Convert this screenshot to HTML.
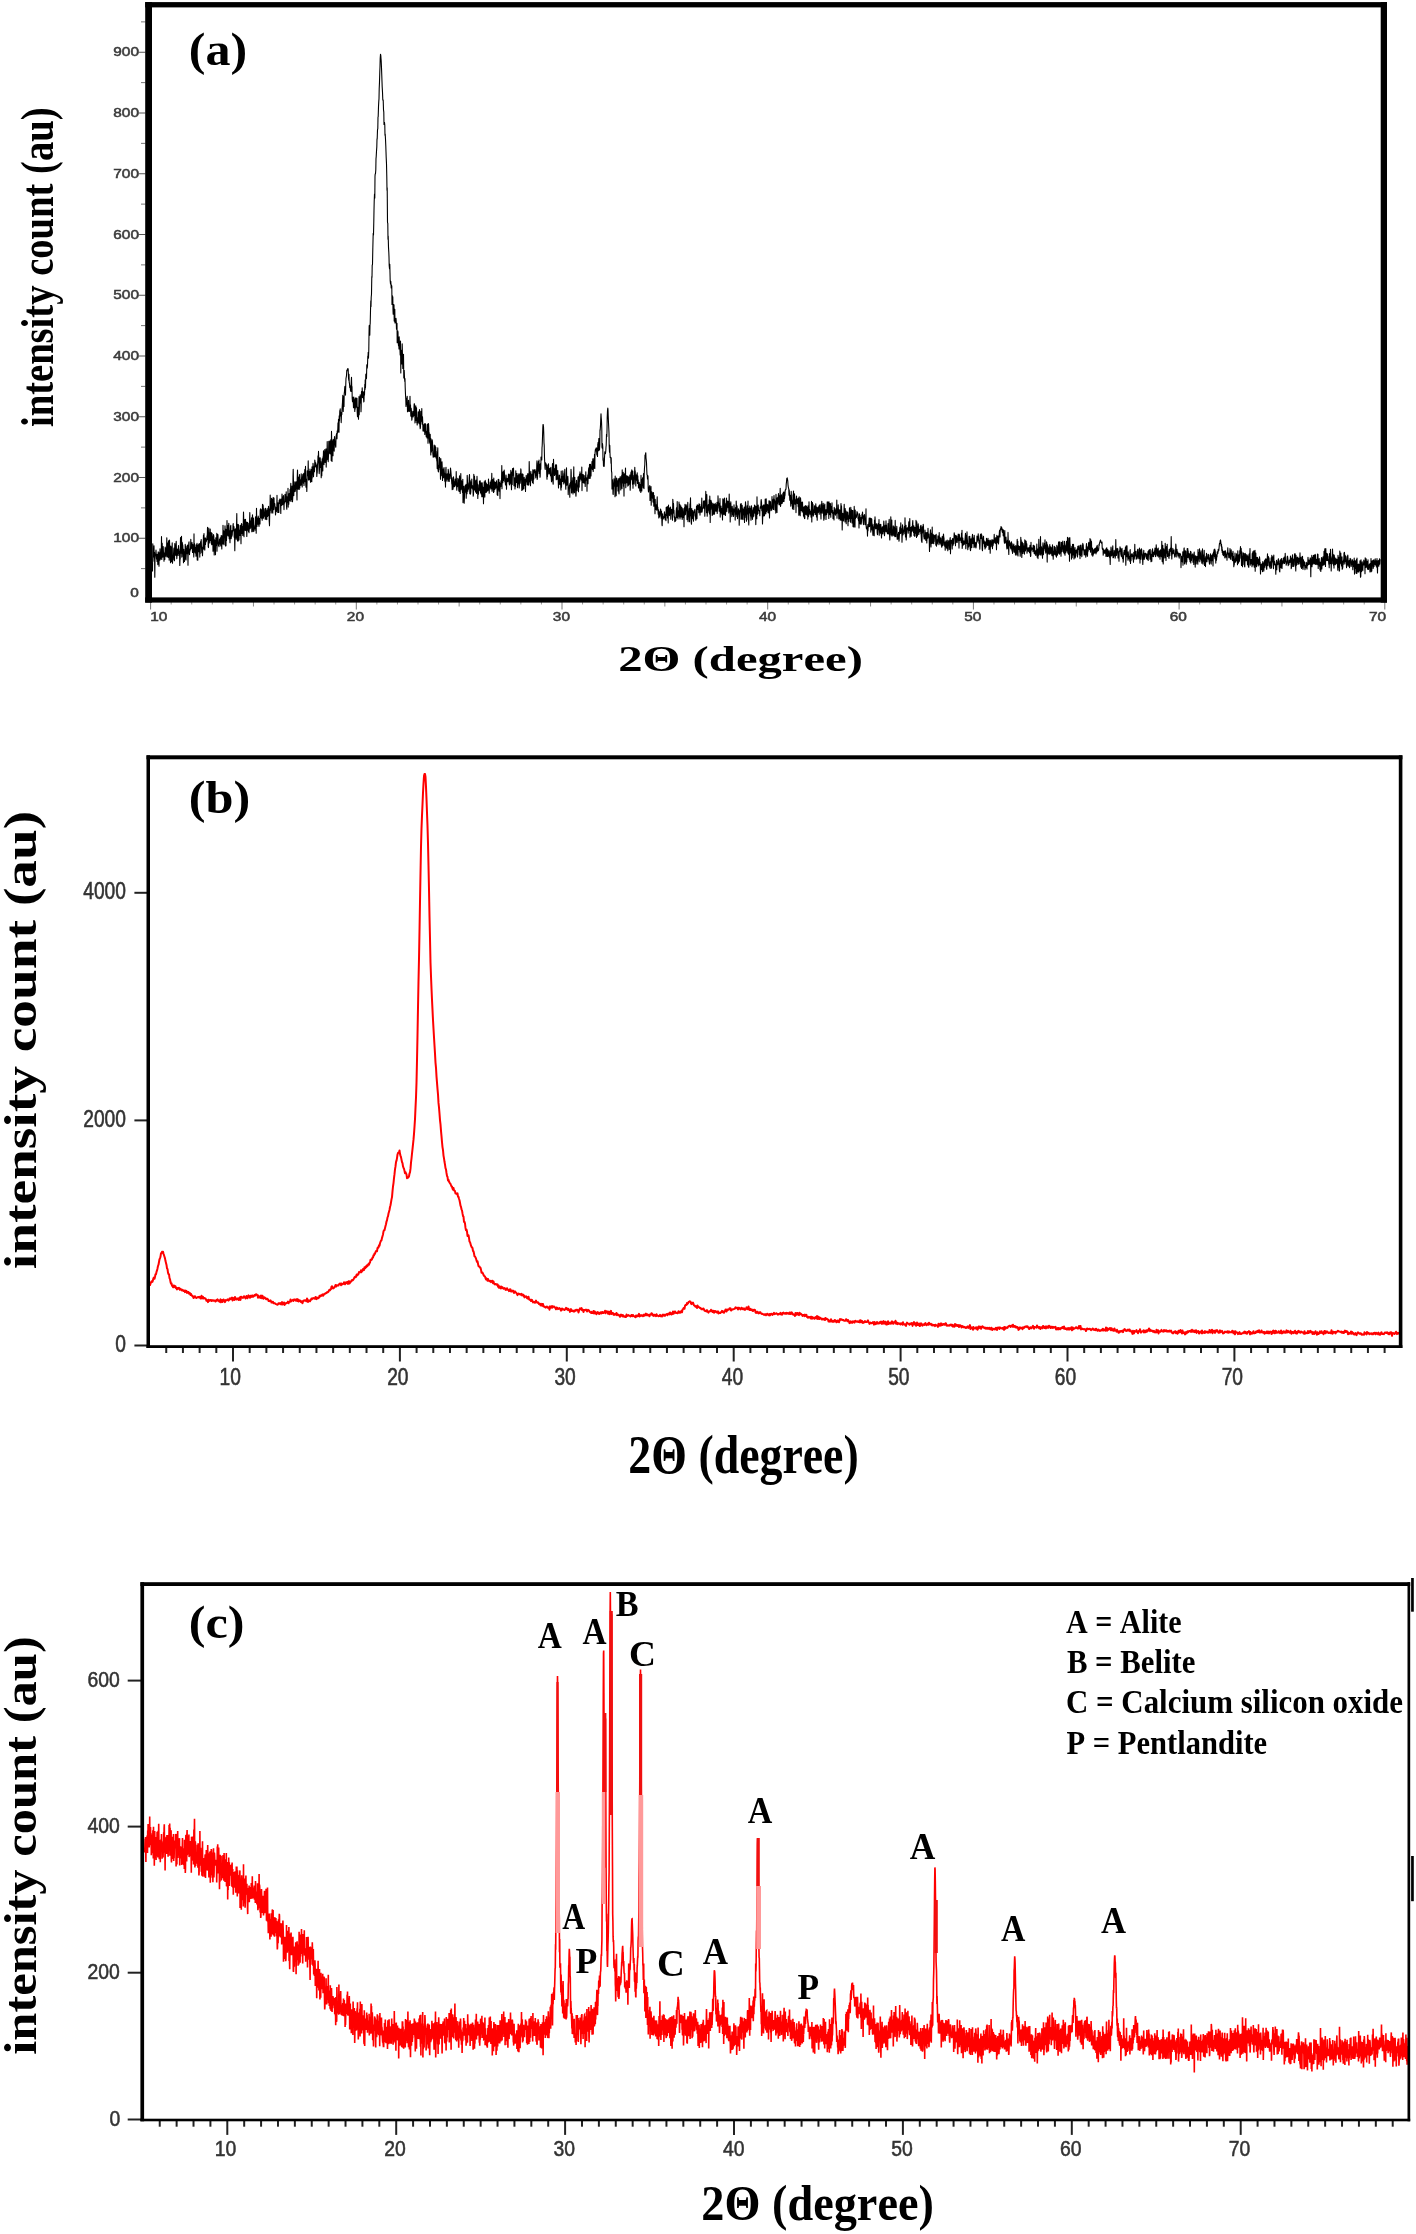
<!DOCTYPE html>
<html><head><meta charset="utf-8"><style>
html,body{margin:0;padding:0;background:#fff;}
svg{display:block;will-change:transform;}
text{font-kerning:none;}
</style></head><body>
<svg width="1416" height="2234" viewBox="0 0 1416 2234">
<rect width="1416" height="2234" fill="#fff"/>
<path d="M152.5,571.5 L152.8,543.7 153.0,561.3 153.2,555.2 153.5,555.7 153.8,556.9 154.0,545.8 154.2,556.4 154.5,552.4 154.8,577.3 155.0,558.5 155.2,554.9 155.5,555.1 155.8,552.6 156.0,550.1 156.2,553.9 156.5,559.0 156.8,554.5 157.0,561.5 157.2,554.4 157.5,555.6 157.8,564.6 158.0,558.4 158.2,551.9 158.5,553.7 158.8,557.9 159.0,566.2 159.2,552.8 159.5,552.8 159.8,560.2 160.0,548.7 160.2,552.2 160.5,559.2 160.8,557.2 161.0,554.2 161.2,557.6 161.5,536.5 161.8,559.5 162.0,547.5 162.2,543.2 162.5,554.8 162.8,557.3 163.0,550.4 163.2,546.5 163.5,553.1 163.8,552.6 164.0,561.3 164.2,557.3 164.5,553.9 164.8,559.4 165.0,551.5 165.2,547.1 165.5,556.2 165.8,556.2 166.0,551.4 166.2,548.0 166.5,554.1 166.8,537.7 167.0,556.9 167.2,555.8 167.5,543.0 167.8,553.2 168.0,547.1 168.2,557.5 168.5,540.7 168.8,547.5 169.0,557.3 169.2,560.1 169.5,540.1 169.8,550.2 170.0,555.2 170.2,549.5 170.5,562.8 170.8,546.1 171.0,555.4 171.2,547.0 171.5,561.8 171.8,553.1 172.0,551.0 172.2,542.9 172.5,563.3 172.8,557.7 173.0,557.7 173.2,559.9 173.5,555.1 173.8,549.0 174.0,548.0 174.2,547.9 174.5,560.8 174.8,543.6 175.0,548.7 175.2,550.3 175.5,553.4 175.8,555.4 176.0,544.2 176.2,541.2 176.5,551.5 176.8,558.7 177.0,555.8 177.2,552.4 177.5,549.0 177.8,552.6 178.0,549.2 178.2,555.5 178.5,545.6 178.8,551.1 179.0,549.6 179.2,553.4 179.5,551.4 179.8,565.4 180.0,559.0 180.2,559.0 180.5,537.6 180.8,547.9 181.0,546.3 181.2,553.2 181.5,536.2 181.8,557.1 182.0,556.5 182.2,542.3 182.5,544.3 182.8,545.4 183.0,550.6 183.2,554.3 183.5,562.8 183.8,549.3 184.0,555.2 184.2,551.6 184.5,561.4 184.8,555.3 185.0,559.1 185.2,544.4 185.5,549.7 185.8,546.0 186.0,560.0 186.2,554.9 186.5,549.1 186.8,548.1 187.0,553.8 187.2,546.5 187.5,545.0 187.8,553.5 188.0,565.3 188.2,548.8 188.5,546.8 188.8,542.9 189.0,541.8 189.2,552.8 189.5,554.6 189.8,549.3 190.0,551.1 190.2,549.6 190.5,549.5 190.8,539.2 191.0,545.5 191.2,548.8 191.5,543.2 191.8,544.8 192.0,542.6 192.2,545.3 192.5,552.4 192.8,544.6 193.0,546.0 193.2,551.7 193.5,550.6 193.8,556.9 194.0,533.9 194.2,551.7 194.5,543.5 194.8,547.2 195.0,551.5 195.2,553.0 195.5,552.7 195.8,547.4 196.0,556.3 196.2,544.9 196.5,545.8 196.8,551.6 197.0,543.4 197.2,560.0 197.5,553.1 197.8,560.2 198.0,546.9 198.2,544.8 198.5,548.2 198.8,551.7 199.0,543.7 199.2,549.6 199.5,547.2 199.8,557.1 200.0,543.2 200.2,553.6 200.5,543.2 200.8,541.2 201.0,542.7 201.2,539.6 201.5,547.6 201.8,552.7 202.0,547.3 202.2,549.9 202.5,555.7 202.8,547.2 203.0,546.5 203.2,543.4 203.5,535.0 203.8,549.1 204.0,533.5 204.2,547.8 204.5,543.5 204.8,550.1 205.0,542.5 205.2,537.7 205.5,544.5 205.8,538.7 206.0,540.7 206.2,541.8 206.5,540.5 206.8,539.9 207.0,535.8 207.2,539.5 207.5,527.4 207.8,539.3 208.0,532.8 208.2,546.8 208.5,547.6 208.8,528.0 209.0,540.7 209.2,539.0 209.5,533.4 209.8,543.0 210.0,537.0 210.2,529.1 210.5,538.2 210.8,539.0 211.0,540.6 211.2,532.6 211.5,543.9 211.8,544.7 212.0,533.3 212.2,536.4 212.5,540.0 212.8,537.1 213.0,551.2 213.2,542.0 213.5,534.6 213.8,536.0 214.0,540.5 214.2,554.9 214.5,539.9 214.8,541.8 215.0,544.1 215.2,540.7 215.5,554.8 215.8,537.7 216.0,545.4 216.2,541.8 216.5,544.5 216.8,533.4 217.0,551.3 217.2,539.6 217.5,540.5 217.8,534.4 218.0,535.5 218.2,543.3 218.5,545.7 218.8,544.1 219.0,546.7 219.2,543.5 219.5,539.2 219.8,543.9 220.0,542.2 220.2,537.8 220.5,542.7 220.8,545.9 221.0,539.3 221.2,535.5 221.5,541.9 221.8,548.9 222.0,535.8 222.2,536.4 222.5,535.9 222.8,544.0 223.0,525.2 223.2,538.4 223.5,543.3 223.8,530.9 224.0,544.8 224.2,538.8 224.5,532.1 224.8,536.5 225.0,525.8 225.2,531.5 225.5,546.0 225.8,529.3 226.0,545.8 226.2,534.0 226.5,540.4 226.8,534.5 227.0,520.5 227.2,530.5 227.5,535.1 227.8,526.8 228.0,525.6 228.2,535.9 228.5,529.7 228.8,523.2 229.0,529.4 229.2,538.7 229.5,530.6 229.8,539.1 230.0,542.7 230.2,533.6 230.5,526.4 230.8,525.4 231.0,533.2 231.2,538.7 231.5,534.9 231.8,536.6 232.0,530.6 232.2,535.1 232.5,530.4 232.8,531.3 233.0,525.3 233.2,523.6 233.5,530.2 233.8,526.4 234.0,527.3 234.2,537.2 234.5,532.4 234.8,550.8 235.0,538.6 235.2,529.0 235.5,537.6 235.8,534.9 236.0,528.5 236.2,539.3 236.5,527.7 236.8,513.6 237.0,537.1 237.2,528.3 237.5,541.0 237.8,527.8 238.0,524.4 238.2,541.0 238.5,524.8 238.8,532.4 239.0,539.9 239.2,531.5 239.5,530.2 239.8,531.1 240.0,535.4 240.2,525.2 240.5,533.7 240.8,533.3 241.0,543.8 241.2,527.3 241.5,523.6 241.8,533.5 242.0,526.4 242.2,530.4 242.5,529.3 242.8,535.4 243.0,524.1 243.2,527.4 243.5,512.1 243.8,522.1 244.0,536.8 244.2,523.1 244.5,522.8 244.8,519.5 245.0,530.3 245.2,527.7 245.5,519.2 245.8,530.4 246.0,527.8 246.2,530.6 246.5,522.0 246.8,536.4 247.0,528.1 247.2,524.8 247.5,522.2 247.8,523.7 248.0,530.3 248.2,523.3 248.5,531.4 248.8,528.3 249.0,532.8 249.2,529.4 249.5,524.0 249.8,512.5 250.0,525.9 250.2,528.8 250.5,524.9 250.8,527.2 251.0,520.8 251.2,521.2 251.5,517.7 251.8,531.7 252.0,524.2 252.2,520.1 252.5,514.9 252.8,522.0 253.0,531.6 253.2,525.5 253.5,518.1 253.8,531.2 254.0,531.1 254.2,528.2 254.5,526.9 254.8,529.0 255.0,525.1 255.2,526.3 255.5,516.7 255.8,530.5 256.0,522.5 256.2,533.3 256.5,508.2 256.8,524.9 257.0,526.4 257.2,518.0 257.5,522.7 257.8,524.3 258.0,523.0 258.2,516.0 258.5,518.2 258.8,525.1 259.0,526.4 259.2,518.9 259.5,518.6 259.8,519.1 260.0,524.0 260.2,510.9 260.5,508.9 260.8,517.6 261.0,509.8 261.2,512.7 261.5,516.6 261.8,518.8 262.0,509.0 262.2,520.3 262.5,504.2 262.8,518.2 263.0,504.9 263.2,506.6 263.5,518.1 263.8,511.5 264.0,508.9 264.2,510.8 264.5,516.2 264.8,512.8 265.0,512.8 265.2,519.3 265.5,508.2 265.8,509.5 266.0,509.1 266.2,519.3 266.5,518.0 266.8,519.7 267.0,511.4 267.2,510.4 267.5,516.5 267.8,508.6 268.0,516.0 268.2,515.1 268.5,506.2 268.8,509.8 269.0,509.4 269.2,520.6 269.5,525.7 269.8,508.9 270.0,509.4 270.2,495.1 270.5,510.2 270.8,508.6 271.0,501.8 271.2,513.0 271.5,498.3 271.8,506.4 272.0,508.3 272.2,499.5 272.5,512.2 272.8,513.2 273.0,497.9 273.2,497.5 273.5,509.6 273.8,505.5 274.0,498.0 274.2,503.4 274.5,504.3 274.8,503.8 275.0,509.6 275.2,506.6 275.5,514.9 275.8,512.3 276.0,507.8 276.2,510.0 276.5,511.4 276.8,507.4 277.0,495.3 277.2,508.0 277.5,503.0 277.8,512.4 278.0,502.9 278.2,505.4 278.5,504.1 278.8,512.4 279.0,503.0 279.2,500.2 279.5,503.7 279.8,499.0 280.0,502.7 280.2,501.6 280.5,503.3 280.8,513.4 281.0,499.0 281.2,501.7 281.5,500.2 281.8,505.5 282.0,494.0 282.2,497.0 282.5,501.0 282.8,504.5 283.0,500.8 283.2,497.9 283.5,495.6 283.8,504.0 284.0,509.6 284.2,502.6 284.5,501.6 284.8,503.0 285.0,494.3 285.2,498.0 285.5,498.1 285.8,501.4 286.0,499.2 286.2,491.7 286.5,505.9 286.8,509.2 287.0,496.8 287.2,500.7 287.5,499.6 287.8,502.5 288.0,488.3 288.2,507.1 288.5,493.9 288.8,504.3 289.0,496.7 289.2,493.5 289.5,494.7 289.8,500.8 290.0,489.6 290.2,492.2 290.5,491.2 290.8,483.2 291.0,501.5 291.2,496.7 291.5,492.6 291.8,499.5 292.0,486.0 292.2,491.1 292.5,501.8 292.8,496.7 293.0,476.5 293.2,469.3 293.5,483.0 293.8,495.6 294.0,485.7 294.2,486.9 294.5,491.6 294.8,481.9 295.0,488.3 295.2,491.5 295.5,489.1 295.8,488.3 296.0,481.7 296.2,488.3 296.5,482.1 296.8,492.5 297.0,499.9 297.2,479.1 297.5,470.0 297.8,480.5 298.0,485.2 298.2,489.1 298.5,489.0 298.8,477.2 299.0,476.9 299.2,489.4 299.5,474.6 299.8,487.9 300.0,479.5 300.2,485.5 300.5,484.9 300.8,485.1 301.0,485.2 301.2,473.8 301.5,481.6 301.8,479.7 302.0,481.4 302.2,486.9 302.5,477.4 302.8,474.6 303.0,474.3 303.2,476.7 303.5,483.2 303.8,473.3 304.0,485.4 304.2,479.9 304.5,476.5 304.8,469.6 305.0,479.2 305.2,481.8 305.5,466.4 305.8,484.6 306.0,487.2 306.2,479.0 306.5,479.8 306.8,491.5 307.0,484.0 307.2,470.7 307.5,475.9 307.8,474.9 308.0,474.8 308.2,460.9 308.5,480.0 308.8,471.2 309.0,475.9 309.2,473.8 309.5,479.8 309.8,472.4 310.0,469.1 310.2,477.1 310.5,482.2 310.8,471.3 311.0,481.5 311.2,474.4 311.5,469.2 311.8,481.7 312.0,466.9 312.2,477.9 312.5,468.3 312.8,473.9 313.0,463.2 313.2,465.3 313.5,476.8 313.8,471.0 314.0,469.8 314.2,466.5 314.5,471.7 314.8,460.0 315.0,461.4 315.2,467.0 315.5,462.6 315.8,463.1 316.0,466.7 316.2,465.9 316.5,465.1 316.8,476.5 317.0,472.2 317.2,473.2 317.5,465.2 317.8,461.9 318.0,455.8 318.2,462.4 318.5,451.4 318.8,460.4 319.0,468.5 319.2,473.6 319.5,469.3 319.8,457.8 320.0,465.9 320.2,457.8 320.5,467.5 320.8,461.5 321.0,467.3 321.2,477.7 321.5,467.2 321.8,475.7 322.0,462.2 322.2,458.8 322.5,468.8 322.8,471.0 323.0,456.7 323.2,460.3 323.5,450.7 323.8,458.1 324.0,464.6 324.2,458.3 324.5,455.0 324.8,449.5 325.0,460.2 325.2,462.5 325.5,461.0 325.8,458.5 326.0,448.8 326.2,467.1 326.5,455.6 326.8,454.7 327.0,459.7 327.2,441.5 327.5,454.0 327.8,453.2 328.0,455.9 328.2,461.6 328.5,455.8 328.8,441.3 329.0,450.1 329.2,453.2 329.5,452.5 329.8,443.4 330.0,440.7 330.2,454.0 330.5,452.5 330.8,449.9 331.0,439.2 331.2,460.4 331.5,431.4 331.8,446.7 332.0,461.5 332.2,447.4 332.5,449.5 332.8,440.5 333.0,455.7 333.2,439.2 333.5,448.3 333.8,447.2 334.0,439.6 334.2,451.1 334.5,436.6 334.8,440.7 335.0,444.2 335.2,441.2 335.5,445.7 335.8,447.3 336.0,438.5 336.2,435.5 336.5,434.1 336.8,433.3 337.0,438.8 337.2,430.9 337.5,433.1 337.8,428.7 338.0,422.8 338.2,432.0 338.5,419.3 338.8,424.5 339.0,432.3 339.2,415.7 339.5,420.8 339.8,410.6 340.0,415.9 340.2,408.9 340.5,414.6 340.8,412.4 341.0,415.2 341.2,422.6 341.5,413.7 341.8,414.7 342.0,409.2 342.2,406.8 342.5,402.1 342.8,395.2 343.0,404.3 343.2,411.4 343.5,403.4 343.8,396.4 344.0,406.4 344.2,393.8 344.5,391.2 344.8,386.7 345.0,386.4 345.2,387.8 345.5,395.1 345.8,383.6 346.0,378.3 346.2,377.3 346.5,375.7 346.8,370.2 347.0,371.2 347.2,370.0 347.5,368.9 347.8,369.7 348.0,368.6 348.2,369.3 348.5,377.9 348.8,380.4 349.0,374.3 349.2,382.4 349.5,383.6 349.8,387.6 350.0,387.7 350.2,385.7 350.5,390.4 350.8,391.4 351.0,391.4 351.2,382.6 351.5,377.2 351.8,390.2 352.0,386.5 352.2,398.1 352.5,401.7 352.8,400.1 353.0,397.3 353.2,400.6 353.5,407.7 353.8,397.1 354.0,407.3 354.2,406.4 354.5,404.0 354.8,411.5 355.0,398.8 355.2,409.1 355.5,398.1 355.8,399.4 356.0,397.9 356.2,407.2 356.5,399.1 356.8,405.3 357.0,398.4 357.2,411.9 357.5,416.7 357.8,407.2 358.0,415.9 358.2,409.5 358.5,419.2 358.8,406.7 359.0,396.5 359.2,414.8 359.5,404.8 359.8,399.1 360.0,401.0 360.2,394.8 360.5,403.0 360.8,397.1 361.0,411.8 361.2,406.2 361.5,391.6 361.8,391.8 362.0,396.6 362.2,387.7 362.5,397.6 362.8,397.1 363.0,391.8 363.2,392.2 363.5,397.4 363.8,401.9 364.0,401.3 364.2,391.5 364.5,395.1 364.8,384.3 365.0,389.5 365.2,379.7 365.5,387.8 365.8,374.4 366.0,374.0 366.2,377.5 366.5,378.6 366.8,364.7 367.0,367.2 367.2,368.2 367.5,365.6 367.8,356.1 368.0,358.0 368.2,352.3 368.5,358.1 368.8,349.4 369.0,334.7 369.2,325.5 369.5,334.0 369.8,335.3 370.0,324.9 370.2,323.7 370.5,311.0 370.8,300.7 371.0,306.6 371.2,297.3 371.5,294.3 371.8,276.6 372.0,277.4 372.2,265.3 372.5,264.5 372.8,249.2 373.0,241.0 373.2,233.4 373.5,235.1 373.8,221.5 374.0,210.2 374.2,201.5 374.5,194.0 374.8,198.1 375.0,176.4 375.2,173.9 375.5,173.7 375.8,169.7 376.0,158.6 376.2,156.7 376.5,151.3 376.8,147.0 377.0,138.9 377.2,139.1 377.5,129.9 377.8,128.7 378.0,116.9 378.2,116.8 378.5,106.8 378.8,101.1 379.0,98.7 379.2,89.0 379.5,82.1 379.8,71.5 380.0,66.4 380.2,58.6 380.5,54.2 380.8,55.5 381.0,58.5 381.2,60.9 381.5,67.7 381.8,76.1 382.0,81.4 382.2,86.9 382.5,92.1 382.8,100.0 383.0,99.8 383.2,99.9 383.5,109.7 383.8,112.1 384.0,124.4 384.2,122.9 384.5,122.5 384.8,125.3 385.0,135.2 385.2,134.0 385.5,139.2 385.8,145.9 386.0,151.8 386.2,157.5 386.5,163.8 386.8,176.9 387.0,190.2 387.2,187.7 387.5,222.4 387.8,223.5 388.0,239.3 388.2,236.0 388.5,247.4 388.8,252.3 389.0,256.9 389.2,265.5 389.5,268.8 389.8,264.2 390.0,272.7 390.2,280.8 390.5,283.9 390.8,281.4 391.0,284.5 391.2,287.9 391.5,285.1 391.8,286.3 392.0,304.5 392.2,295.3 392.5,299.9 392.8,296.8 393.0,310.1 393.2,314.3 393.5,304.6 393.8,310.4 394.0,304.8 394.2,321.1 394.5,317.9 394.8,309.3 395.0,323.0 395.2,319.4 395.5,321.3 395.8,322.6 396.0,318.2 396.2,320.7 396.5,329.2 396.8,327.0 397.0,323.4 397.2,342.8 397.5,331.3 397.8,331.0 398.0,332.0 398.2,342.0 398.5,345.6 398.8,343.2 399.0,348.9 399.2,336.7 399.5,345.3 399.8,346.5 400.0,350.8 400.2,355.0 400.5,341.0 400.8,373.0 401.0,350.1 401.2,358.4 401.5,362.5 401.8,363.9 402.0,361.4 402.2,343.7 402.5,355.9 402.8,368.4 403.0,359.7 403.2,360.5 403.5,354.3 403.8,377.9 404.0,375.9 404.2,370.2 404.5,377.9 404.8,381.4 405.0,378.5 405.2,387.2 405.5,394.4 405.8,399.7 406.0,406.4 406.2,400.2 406.5,398.4 406.8,404.7 407.0,399.4 407.2,396.4 407.5,411.7 407.8,403.0 408.0,406.7 408.2,410.5 408.5,400.3 408.8,411.5 409.0,410.8 409.2,407.9 409.5,411.4 409.8,404.8 410.0,396.3 410.2,408.4 410.5,404.9 410.8,416.1 411.0,412.7 411.2,408.2 411.5,412.0 411.8,420.2 412.0,419.2 412.2,414.7 412.5,415.3 412.8,411.2 413.0,412.3 413.2,416.9 413.5,412.8 413.8,415.6 414.0,407.1 414.2,403.9 414.5,403.9 414.8,411.9 415.0,422.9 415.2,422.2 415.5,409.1 415.8,405.8 416.0,420.5 416.2,418.7 416.5,407.7 416.8,422.8 417.0,417.6 417.2,424.9 417.5,419.1 417.8,422.7 418.0,419.5 418.2,411.9 418.5,416.6 418.8,414.1 419.0,423.6 419.2,412.6 419.5,409.6 419.8,423.5 420.0,426.6 420.2,428.7 420.5,426.8 420.8,411.2 421.0,416.4 421.2,417.7 421.5,421.2 421.8,408.5 422.0,422.0 422.2,424.1 422.5,416.9 422.8,423.9 423.0,430.9 423.2,424.2 423.5,430.9 423.8,431.1 424.0,427.8 424.2,428.1 424.5,423.9 424.8,434.4 425.0,424.4 425.2,423.5 425.5,432.7 425.8,424.5 426.0,432.2 426.2,436.7 426.5,431.4 426.8,432.2 427.0,437.9 427.2,437.5 427.5,424.1 427.8,426.2 428.0,443.2 428.2,438.1 428.5,423.6 428.8,428.8 429.0,438.0 429.2,432.6 429.5,442.2 429.8,440.5 430.0,443.8 430.2,434.3 430.5,446.1 430.8,455.0 431.0,438.8 431.2,452.5 431.5,451.1 431.8,449.7 432.0,446.0 432.2,439.9 432.5,442.3 432.8,453.2 433.0,455.2 433.2,457.3 433.5,456.4 433.8,456.7 434.0,449.1 434.2,445.0 434.5,454.4 434.8,456.9 435.0,455.0 435.2,445.8 435.5,452.6 435.8,447.3 436.0,458.0 436.2,451.2 436.5,457.3 436.8,461.0 437.0,460.4 437.2,468.6 437.5,454.0 437.8,447.9 438.0,467.8 438.2,471.2 438.5,471.9 438.8,465.4 439.0,467.6 439.2,465.6 439.5,457.4 439.8,462.4 440.0,469.5 440.2,463.4 440.5,479.3 440.8,458.5 441.0,465.8 441.2,475.8 441.5,465.7 441.8,462.9 442.0,461.9 442.2,466.2 442.5,480.5 442.8,474.1 443.0,475.1 443.2,469.0 443.5,477.8 443.8,473.5 444.0,467.5 444.2,470.6 444.5,474.9 444.8,481.2 445.0,473.8 445.2,477.5 445.5,487.1 445.8,469.9 446.0,467.4 446.2,481.3 446.5,478.1 446.8,475.0 447.0,477.4 447.2,473.9 447.5,479.3 447.8,474.2 448.0,481.3 448.2,469.3 448.5,471.6 448.8,477.5 449.0,474.1 449.2,481.4 449.5,477.0 449.8,474.0 450.0,478.8 450.2,474.4 450.5,468.1 450.8,470.9 451.0,473.1 451.2,475.2 451.5,478.9 451.8,484.0 452.0,481.9 452.2,489.7 452.5,486.7 452.8,477.8 453.0,489.3 453.2,486.6 453.5,476.7 453.8,481.6 454.0,486.6 454.2,481.6 454.5,486.6 454.8,482.9 455.0,485.1 455.2,479.0 455.5,483.5 455.8,479.2 456.0,485.9 456.2,471.5 456.5,484.3 456.8,490.2 457.0,486.3 457.2,482.8 457.5,486.6 457.8,478.3 458.0,478.7 458.2,481.9 458.5,483.5 458.8,490.7 459.0,479.5 459.2,491.5 459.5,475.8 459.8,481.0 460.0,485.9 460.2,493.5 460.5,482.8 460.8,473.6 461.0,489.7 461.2,487.2 461.5,480.9 461.8,481.3 462.0,483.6 462.2,488.7 462.5,492.4 462.8,479.2 463.0,502.6 463.2,488.3 463.5,486.3 463.8,492.9 464.0,489.4 464.2,503.2 464.5,495.6 464.8,486.5 465.0,486.3 465.2,485.6 465.5,486.5 465.8,492.7 466.0,484.4 466.2,498.3 466.5,487.6 466.8,487.1 467.0,493.7 467.2,475.4 467.5,481.7 467.8,491.1 468.0,487.2 468.2,486.9 468.5,489.3 468.8,482.9 469.0,485.4 469.2,477.9 469.5,474.5 469.8,493.8 470.0,480.0 470.2,481.2 470.5,494.1 470.8,491.9 471.0,482.0 471.2,481.8 471.5,484.5 471.8,479.0 472.0,488.3 472.2,485.7 472.5,485.6 472.8,489.5 473.0,489.3 473.2,496.2 473.5,494.2 473.8,474.3 474.0,490.5 474.2,478.1 474.5,476.2 474.8,489.5 475.0,480.9 475.2,483.3 475.5,492.0 475.8,481.4 476.0,480.1 476.2,487.7 476.5,493.4 476.8,489.2 477.0,476.4 477.2,482.1 477.5,485.3 477.8,498.4 478.0,492.1 478.2,491.9 478.5,494.2 478.8,484.9 479.0,489.9 479.2,490.1 479.5,481.1 479.8,487.1 480.0,490.8 480.2,480.7 480.5,492.5 480.8,492.2 481.0,494.0 481.2,482.9 481.5,488.4 481.8,496.7 482.0,492.7 482.2,482.9 482.5,489.3 482.8,496.7 483.0,487.4 483.2,490.3 483.5,503.8 483.8,487.7 484.0,487.3 484.2,481.7 484.5,483.8 484.8,497.1 485.0,487.0 485.2,480.4 485.5,482.0 485.8,487.7 486.0,492.4 486.2,483.0 486.5,491.9 486.8,484.4 487.0,489.6 487.2,490.5 487.5,491.0 487.8,484.5 488.0,486.1 488.2,490.2 488.5,479.0 488.8,488.0 489.0,490.0 489.2,493.3 489.5,486.5 489.8,485.5 490.0,487.5 490.2,482.0 490.5,485.2 490.8,489.0 491.0,488.2 491.2,480.0 491.5,484.4 491.8,473.3 492.0,491.3 492.2,483.1 492.5,487.9 492.8,479.6 493.0,485.9 493.2,489.2 493.5,492.5 493.8,478.0 494.0,491.7 494.2,485.5 494.5,481.7 494.8,489.5 495.0,484.8 495.2,484.8 495.5,482.3 495.8,488.1 496.0,487.0 496.2,485.7 496.5,480.9 496.8,483.7 497.0,489.4 497.2,494.8 497.5,486.6 497.8,495.4 498.0,486.4 498.2,479.4 498.5,489.7 498.8,479.5 499.0,487.6 499.2,491.3 499.5,482.3 499.8,483.2 500.0,498.6 500.2,484.3 500.5,484.0 500.8,486.8 501.0,480.9 501.2,480.5 501.5,483.0 501.8,465.5 502.0,488.8 502.2,473.2 502.5,472.9 502.8,482.8 503.0,479.5 503.2,471.6 503.5,480.6 503.8,472.3 504.0,475.0 504.2,470.0 504.5,474.1 504.8,481.7 505.0,480.0 505.2,481.1 505.5,484.9 505.8,478.9 506.0,475.1 506.2,477.4 506.5,489.3 506.8,479.3 507.0,481.1 507.2,478.5 507.5,480.7 507.8,481.8 508.0,479.1 508.2,478.2 508.5,474.4 508.8,474.0 509.0,481.7 509.2,483.8 509.5,484.9 509.8,479.6 510.0,474.2 510.2,483.2 510.5,483.1 510.8,470.2 511.0,484.3 511.2,483.0 511.5,489.7 511.8,472.6 512.0,471.7 512.2,484.4 512.5,468.6 512.8,475.2 513.0,473.0 513.2,473.5 513.5,468.1 513.8,478.4 514.0,485.8 514.2,482.6 514.5,482.7 514.8,477.8 515.0,488.9 515.2,483.3 515.5,486.6 515.8,470.7 516.0,482.3 516.2,473.3 516.5,482.4 516.8,481.6 517.0,473.5 517.2,481.5 517.5,487.6 517.8,483.6 518.0,484.1 518.2,475.3 518.5,476.4 518.8,473.8 519.0,481.4 519.2,487.9 519.5,483.3 519.8,480.6 520.0,473.8 520.2,483.3 520.5,479.1 520.8,468.9 521.0,470.0 521.2,478.4 521.5,475.0 521.8,490.4 522.0,480.5 522.2,473.9 522.5,477.2 522.8,489.8 523.0,474.3 523.2,484.7 523.5,482.6 523.8,488.8 524.0,483.0 524.2,477.3 524.5,482.9 524.8,480.0 525.0,485.5 525.2,479.2 525.5,491.5 525.8,478.8 526.0,482.1 526.2,475.4 526.5,480.0 526.8,479.4 527.0,480.1 527.2,484.4 527.5,475.6 527.8,473.5 528.0,485.2 528.2,476.6 528.5,474.1 528.8,484.9 529.0,482.4 529.2,461.5 529.5,475.0 529.8,481.7 530.0,481.8 530.2,473.4 530.5,485.7 530.8,471.2 531.0,474.3 531.2,476.2 531.5,475.1 531.8,479.7 532.0,480.8 532.2,474.1 532.5,482.5 532.8,469.7 533.0,472.2 533.2,483.6 533.5,473.6 533.8,479.1 534.0,469.9 534.2,470.6 534.5,471.3 534.8,472.8 535.0,469.5 535.2,471.4 535.5,475.1 535.8,478.0 536.0,471.4 536.2,474.4 536.5,475.8 536.8,463.9 537.0,460.9 537.2,479.5 537.5,477.6 537.8,470.1 538.0,471.6 538.2,463.9 538.5,461.2 538.8,470.7 539.0,460.1 539.2,473.4 539.5,464.0 539.8,468.9 540.0,477.3 540.2,476.1 540.5,463.5 540.8,469.3 541.0,457.1 541.2,457.4 541.5,459.3 541.8,460.0 542.0,447.7 542.2,445.7 542.5,437.5 542.8,428.0 543.0,424.5 543.2,424.6 543.5,426.6 543.8,434.4 544.0,443.1 544.2,445.1 544.5,457.7 544.8,463.7 545.0,467.9 545.2,469.4 545.5,462.7 545.8,463.5 546.0,463.7 546.2,464.0 546.5,465.4 546.8,476.0 547.0,479.3 547.2,467.9 547.5,476.6 547.8,465.1 548.0,470.8 548.2,467.2 548.5,463.8 548.8,473.7 549.0,474.1 549.2,471.4 549.5,470.8 549.8,468.2 550.0,473.3 550.2,470.6 550.5,475.7 550.8,467.2 551.0,475.7 551.2,477.4 551.5,481.8 551.8,480.7 552.0,475.6 552.2,470.4 552.5,463.6 552.8,474.4 553.0,482.9 553.2,484.3 553.5,459.3 553.8,469.9 554.0,472.4 554.2,468.2 554.5,475.5 554.8,474.6 555.0,471.3 555.2,474.2 555.5,464.9 555.8,468.6 556.0,469.1 556.2,479.7 556.5,464.7 556.8,473.1 557.0,479.1 557.2,474.1 557.5,479.3 557.8,470.6 558.0,477.2 558.2,480.0 558.5,488.0 558.8,479.1 559.0,483.4 559.2,475.0 559.5,475.6 559.8,484.5 560.0,478.8 560.2,483.9 560.5,479.8 560.8,488.4 561.0,490.1 561.2,471.1 561.5,487.3 561.8,479.1 562.0,479.5 562.2,476.2 562.5,481.4 562.8,470.8 563.0,473.3 563.2,473.4 563.5,479.9 563.8,484.0 564.0,483.2 564.2,481.3 564.5,475.8 564.8,469.2 565.0,482.3 565.2,481.1 565.5,482.6 565.8,489.3 566.0,479.9 566.2,480.1 566.5,467.7 566.8,485.1 567.0,481.7 567.2,477.8 567.5,484.7 567.8,476.4 568.0,479.6 568.2,494.6 568.5,487.6 568.8,488.7 569.0,487.8 569.2,487.3 569.5,484.7 569.8,497.2 570.0,483.2 570.2,488.1 570.5,482.4 570.8,481.6 571.0,469.2 571.2,472.3 571.5,492.9 571.8,492.6 572.0,481.1 572.2,483.5 572.5,487.2 572.8,477.7 573.0,494.0 573.2,477.3 573.5,479.1 573.8,466.9 574.0,492.3 574.2,483.6 574.5,492.8 574.8,477.2 575.0,485.0 575.2,483.4 575.5,484.1 575.8,495.2 576.0,496.3 576.2,490.9 576.5,480.4 576.8,488.0 577.0,490.6 577.2,485.9 577.5,485.9 577.8,485.4 578.0,477.1 578.2,483.9 578.5,491.8 578.8,476.4 579.0,482.7 579.2,487.1 579.5,474.0 579.8,481.2 580.0,471.9 580.2,478.3 580.5,473.5 580.8,476.4 581.0,478.8 581.2,479.9 581.5,480.2 581.8,467.1 582.0,490.6 582.2,479.5 582.5,474.5 582.8,477.1 583.0,482.5 583.2,474.6 583.5,477.9 583.8,477.5 584.0,483.2 584.2,475.5 584.5,482.4 584.8,481.6 585.0,478.5 585.2,486.5 585.5,479.1 585.8,471.8 586.0,480.3 586.2,479.0 586.5,477.7 586.8,479.0 587.0,491.2 587.2,478.4 587.5,479.4 587.8,474.9 588.0,483.7 588.2,475.3 588.5,470.6 588.8,467.7 589.0,477.6 589.2,478.5 589.5,464.4 589.8,469.0 590.0,476.6 590.2,478.4 590.5,464.2 590.8,469.1 591.0,475.9 591.2,467.5 591.5,467.5 591.8,466.5 592.0,461.5 592.2,468.8 592.5,469.6 592.8,458.8 593.0,466.6 593.2,471.4 593.5,465.0 593.8,468.1 594.0,458.2 594.2,468.0 594.5,454.3 594.8,468.5 595.0,453.9 595.2,451.2 595.5,449.1 595.8,450.9 596.0,449.6 596.2,447.7 596.5,449.1 596.8,454.3 597.0,455.1 597.2,448.1 597.5,456.5 597.8,443.8 598.0,443.2 598.2,442.2 598.5,450.7 598.8,438.7 599.0,438.5 599.2,450.1 599.5,449.7 599.8,444.7 600.0,429.8 600.2,430.1 600.5,425.4 600.8,417.9 601.0,413.7 601.2,417.5 601.5,421.3 601.8,428.9 602.0,447.2 602.2,448.1 602.5,443.6 602.8,447.2 603.0,460.2 603.2,457.7 603.5,466.2 603.8,461.3 604.0,464.5 604.2,466.4 604.5,458.3 604.8,451.9 605.0,453.7 605.2,453.8 605.5,453.5 605.8,450.8 606.0,447.0 606.2,445.2 606.5,434.3 606.8,436.7 607.0,430.4 607.2,417.9 607.5,410.5 607.8,408.0 608.0,409.7 608.2,415.8 608.5,423.1 608.8,428.7 609.0,433.0 609.2,445.5 609.5,452.3 609.8,445.4 610.0,453.2 610.2,457.5 610.5,457.1 610.8,458.3 611.0,463.3 611.2,457.8 611.5,471.2 611.8,472.8 612.0,488.9 612.2,484.8 612.5,479.8 612.8,483.3 613.0,494.2 613.2,494.4 613.5,487.2 613.8,485.9 614.0,478.7 614.2,485.1 614.5,486.0 614.8,482.7 615.0,496.7 615.2,476.1 615.5,485.9 615.8,488.8 616.0,488.9 616.2,495.8 616.5,478.0 616.8,481.5 617.0,486.1 617.2,486.1 617.5,482.9 617.8,480.6 618.0,490.9 618.2,478.5 618.5,481.0 618.8,492.4 619.0,493.9 619.2,488.8 619.5,478.6 619.8,478.5 620.0,478.0 620.2,476.5 620.5,480.4 620.8,490.0 621.0,483.7 621.2,477.9 621.5,477.6 621.8,475.1 622.0,488.6 622.2,469.9 622.5,482.9 622.8,472.9 623.0,474.9 623.2,472.2 623.5,486.2 623.8,480.0 624.0,496.1 624.2,474.2 624.5,473.8 624.8,483.3 625.0,483.0 625.2,478.1 625.5,468.0 625.8,487.8 626.0,482.6 626.2,481.6 626.5,475.8 626.8,482.8 627.0,475.9 627.2,479.3 627.5,477.9 627.8,486.1 628.0,476.2 628.2,476.9 628.5,485.2 628.8,480.1 629.0,478.7 629.2,477.4 629.5,484.2 629.8,475.1 630.0,481.5 630.2,490.3 630.5,481.1 630.8,474.3 631.0,472.0 631.2,479.7 631.5,472.0 631.8,469.9 632.0,474.7 632.2,472.9 632.5,484.2 632.8,471.0 633.0,488.3 633.2,475.2 633.5,480.2 633.8,483.5 634.0,481.0 634.2,483.9 634.5,474.4 634.8,467.3 635.0,479.1 635.2,470.9 635.5,477.2 635.8,486.0 636.0,479.7 636.2,477.6 636.5,474.8 636.8,479.6 637.0,480.4 637.2,472.7 637.5,483.4 637.8,475.9 638.0,483.3 638.2,479.8 638.5,487.9 638.8,487.4 639.0,482.9 639.2,482.4 639.5,485.6 639.8,491.0 640.0,489.4 640.2,484.6 640.5,485.6 640.8,492.4 641.0,475.4 641.2,487.0 641.5,479.4 641.8,490.9 642.0,481.2 642.2,482.9 642.5,477.7 642.8,482.4 643.0,485.1 643.2,487.7 643.5,473.5 643.8,475.2 644.0,488.6 644.2,474.4 644.5,467.7 644.8,464.7 645.0,455.0 645.2,457.5 645.5,453.8 645.8,452.7 646.0,458.0 646.2,459.5 646.5,462.8 646.8,471.0 647.0,474.6 647.2,474.8 647.5,478.9 647.8,475.6 648.0,476.6 648.2,488.6 648.5,492.0 648.8,488.9 649.0,489.7 649.2,486.7 649.5,488.9 649.8,485.5 650.0,500.4 650.2,488.9 650.5,494.8 650.8,493.4 651.0,486.6 651.2,505.2 651.5,493.4 651.8,491.9 652.0,497.3 652.2,492.4 652.5,498.1 652.8,493.2 653.0,502.1 653.2,499.8 653.5,492.5 653.8,506.3 654.0,502.2 654.2,495.6 654.5,504.3 654.8,505.3 655.0,513.8 655.2,499.2 655.5,509.4 655.8,504.7 656.0,509.2 656.2,504.9 656.5,506.6 656.8,510.3 657.0,501.4 657.2,496.8 657.5,509.0 657.8,507.0 658.0,510.5 658.2,514.1 658.5,509.7 658.8,518.0 659.0,511.4 659.2,512.6 659.5,517.0 659.8,515.9 660.0,512.3 660.2,513.7 660.5,509.0 660.8,509.9 661.0,514.1 661.2,518.2 661.5,511.2 661.8,518.4 662.0,524.7 662.2,525.8 662.5,513.9 662.8,519.7 663.0,517.1 663.2,518.1 663.5,518.3 663.8,516.4 664.0,518.0 664.2,514.3 664.5,511.7 664.8,514.5 665.0,515.7 665.2,519.7 665.5,514.8 665.8,516.8 666.0,520.6 666.2,507.3 666.5,511.0 666.8,515.4 667.0,512.5 667.2,506.6 667.5,517.9 667.8,511.9 668.0,506.7 668.2,522.9 668.5,505.1 668.8,512.3 669.0,508.6 669.2,513.0 669.5,515.6 669.8,507.9 670.0,512.0 670.2,511.9 670.5,507.0 670.8,519.3 671.0,513.8 671.2,511.3 671.5,509.2 671.8,511.2 672.0,513.9 672.2,510.7 672.5,520.3 672.8,499.2 673.0,501.6 673.2,512.2 673.5,503.4 673.8,513.5 674.0,510.3 674.2,517.3 674.5,516.5 674.8,521.6 675.0,519.5 675.2,521.4 675.5,517.5 675.8,520.6 676.0,517.5 676.2,511.4 676.5,507.8 676.8,508.1 677.0,517.6 677.2,501.6 677.5,515.9 677.8,510.7 678.0,519.0 678.2,516.0 678.5,510.6 678.8,514.9 679.0,502.0 679.2,516.1 679.5,517.1 679.8,504.2 680.0,519.0 680.2,513.4 680.5,514.9 680.8,505.8 681.0,516.9 681.2,516.6 681.5,513.1 681.8,507.4 682.0,516.9 682.2,519.4 682.5,514.5 682.8,517.6 683.0,508.6 683.2,512.5 683.5,513.5 683.8,512.0 684.0,526.7 684.2,513.1 684.5,507.5 684.8,515.1 685.0,504.3 685.2,512.3 685.5,514.4 685.8,507.3 686.0,508.2 686.2,504.7 686.5,510.6 686.8,506.2 687.0,519.6 687.2,513.6 687.5,508.9 687.8,502.4 688.0,521.6 688.2,517.7 688.5,513.2 688.8,511.9 689.0,511.9 689.2,508.5 689.5,521.7 689.8,512.6 690.0,503.7 690.2,508.2 690.5,497.7 690.8,515.8 691.0,516.6 691.2,522.3 691.5,524.3 691.8,508.5 692.0,515.5 692.2,518.6 692.5,517.6 692.8,510.5 693.0,517.9 693.2,516.2 693.5,521.1 693.8,513.4 694.0,512.2 694.2,510.7 694.5,511.4 694.8,509.2 695.0,511.5 695.2,516.0 695.5,515.7 695.8,520.3 696.0,518.9 696.2,516.1 696.5,506.2 696.8,515.5 697.0,518.6 697.2,504.8 697.5,505.6 697.8,506.3 698.0,505.6 698.2,509.5 698.5,505.8 698.8,512.8 699.0,503.8 699.2,509.5 699.5,507.2 699.8,504.3 700.0,515.1 700.2,509.3 700.5,511.9 700.8,506.9 701.0,512.3 701.2,511.6 701.5,507.2 701.8,498.1 702.0,512.1 702.2,511.2 702.5,508.2 702.8,508.4 703.0,507.6 703.2,507.8 703.5,501.1 703.8,506.1 704.0,508.1 704.2,502.8 704.5,500.8 704.8,516.2 705.0,509.3 705.2,504.2 705.5,503.2 705.8,491.4 706.0,498.0 706.2,504.4 706.5,512.8 706.8,494.5 707.0,501.9 707.2,516.2 707.5,509.3 707.8,507.9 708.0,512.2 708.2,505.0 708.5,504.7 708.8,509.5 709.0,510.3 709.2,499.8 709.5,514.0 709.8,496.1 710.0,501.9 710.2,522.4 710.5,502.9 710.8,509.3 711.0,500.3 711.2,504.0 711.5,501.9 711.8,503.7 712.0,509.5 712.2,515.5 712.5,510.8 712.8,514.5 713.0,503.4 713.2,514.2 713.5,509.4 713.8,513.9 714.0,504.2 714.2,505.4 714.5,514.2 714.8,510.2 715.0,507.6 715.2,503.4 715.5,506.7 715.8,510.1 716.0,511.5 716.2,504.7 716.5,506.0 716.8,510.4 717.0,502.2 717.2,513.4 717.5,508.4 717.8,507.9 718.0,495.7 718.2,500.2 718.5,503.3 718.8,505.9 719.0,503.2 719.2,511.3 719.5,510.1 719.8,508.0 720.0,498.5 720.2,517.1 720.5,508.1 720.8,512.8 721.0,506.0 721.2,509.6 721.5,513.3 721.8,510.8 722.0,514.6 722.2,508.4 722.5,520.0 722.8,498.9 723.0,506.1 723.2,514.2 723.5,507.4 723.8,506.3 724.0,498.9 724.2,514.8 724.5,498.0 724.8,510.8 725.0,509.0 725.2,512.5 725.5,515.5 725.8,503.8 726.0,503.1 726.2,505.7 726.5,498.1 726.8,511.6 727.0,505.0 727.2,508.0 727.5,501.0 727.8,507.2 728.0,503.8 728.2,506.8 728.5,501.4 728.8,512.9 729.0,504.0 729.2,494.0 729.5,511.3 729.8,506.4 730.0,503.5 730.2,521.9 730.5,508.4 730.8,501.8 731.0,505.9 731.2,511.5 731.5,508.5 731.8,516.6 732.0,515.9 732.2,506.3 732.5,511.0 732.8,514.5 733.0,509.1 733.2,509.1 733.5,516.5 733.8,514.4 734.0,504.7 734.2,509.5 734.5,510.4 734.8,512.1 735.0,509.0 735.2,520.1 735.5,507.8 735.8,507.3 736.0,514.2 736.2,501.1 736.5,507.6 736.8,516.4 737.0,505.9 737.2,508.4 737.5,518.6 737.8,515.2 738.0,513.0 738.2,513.8 738.5,508.8 738.8,513.9 739.0,511.1 739.2,525.3 739.5,514.8 739.8,510.0 740.0,511.4 740.2,511.8 740.5,504.1 740.8,506.9 741.0,519.3 741.2,503.6 741.5,507.9 741.8,516.4 742.0,518.9 742.2,505.4 742.5,518.6 742.8,508.9 743.0,519.6 743.2,513.5 743.5,509.4 743.8,514.8 744.0,514.0 744.2,507.0 744.5,522.5 744.8,509.4 745.0,517.4 745.2,508.9 745.5,501.9 745.8,505.7 746.0,511.2 746.2,515.5 746.5,521.3 746.8,512.5 747.0,510.7 747.2,505.8 747.5,512.2 747.8,514.1 748.0,501.0 748.2,519.6 748.5,518.8 748.8,524.9 749.0,508.2 749.2,513.2 749.5,513.1 749.8,506.1 750.0,508.6 750.2,508.0 750.5,515.9 750.8,515.4 751.0,520.2 751.2,511.0 751.5,505.7 751.8,515.4 752.0,515.0 752.2,516.5 752.5,519.5 752.8,509.8 753.0,517.0 753.2,507.5 753.5,513.5 753.8,516.2 754.0,511.9 754.2,513.6 754.5,505.0 754.8,508.8 755.0,512.9 755.2,505.8 755.5,507.5 755.8,524.6 756.0,513.1 756.2,507.3 756.5,506.2 756.8,518.7 757.0,496.7 757.2,509.3 757.5,514.2 757.8,507.8 758.0,513.4 758.2,505.1 758.5,510.3 758.8,510.5 759.0,510.3 759.2,510.9 759.5,510.2 759.8,515.8 760.0,508.5 760.2,506.7 760.5,508.2 760.8,508.0 761.0,501.6 761.2,499.5 761.5,502.3 761.8,510.7 762.0,505.7 762.2,507.0 762.5,524.0 762.8,514.8 763.0,507.8 763.2,505.6 763.5,515.9 763.8,504.7 764.0,515.1 764.2,511.7 764.5,515.8 764.8,504.8 765.0,513.1 765.2,499.0 765.5,507.4 765.8,513.9 766.0,511.8 766.2,498.7 766.5,511.6 766.8,510.4 767.0,507.6 767.2,504.2 767.5,506.4 767.8,504.8 768.0,512.6 768.2,510.0 768.5,513.0 768.8,510.9 769.0,500.7 769.2,507.8 769.5,518.0 769.8,501.1 770.0,508.1 770.2,502.4 770.5,501.7 770.8,507.1 771.0,510.6 771.2,509.6 771.5,507.8 771.8,510.0 772.0,496.6 772.2,508.9 772.5,506.5 772.8,503.3 773.0,503.9 773.2,499.4 773.5,509.4 773.8,499.4 774.0,495.5 774.2,502.8 774.5,499.6 774.8,502.0 775.0,509.9 775.2,501.3 775.5,502.4 775.8,513.1 776.0,494.4 776.2,503.2 776.5,507.1 776.8,508.8 777.0,512.4 777.2,497.7 777.5,504.0 777.8,500.4 778.0,498.6 778.2,497.2 778.5,493.6 778.8,502.5 779.0,504.6 779.2,495.7 779.5,504.7 779.8,498.3 780.0,496.1 780.2,488.3 780.5,506.5 780.8,504.6 781.0,499.7 781.2,499.3 781.5,494.9 781.8,503.5 782.0,500.6 782.2,503.3 782.5,501.4 782.8,494.0 783.0,493.1 783.2,501.5 783.5,492.0 783.8,499.8 784.0,501.6 784.2,492.1 784.5,498.7 784.8,495.2 785.0,495.4 785.2,490.1 785.5,490.0 785.8,489.0 786.0,489.2 786.2,484.4 786.5,481.7 786.8,478.2 787.0,478.7 787.2,477.9 787.5,479.3 787.8,481.4 788.0,484.7 788.2,486.5 788.5,487.9 788.8,489.2 789.0,495.3 789.2,489.7 789.5,494.0 789.8,500.1 790.0,495.1 790.2,500.0 790.5,501.0 790.8,506.2 791.0,503.2 791.2,491.4 791.5,499.0 791.8,500.7 792.0,503.4 792.2,501.7 792.5,509.0 792.8,505.5 793.0,494.9 793.2,497.7 793.5,491.0 793.8,509.4 794.0,500.6 794.2,500.7 794.5,493.9 794.8,499.6 795.0,504.1 795.2,500.2 795.5,500.5 795.8,499.6 796.0,512.6 796.2,500.3 796.5,496.1 796.8,500.9 797.0,502.0 797.2,503.5 797.5,503.0 797.8,498.8 798.0,503.7 798.2,506.8 798.5,498.1 798.8,515.3 799.0,514.1 799.2,496.7 799.5,504.2 799.8,511.4 800.0,513.3 800.2,515.7 800.5,497.7 800.8,501.6 801.0,504.8 801.2,510.4 801.5,502.4 801.8,510.2 802.0,510.5 802.2,512.1 802.5,502.1 802.8,509.8 803.0,509.3 803.2,507.0 803.5,515.9 803.8,508.0 804.0,517.0 804.2,506.8 804.5,518.6 804.8,518.4 805.0,506.0 805.2,512.0 805.5,512.0 805.8,505.5 806.0,514.5 806.2,513.6 806.5,506.3 806.8,511.2 807.0,515.3 807.2,510.0 807.5,507.2 807.8,519.1 808.0,505.9 808.2,512.6 808.5,516.6 808.8,515.0 809.0,501.7 809.2,509.3 809.5,510.3 809.8,509.9 810.0,514.2 810.2,513.8 810.5,511.7 810.8,512.4 811.0,516.1 811.2,517.3 811.5,501.4 811.8,522.0 812.0,508.1 812.2,514.8 812.5,502.6 812.8,508.2 813.0,504.4 813.2,516.2 813.5,515.1 813.8,510.6 814.0,509.7 814.2,512.4 814.5,505.7 814.8,507.3 815.0,506.4 815.2,514.4 815.5,510.3 815.8,503.7 816.0,511.8 816.2,512.7 816.5,517.0 816.8,507.1 817.0,511.9 817.2,520.3 817.5,508.2 817.8,508.0 818.0,512.4 818.2,507.3 818.5,509.8 818.8,507.3 819.0,505.9 819.2,514.3 819.5,508.0 819.8,504.9 820.0,508.5 820.2,509.3 820.5,511.6 820.8,514.8 821.0,519.0 821.2,504.1 821.5,509.0 821.8,501.2 822.0,511.5 822.2,513.1 822.5,507.2 822.8,506.0 823.0,505.7 823.2,503.2 823.5,513.9 823.8,520.3 824.0,505.2 824.2,519.1 824.5,510.4 824.8,504.1 825.0,513.8 825.2,514.9 825.5,513.1 825.8,509.8 826.0,519.4 826.2,509.7 826.5,514.3 826.8,514.4 827.0,506.6 827.2,501.9 827.5,502.4 827.8,509.1 828.0,512.8 828.2,502.1 828.5,507.3 828.8,518.5 829.0,501.9 829.2,513.1 829.5,512.5 829.8,514.7 830.0,503.4 830.2,512.3 830.5,503.7 830.8,517.2 831.0,506.3 831.2,512.4 831.5,506.6 831.8,511.2 832.0,502.9 832.2,511.9 832.5,513.5 832.8,510.5 833.0,518.6 833.2,512.4 833.5,514.5 833.8,513.1 834.0,520.0 834.2,507.4 834.5,509.4 834.8,509.7 835.0,513.9 835.2,512.2 835.5,515.1 835.8,512.5 836.0,508.6 836.2,510.9 836.5,513.5 836.8,500.0 837.0,518.3 837.2,508.7 837.5,509.9 837.8,513.0 838.0,510.6 838.2,504.7 838.5,510.9 838.8,519.0 839.0,517.4 839.2,518.4 839.5,509.7 839.8,511.5 840.0,517.9 840.2,520.1 840.5,513.1 840.8,508.2 841.0,503.6 841.2,520.3 841.5,505.8 841.8,515.6 842.0,518.0 842.2,529.9 842.5,514.8 842.8,513.4 843.0,516.4 843.2,516.8 843.5,521.0 843.8,517.9 844.0,510.8 844.2,504.2 844.5,516.3 844.8,511.5 845.0,522.0 845.2,508.6 845.5,516.2 845.8,511.6 846.0,511.0 846.2,523.7 846.5,516.3 846.8,514.7 847.0,519.3 847.2,511.8 847.5,513.9 847.8,512.6 848.0,525.7 848.2,517.5 848.5,519.1 848.8,521.5 849.0,515.1 849.2,515.3 849.5,507.9 849.8,518.5 850.0,517.4 850.2,514.1 850.5,522.2 850.8,507.3 851.0,518.4 851.2,509.4 851.5,510.6 851.8,515.3 852.0,523.0 852.2,510.5 852.5,511.5 852.8,510.5 853.0,526.6 853.2,519.2 853.5,518.7 853.8,527.0 854.0,518.0 854.2,506.4 854.5,514.4 854.8,511.0 855.0,527.1 855.2,510.0 855.5,518.7 855.8,514.7 856.0,515.1 856.2,517.5 856.5,516.8 856.8,514.1 857.0,511.5 857.2,514.5 857.5,512.6 857.8,513.4 858.0,518.6 858.2,517.3 858.5,520.6 858.8,517.1 859.0,528.0 859.2,514.9 859.5,513.7 859.8,523.8 860.0,515.4 860.2,519.6 860.5,524.0 860.8,518.8 861.0,517.6 861.2,524.3 861.5,521.3 861.8,517.2 862.0,514.0 862.2,518.2 862.5,512.0 862.8,516.0 863.0,515.1 863.2,522.1 863.5,524.6 863.8,517.7 864.0,518.9 864.2,515.8 864.5,514.5 864.8,519.4 865.0,524.4 865.2,524.1 865.5,524.8 865.8,520.7 866.0,508.7 866.2,526.9 866.5,528.9 866.8,527.0 867.0,527.1 867.2,528.2 867.5,536.1 867.8,524.6 868.0,530.8 868.2,527.2 868.5,526.7 868.8,522.8 869.0,521.8 869.2,518.1 869.5,526.6 869.8,522.3 870.0,518.0 870.2,520.3 870.5,518.3 870.8,532.1 871.0,523.1 871.2,524.9 871.5,518.6 871.8,519.5 872.0,529.9 872.2,523.7 872.5,526.0 872.8,534.1 873.0,535.4 873.2,528.7 873.5,527.8 873.8,526.7 874.0,524.3 874.2,535.8 874.5,520.0 874.8,525.7 875.0,516.9 875.2,520.2 875.5,528.5 875.8,528.9 876.0,528.5 876.2,525.4 876.5,523.7 876.8,524.6 877.0,525.5 877.2,532.9 877.5,534.8 877.8,530.0 878.0,525.3 878.2,523.5 878.5,529.7 878.8,527.2 879.0,519.5 879.2,535.2 879.5,528.6 879.8,527.1 880.0,524.5 880.2,524.6 880.5,533.3 880.8,524.3 881.0,529.4 881.2,532.1 881.5,538.0 881.8,532.0 882.0,528.9 882.2,526.9 882.5,533.2 882.8,533.9 883.0,526.9 883.2,531.8 883.5,528.3 883.8,521.0 884.0,524.0 884.2,532.7 884.5,535.8 884.8,532.0 885.0,527.7 885.2,525.2 885.5,531.2 885.8,530.2 886.0,520.7 886.2,531.7 886.5,525.1 886.8,531.8 887.0,531.2 887.2,532.1 887.5,533.8 887.8,532.1 888.0,523.6 888.2,523.8 888.5,533.9 888.8,531.2 889.0,521.4 889.2,519.4 889.5,533.5 889.8,540.0 890.0,533.4 890.2,528.4 890.5,531.0 890.8,516.7 891.0,525.1 891.2,534.9 891.5,534.3 891.8,520.1 892.0,536.1 892.2,533.1 892.5,535.2 892.8,529.8 893.0,531.0 893.2,525.9 893.5,532.7 893.8,535.6 894.0,526.8 894.2,533.2 894.5,529.0 894.8,536.6 895.0,536.4 895.2,520.4 895.5,533.9 895.8,536.7 896.0,529.1 896.2,530.8 896.5,531.1 896.8,526.4 897.0,531.3 897.2,539.3 897.5,534.1 897.8,539.1 898.0,536.5 898.2,537.5 898.5,532.3 898.8,535.4 899.0,541.3 899.2,538.7 899.5,533.2 899.8,528.2 900.0,527.1 900.2,532.7 900.5,533.6 900.8,522.7 901.0,532.5 901.2,533.0 901.5,532.8 901.8,528.7 902.0,542.3 902.2,535.4 902.5,524.7 902.8,527.8 903.0,535.0 903.2,533.6 903.5,531.8 903.8,531.0 904.0,530.1 904.2,529.0 904.5,526.2 904.8,533.8 905.0,517.8 905.2,527.5 905.5,536.9 905.8,527.2 906.0,525.3 906.2,540.0 906.5,535.9 906.8,530.2 907.0,528.1 907.2,529.7 907.5,529.1 907.8,529.6 908.0,527.2 908.2,533.2 908.5,528.0 908.8,521.9 909.0,524.3 909.2,530.4 909.5,525.5 909.8,518.5 910.0,537.3 910.2,532.5 910.5,527.8 910.8,527.5 911.0,532.3 911.2,536.3 911.5,526.7 911.8,531.6 912.0,526.6 912.2,531.0 912.5,524.0 912.8,520.6 913.0,529.6 913.2,528.8 913.5,532.5 913.8,525.8 914.0,535.5 914.2,529.3 914.5,536.2 914.8,527.2 915.0,536.0 915.2,528.5 915.5,529.4 915.8,533.3 916.0,520.4 916.2,523.7 916.5,537.5 916.8,521.7 917.0,526.6 917.2,531.6 917.5,536.0 917.8,526.7 918.0,529.8 918.2,523.9 918.5,527.6 918.8,534.4 919.0,531.2 919.2,529.6 919.5,531.9 919.8,530.6 920.0,530.9 920.2,528.6 920.5,525.8 920.8,533.8 921.0,525.3 921.2,535.8 921.5,541.2 921.8,538.5 922.0,542.4 922.2,526.7 922.5,533.0 922.8,528.1 923.0,528.7 923.2,524.3 923.5,526.9 923.8,536.9 924.0,536.4 924.2,539.0 924.5,538.8 924.8,537.4 925.0,530.1 925.2,533.6 925.5,537.8 925.8,540.5 926.0,533.0 926.2,532.6 926.5,533.1 926.8,542.9 927.0,538.2 927.2,534.2 927.5,532.3 927.8,538.1 928.0,528.3 928.2,535.3 928.5,533.8 928.8,533.9 929.0,537.7 929.2,538.9 929.5,551.4 929.8,537.7 930.0,540.6 930.2,533.6 930.5,529.8 930.8,543.1 931.0,547.0 931.2,533.2 931.5,537.7 931.8,543.4 932.0,538.7 932.2,527.1 932.5,543.2 932.8,537.9 933.0,542.1 933.2,534.2 933.5,543.0 933.8,543.8 934.0,535.6 934.2,541.4 934.5,536.2 934.8,536.9 935.0,535.1 935.2,537.4 935.5,536.3 935.8,545.1 936.0,538.6 936.2,534.4 936.5,546.2 936.8,542.4 937.0,544.6 937.2,539.7 937.5,543.4 937.8,539.8 938.0,535.8 938.2,540.9 938.5,541.1 938.8,541.2 939.0,544.6 939.2,532.6 939.5,542.2 939.8,537.1 940.0,539.6 940.2,543.1 940.5,541.4 940.8,538.1 941.0,544.8 941.2,541.1 941.5,545.8 941.8,547.3 942.0,539.9 942.2,536.5 942.5,542.1 942.8,545.6 943.0,543.4 943.2,536.5 943.5,534.1 943.8,537.7 944.0,537.7 944.2,545.1 944.5,542.6 944.8,546.4 945.0,542.0 945.2,550.2 945.5,542.6 945.8,545.1 946.0,540.7 946.2,544.7 946.5,547.8 946.8,546.4 947.0,548.7 947.2,540.0 947.5,545.0 947.8,550.8 948.0,544.1 948.2,542.1 948.5,541.8 948.8,540.5 949.0,543.6 949.2,549.4 949.5,545.0 949.8,542.7 950.0,539.1 950.2,537.5 950.5,553.8 950.8,540.5 951.0,543.1 951.2,540.3 951.5,543.2 951.8,540.4 952.0,542.7 952.2,548.9 952.5,538.6 952.8,544.4 953.0,541.5 953.2,545.1 953.5,538.5 953.8,543.4 954.0,536.9 954.2,532.8 954.5,535.1 954.8,536.6 955.0,535.7 955.2,539.3 955.5,545.8 955.8,535.3 956.0,542.6 956.2,541.1 956.5,537.1 956.8,536.0 957.0,542.2 957.2,542.4 957.5,538.5 957.8,539.4 958.0,540.0 958.2,534.0 958.5,540.5 958.8,541.4 959.0,548.1 959.2,534.2 959.5,536.1 959.8,540.5 960.0,537.5 960.2,538.3 960.5,540.3 960.8,538.9 961.0,540.2 961.2,542.4 961.5,533.0 961.8,543.1 962.0,530.3 962.2,548.4 962.5,544.9 962.8,538.0 963.0,545.5 963.2,540.2 963.5,543.0 963.8,544.5 964.0,542.7 964.2,541.2 964.5,544.1 964.8,540.5 965.0,539.7 965.2,537.1 965.5,533.3 965.8,548.8 966.0,545.2 966.2,535.3 966.5,543.5 966.8,542.7 967.0,531.7 967.2,538.0 967.5,541.3 967.8,549.7 968.0,546.9 968.2,547.6 968.5,543.3 968.8,546.5 969.0,536.6 969.2,544.7 969.5,545.2 969.8,536.2 970.0,543.1 970.2,548.8 970.5,550.7 970.8,548.3 971.0,538.7 971.2,541.4 971.5,539.5 971.8,547.4 972.0,537.9 972.2,537.0 972.5,534.3 972.8,542.6 973.0,543.6 973.2,538.9 973.5,538.1 973.8,540.7 974.0,547.6 974.2,535.3 974.5,541.2 974.8,542.3 975.0,543.0 975.2,547.0 975.5,545.1 975.8,542.5 976.0,547.9 976.2,546.5 976.5,542.6 976.8,542.4 977.0,536.0 977.2,541.9 977.5,537.8 977.8,536.3 978.0,540.2 978.2,533.7 978.5,537.5 978.8,539.3 979.0,543.2 979.2,540.3 979.5,543.7 979.8,549.1 980.0,545.8 980.2,537.0 980.5,534.3 980.8,538.3 981.0,538.5 981.2,533.7 981.5,535.0 981.8,535.1 982.0,540.2 982.2,549.5 982.5,550.8 982.8,538.7 983.0,541.3 983.2,537.3 983.5,536.2 983.8,543.3 984.0,543.9 984.2,540.9 984.5,546.7 984.8,542.4 985.0,548.9 985.2,541.8 985.5,547.9 985.8,543.2 986.0,544.7 986.2,547.0 986.5,538.3 986.8,540.9 987.0,544.0 987.2,543.0 987.5,545.4 987.8,540.6 988.0,538.3 988.2,543.7 988.5,545.5 988.8,540.5 989.0,549.5 989.2,547.1 989.5,547.7 989.8,547.4 990.0,540.0 990.2,553.2 990.5,540.6 990.8,545.3 991.0,546.8 991.2,544.9 991.5,544.2 991.8,539.7 992.0,541.4 992.2,543.2 992.5,548.6 992.8,539.8 993.0,545.6 993.2,544.3 993.5,542.6 993.8,539.7 994.0,541.3 994.2,534.3 994.5,542.0 994.8,542.7 995.0,538.9 995.2,543.2 995.5,542.1 995.8,537.5 996.0,543.8 996.2,537.9 996.5,549.7 996.8,535.4 997.0,536.1 997.2,536.5 997.5,539.7 997.8,542.8 998.0,538.4 998.2,536.2 998.5,543.9 998.8,540.2 999.0,535.3 999.2,535.2 999.5,530.5 999.8,534.1 1000.0,536.9 1000.2,529.7 1000.5,528.6 1000.8,530.0 1001.0,526.6 1001.2,529.3 1001.5,527.1 1001.8,528.0 1002.0,529.1 1002.2,531.9 1002.5,532.3 1002.8,529.2 1003.0,530.3 1003.2,535.7 1003.5,530.3 1003.8,536.2 1004.0,535.2 1004.2,541.2 1004.5,543.3 1004.8,530.6 1005.0,541.8 1005.2,543.0 1005.5,538.1 1005.8,539.1 1006.0,537.0 1006.2,540.7 1006.5,544.1 1006.8,548.2 1007.0,549.0 1007.2,542.1 1007.5,540.1 1007.8,548.1 1008.0,532.4 1008.2,538.4 1008.5,547.3 1008.8,554.4 1009.0,541.7 1009.2,545.7 1009.5,540.7 1009.8,545.4 1010.0,545.6 1010.2,542.8 1010.5,548.0 1010.8,545.7 1011.0,548.9 1011.2,545.9 1011.5,541.7 1011.8,547.7 1012.0,551.0 1012.2,543.9 1012.5,553.4 1012.8,549.6 1013.0,546.1 1013.2,548.0 1013.5,546.1 1013.8,544.0 1014.0,552.1 1014.2,552.1 1014.5,546.2 1014.8,547.4 1015.0,547.4 1015.2,551.4 1015.5,554.9 1015.8,545.5 1016.0,549.8 1016.2,548.3 1016.5,550.9 1016.8,554.9 1017.0,544.6 1017.2,539.3 1017.5,547.7 1017.8,541.3 1018.0,555.9 1018.2,545.2 1018.5,547.1 1018.8,549.4 1019.0,549.2 1019.2,546.3 1019.5,548.1 1019.8,552.3 1020.0,546.6 1020.2,556.2 1020.5,549.4 1020.8,537.2 1021.0,551.6 1021.2,539.7 1021.5,548.9 1021.8,557.4 1022.0,552.1 1022.2,542.1 1022.5,543.4 1022.8,547.1 1023.0,553.4 1023.2,543.6 1023.5,551.7 1023.8,548.1 1024.0,546.2 1024.2,545.8 1024.5,554.1 1024.8,539.8 1025.0,541.4 1025.2,550.5 1025.5,550.9 1025.8,540.7 1026.0,542.4 1026.2,541.4 1026.5,549.1 1026.8,543.7 1027.0,553.2 1027.2,550.3 1027.5,548.2 1027.8,548.0 1028.0,549.7 1028.2,551.2 1028.5,547.7 1028.8,548.9 1029.0,551.5 1029.2,547.8 1029.5,552.8 1029.8,547.9 1030.0,545.3 1030.2,549.7 1030.5,556.5 1030.8,556.0 1031.0,542.3 1031.2,551.0 1031.5,547.6 1031.8,548.5 1032.0,548.5 1032.2,549.2 1032.5,548.0 1032.8,549.2 1033.0,551.6 1033.2,545.3 1033.5,545.2 1033.8,545.8 1034.0,545.8 1034.2,553.6 1034.5,546.0 1034.8,550.6 1035.0,551.2 1035.2,554.1 1035.5,551.0 1035.8,555.5 1036.0,550.5 1036.2,551.8 1036.5,554.0 1036.8,544.0 1037.0,552.2 1037.2,557.2 1037.5,550.8 1037.8,549.1 1038.0,558.6 1038.2,550.5 1038.5,555.4 1038.8,539.2 1039.0,550.2 1039.2,547.4 1039.5,551.3 1039.8,554.8 1040.0,548.7 1040.2,548.3 1040.5,536.6 1040.8,552.7 1041.0,555.1 1041.2,549.7 1041.5,546.9 1041.8,550.6 1042.0,553.6 1042.2,551.8 1042.5,558.2 1042.8,546.4 1043.0,542.8 1043.2,551.1 1043.5,554.6 1043.8,546.9 1044.0,549.0 1044.2,546.1 1044.5,543.3 1044.8,545.7 1045.0,539.8 1045.2,550.3 1045.5,551.2 1045.8,553.1 1046.0,545.5 1046.2,546.4 1046.5,541.8 1046.8,542.8 1047.0,553.4 1047.2,562.1 1047.5,544.8 1047.8,547.8 1048.0,553.9 1048.2,546.7 1048.5,552.4 1048.8,548.6 1049.0,548.7 1049.2,554.1 1049.5,549.0 1049.8,544.6 1050.0,554.0 1050.2,550.5 1050.5,548.0 1050.8,546.9 1051.0,553.2 1051.2,547.4 1051.5,551.2 1051.8,555.2 1052.0,550.3 1052.2,555.7 1052.5,544.7 1052.8,553.6 1053.0,553.3 1053.2,559.3 1053.5,551.1 1053.8,555.0 1054.0,550.3 1054.2,546.2 1054.5,547.0 1054.8,547.8 1055.0,554.4 1055.2,547.4 1055.5,551.0 1055.8,554.8 1056.0,556.2 1056.2,554.8 1056.5,557.2 1056.8,545.4 1057.0,548.2 1057.2,551.7 1057.5,555.1 1057.8,552.3 1058.0,546.6 1058.2,549.0 1058.5,542.4 1058.8,553.3 1059.0,541.6 1059.2,550.4 1059.5,554.2 1059.8,553.3 1060.0,542.0 1060.2,550.1 1060.5,547.5 1060.8,547.6 1061.0,556.2 1061.2,550.1 1061.5,542.3 1061.8,543.9 1062.0,551.8 1062.2,549.6 1062.5,543.5 1062.8,541.0 1063.0,546.0 1063.2,546.5 1063.5,552.1 1063.8,545.7 1064.0,551.4 1064.2,553.8 1064.5,541.2 1064.8,545.8 1065.0,555.3 1065.2,546.4 1065.5,548.4 1065.8,552.7 1066.0,545.1 1066.2,546.6 1066.5,541.2 1066.8,551.0 1067.0,546.4 1067.2,547.0 1067.5,537.2 1067.8,553.0 1068.0,551.8 1068.2,545.2 1068.5,554.3 1068.8,538.0 1069.0,548.6 1069.2,541.5 1069.5,561.2 1069.8,537.5 1070.0,543.8 1070.2,545.9 1070.5,552.9 1070.8,553.1 1071.0,551.2 1071.2,548.4 1071.5,559.1 1071.8,546.5 1072.0,551.1 1072.2,557.6 1072.5,544.4 1072.8,546.4 1073.0,555.0 1073.2,552.2 1073.5,544.4 1073.8,550.4 1074.0,558.9 1074.2,549.3 1074.5,554.1 1074.8,551.1 1075.0,547.6 1075.2,557.9 1075.5,555.1 1075.8,556.1 1076.0,550.2 1076.2,551.4 1076.5,551.9 1076.8,553.0 1077.0,549.5 1077.2,548.8 1077.5,556.9 1077.8,546.2 1078.0,549.2 1078.2,549.5 1078.5,548.9 1078.8,545.8 1079.0,547.8 1079.2,554.8 1079.5,549.6 1079.8,547.9 1080.0,558.6 1080.2,545.3 1080.5,555.8 1080.8,552.7 1081.0,545.1 1081.2,549.3 1081.5,549.4 1081.8,556.8 1082.0,555.1 1082.2,549.7 1082.5,545.7 1082.8,543.4 1083.0,550.0 1083.2,544.5 1083.5,549.9 1083.8,549.7 1084.0,552.2 1084.2,554.9 1084.5,550.9 1084.8,552.4 1085.0,549.5 1085.2,554.8 1085.5,553.7 1085.8,557.1 1086.0,556.1 1086.2,546.7 1086.5,543.5 1086.8,552.7 1087.0,554.8 1087.2,546.8 1087.5,556.3 1087.8,550.1 1088.0,549.3 1088.2,551.2 1088.5,543.5 1088.8,542.4 1089.0,548.1 1089.2,544.5 1089.5,549.6 1089.8,549.7 1090.0,538.5 1090.2,546.3 1090.5,552.1 1090.8,539.8 1091.0,548.4 1091.2,544.1 1091.5,541.6 1091.8,554.9 1092.0,554.8 1092.2,548.4 1092.5,548.1 1092.8,556.2 1093.0,555.5 1093.2,550.4 1093.5,554.1 1093.8,551.0 1094.0,549.3 1094.2,553.1 1094.5,548.8 1094.8,553.0 1095.0,549.6 1095.2,548.7 1095.5,548.2 1095.8,552.2 1096.0,554.0 1096.2,551.8 1096.5,546.7 1096.8,552.1 1097.0,546.3 1097.2,545.3 1097.5,548.3 1097.8,551.2 1098.0,550.2 1098.2,549.1 1098.5,550.5 1098.8,548.1 1099.0,544.4 1099.2,545.6 1099.5,542.8 1099.8,542.7 1100.0,542.0 1100.2,541.0 1100.5,540.0 1100.8,541.2 1101.0,541.7 1101.2,542.7 1101.5,543.1 1101.8,542.5 1102.0,542.0 1102.2,548.2 1102.5,549.4 1102.8,548.9 1103.0,548.2 1103.2,555.3 1103.5,551.5 1103.8,549.7 1104.0,553.0 1104.2,550.0 1104.5,553.2 1104.8,551.9 1105.0,553.1 1105.2,551.5 1105.5,549.7 1105.8,553.7 1106.0,556.4 1106.2,548.3 1106.5,550.0 1106.8,547.9 1107.0,556.1 1107.2,551.8 1107.5,556.5 1107.8,549.6 1108.0,556.5 1108.2,550.7 1108.5,551.3 1108.8,555.6 1109.0,551.8 1109.2,550.9 1109.5,557.3 1109.8,553.3 1110.0,558.9 1110.2,564.4 1110.5,551.2 1110.8,552.1 1111.0,547.0 1111.2,548.4 1111.5,556.0 1111.8,554.7 1112.0,554.5 1112.2,555.3 1112.5,549.6 1112.8,545.9 1113.0,557.7 1113.2,554.0 1113.5,557.8 1113.8,552.7 1114.0,556.0 1114.2,550.3 1114.5,552.5 1114.8,551.7 1115.0,553.9 1115.2,558.3 1115.5,555.0 1115.8,539.6 1116.0,551.6 1116.2,552.0 1116.5,555.4 1116.8,552.5 1117.0,548.8 1117.2,548.4 1117.5,550.3 1117.8,548.7 1118.0,557.9 1118.2,554.4 1118.5,552.0 1118.8,556.0 1119.0,561.2 1119.2,551.0 1119.5,551.8 1119.8,550.7 1120.0,546.7 1120.2,549.3 1120.5,548.1 1120.8,554.3 1121.0,554.2 1121.2,556.1 1121.5,549.1 1121.8,556.8 1122.0,548.4 1122.2,551.9 1122.5,558.4 1122.8,558.3 1123.0,557.8 1123.2,562.3 1123.5,557.8 1123.8,552.4 1124.0,552.6 1124.2,550.3 1124.5,554.8 1124.8,550.7 1125.0,551.4 1125.2,550.0 1125.5,547.0 1125.8,565.3 1126.0,558.5 1126.2,545.7 1126.5,556.8 1126.8,552.5 1127.0,545.8 1127.2,554.3 1127.5,556.2 1127.8,557.9 1128.0,560.3 1128.2,551.9 1128.5,555.4 1128.8,558.6 1129.0,558.1 1129.2,557.5 1129.5,556.3 1129.8,561.3 1130.0,550.5 1130.2,549.5 1130.5,563.5 1130.8,557.8 1131.0,560.8 1131.2,556.9 1131.5,554.3 1131.8,553.9 1132.0,556.4 1132.2,553.7 1132.5,555.4 1132.8,555.2 1133.0,559.1 1133.2,558.9 1133.5,562.3 1133.8,552.2 1134.0,555.0 1134.2,559.2 1134.5,556.5 1134.8,544.2 1135.0,556.3 1135.2,554.6 1135.5,552.5 1135.8,552.6 1136.0,551.2 1136.2,559.3 1136.5,557.1 1136.8,555.0 1137.0,558.8 1137.2,557.9 1137.5,550.2 1137.8,549.2 1138.0,549.3 1138.2,556.9 1138.5,553.5 1138.8,558.8 1139.0,555.8 1139.2,552.6 1139.5,548.0 1139.8,552.3 1140.0,563.1 1140.2,550.5 1140.5,549.9 1140.8,552.5 1141.0,559.3 1141.2,553.3 1141.5,548.7 1141.8,550.9 1142.0,553.0 1142.2,553.9 1142.5,558.0 1142.8,564.4 1143.0,559.6 1143.2,556.5 1143.5,553.7 1143.8,550.4 1144.0,556.4 1144.2,559.5 1144.5,557.5 1144.8,553.5 1145.0,557.0 1145.2,553.2 1145.5,553.5 1145.8,553.3 1146.0,554.6 1146.2,554.0 1146.5,558.8 1146.8,554.5 1147.0,554.1 1147.2,559.1 1147.5,557.6 1147.8,559.6 1148.0,551.5 1148.2,560.5 1148.5,554.8 1148.8,550.4 1149.0,554.3 1149.2,549.7 1149.5,550.7 1149.8,553.3 1150.0,559.2 1150.2,549.3 1150.5,556.3 1150.8,554.0 1151.0,561.8 1151.2,556.0 1151.5,557.8 1151.8,561.2 1152.0,550.5 1152.2,553.7 1152.5,548.8 1152.8,551.6 1153.0,556.5 1153.2,554.4 1153.5,556.8 1153.8,553.4 1154.0,552.1 1154.2,554.4 1154.5,551.2 1154.8,550.2 1155.0,548.1 1155.2,554.3 1155.5,556.6 1155.8,549.5 1156.0,552.6 1156.2,544.8 1156.5,549.4 1156.8,554.7 1157.0,548.8 1157.2,556.2 1157.5,552.5 1157.8,555.8 1158.0,551.8 1158.2,548.1 1158.5,554.0 1158.8,557.1 1159.0,551.8 1159.2,555.6 1159.5,550.9 1159.8,552.4 1160.0,559.2 1160.2,553.7 1160.5,549.8 1160.8,556.1 1161.0,554.0 1161.2,551.5 1161.5,556.6 1161.8,541.3 1162.0,556.0 1162.2,561.6 1162.5,554.8 1162.8,545.4 1163.0,559.2 1163.2,564.0 1163.5,555.8 1163.8,548.8 1164.0,550.3 1164.2,552.6 1164.5,553.9 1164.8,558.0 1165.0,555.3 1165.2,543.3 1165.5,551.5 1165.8,552.1 1166.0,560.4 1166.2,550.0 1166.5,546.5 1166.8,551.0 1167.0,553.3 1167.2,544.3 1167.5,556.5 1167.8,551.3 1168.0,555.2 1168.2,554.5 1168.5,553.8 1168.8,557.4 1169.0,558.4 1169.2,549.6 1169.5,550.9 1169.8,555.6 1170.0,551.8 1170.2,548.6 1170.5,551.5 1170.8,547.5 1171.0,548.9 1171.2,536.5 1171.5,551.7 1171.8,559.0 1172.0,554.3 1172.2,554.2 1172.5,552.2 1172.8,548.3 1173.0,553.7 1173.2,552.0 1173.5,551.4 1173.8,553.1 1174.0,549.9 1174.2,553.0 1174.5,555.4 1174.8,557.1 1175.0,553.7 1175.2,556.7 1175.5,554.3 1175.8,544.1 1176.0,545.7 1176.2,553.3 1176.5,549.6 1176.8,557.0 1177.0,549.2 1177.2,553.2 1177.5,552.8 1177.8,552.1 1178.0,553.0 1178.2,555.5 1178.5,556.1 1178.8,553.6 1179.0,556.7 1179.2,558.3 1179.5,555.3 1179.8,553.3 1180.0,553.4 1180.2,554.2 1180.5,554.0 1180.8,556.6 1181.0,567.6 1181.2,561.0 1181.5,556.3 1181.8,558.6 1182.0,558.6 1182.2,561.4 1182.5,562.0 1182.8,551.8 1183.0,565.3 1183.2,552.1 1183.5,556.1 1183.8,552.1 1184.0,548.4 1184.2,547.9 1184.5,563.9 1184.8,561.8 1185.0,551.2 1185.2,550.7 1185.5,561.7 1185.8,551.3 1186.0,557.4 1186.2,564.1 1186.5,558.8 1186.8,562.0 1187.0,556.7 1187.2,548.6 1187.5,552.5 1187.8,548.5 1188.0,557.5 1188.2,550.7 1188.5,557.0 1188.8,554.5 1189.0,553.8 1189.2,559.1 1189.5,555.0 1189.8,553.7 1190.0,561.6 1190.2,557.3 1190.5,551.4 1190.8,562.9 1191.0,551.9 1191.2,559.0 1191.5,560.4 1191.8,557.2 1192.0,554.9 1192.2,557.1 1192.5,557.0 1192.8,553.9 1193.0,562.3 1193.2,556.1 1193.5,555.5 1193.8,564.5 1194.0,555.4 1194.2,552.0 1194.5,558.2 1194.8,558.4 1195.0,558.4 1195.2,567.1 1195.5,555.7 1195.8,563.7 1196.0,561.7 1196.2,564.0 1196.5,557.3 1196.8,556.2 1197.0,556.6 1197.2,558.7 1197.5,561.3 1197.8,564.2 1198.0,549.5 1198.2,561.5 1198.5,558.4 1198.8,557.0 1199.0,552.3 1199.2,558.1 1199.5,548.8 1199.8,561.8 1200.0,552.5 1200.2,556.0 1200.5,555.8 1200.8,558.9 1201.0,550.8 1201.2,560.1 1201.5,558.4 1201.8,563.3 1202.0,558.0 1202.2,556.3 1202.5,548.9 1202.8,555.5 1203.0,564.1 1203.2,555.3 1203.5,555.2 1203.8,556.8 1204.0,561.2 1204.2,550.2 1204.5,565.5 1204.8,560.4 1205.0,561.1 1205.2,558.1 1205.5,566.6 1205.8,556.5 1206.0,561.9 1206.2,559.0 1206.5,553.3 1206.8,558.1 1207.0,561.8 1207.2,557.6 1207.5,557.1 1207.8,558.8 1208.0,555.2 1208.2,554.2 1208.5,559.2 1208.8,555.0 1209.0,561.3 1209.2,561.9 1209.5,564.2 1209.8,562.9 1210.0,557.6 1210.2,560.4 1210.5,553.9 1210.8,560.4 1211.0,556.5 1211.2,564.1 1211.5,555.5 1211.8,559.0 1212.0,555.1 1212.2,560.7 1212.5,560.7 1212.8,553.9 1213.0,565.9 1213.2,559.8 1213.5,552.0 1213.8,554.0 1214.0,550.2 1214.2,549.5 1214.5,556.8 1214.8,549.0 1215.0,558.6 1215.2,550.6 1215.5,555.3 1215.8,563.1 1216.0,555.0 1216.2,556.0 1216.5,560.3 1216.8,554.4 1217.0,556.9 1217.2,551.9 1217.5,552.8 1217.8,553.7 1218.0,552.5 1218.2,549.4 1218.5,550.9 1218.8,550.4 1219.0,548.8 1219.2,546.0 1219.5,543.2 1219.8,543.6 1220.0,542.5 1220.2,540.7 1220.5,539.9 1220.8,542.1 1221.0,544.6 1221.2,546.1 1221.5,544.3 1221.8,550.5 1222.0,546.9 1222.2,552.5 1222.5,549.8 1222.8,554.7 1223.0,554.0 1223.2,552.1 1223.5,555.7 1223.8,551.3 1224.0,552.4 1224.2,552.8 1224.5,551.0 1224.8,557.8 1225.0,557.9 1225.2,554.4 1225.5,550.7 1225.8,556.3 1226.0,555.7 1226.2,557.1 1226.5,554.6 1226.8,553.8 1227.0,560.3 1227.2,552.3 1227.5,554.1 1227.8,547.7 1228.0,553.5 1228.2,553.2 1228.5,553.9 1228.8,557.8 1229.0,553.1 1229.2,557.5 1229.5,554.3 1229.8,554.2 1230.0,548.6 1230.2,558.2 1230.5,559.3 1230.8,552.8 1231.0,554.6 1231.2,549.7 1231.5,555.9 1231.8,553.0 1232.0,559.4 1232.2,557.5 1232.5,560.7 1232.8,554.9 1233.0,551.4 1233.2,558.4 1233.5,556.4 1233.8,566.7 1234.0,560.1 1234.2,565.3 1234.5,561.6 1234.8,558.1 1235.0,553.1 1235.2,558.5 1235.5,562.1 1235.8,559.9 1236.0,560.9 1236.2,560.8 1236.5,553.8 1236.8,560.6 1237.0,555.9 1237.2,559.0 1237.5,564.8 1237.8,550.7 1238.0,557.8 1238.2,560.2 1238.5,563.2 1238.8,558.8 1239.0,554.9 1239.2,561.6 1239.5,560.6 1239.8,550.6 1240.0,558.2 1240.2,550.6 1240.5,546.6 1240.8,553.5 1241.0,553.6 1241.2,548.5 1241.5,565.4 1241.8,551.9 1242.0,559.0 1242.2,560.5 1242.5,566.7 1242.8,556.0 1243.0,564.4 1243.2,552.7 1243.5,557.5 1243.8,556.0 1244.0,553.5 1244.2,559.2 1244.5,566.0 1244.8,566.9 1245.0,560.9 1245.2,553.3 1245.5,554.7 1245.8,560.8 1246.0,560.7 1246.2,560.7 1246.5,557.2 1246.8,554.6 1247.0,560.4 1247.2,558.5 1247.5,564.7 1247.8,555.7 1248.0,562.3 1248.2,564.6 1248.5,567.2 1248.8,567.2 1249.0,554.4 1249.2,553.8 1249.5,559.4 1249.8,555.1 1250.0,548.6 1250.2,565.1 1250.5,560.9 1250.8,563.1 1251.0,559.5 1251.2,563.7 1251.5,559.8 1251.8,559.2 1252.0,566.8 1252.2,553.6 1252.5,560.9 1252.8,551.8 1253.0,565.0 1253.2,557.6 1253.5,553.4 1253.8,550.8 1254.0,557.7 1254.2,567.1 1254.5,560.9 1254.8,552.1 1255.0,550.2 1255.2,571.2 1255.5,556.7 1255.8,553.0 1256.0,560.1 1256.2,562.2 1256.5,566.8 1256.8,559.3 1257.0,557.4 1257.2,563.6 1257.5,557.5 1257.8,562.8 1258.0,562.3 1258.2,566.0 1258.5,559.0 1258.8,559.4 1259.0,563.8 1259.2,564.9 1259.5,556.8 1259.8,559.9 1260.0,564.3 1260.2,562.2 1260.5,573.9 1260.8,567.3 1261.0,569.8 1261.2,564.2 1261.5,565.0 1261.8,565.3 1262.0,569.4 1262.2,563.4 1262.5,571.6 1262.8,561.6 1263.0,569.1 1263.2,565.8 1263.5,563.0 1263.8,571.3 1264.0,568.5 1264.2,563.3 1264.5,560.5 1264.8,567.2 1265.0,559.9 1265.2,565.5 1265.5,559.1 1265.8,563.2 1266.0,558.7 1266.2,561.4 1266.5,569.1 1266.8,569.3 1267.0,559.5 1267.2,560.1 1267.5,553.9 1267.8,562.2 1268.0,565.6 1268.2,556.9 1268.5,556.6 1268.8,561.9 1269.0,557.9 1269.2,561.1 1269.5,566.9 1269.8,562.3 1270.0,563.2 1270.2,568.5 1270.5,561.6 1270.8,563.6 1271.0,561.1 1271.2,557.7 1271.5,568.1 1271.8,555.4 1272.0,561.9 1272.2,556.8 1272.5,558.5 1272.8,556.7 1273.0,561.4 1273.2,564.8 1273.5,568.6 1273.8,555.1 1274.0,564.5 1274.2,562.0 1274.5,561.3 1274.8,563.6 1275.0,565.2 1275.2,564.1 1275.5,564.7 1275.8,574.2 1276.0,565.4 1276.2,566.5 1276.5,560.2 1276.8,569.8 1277.0,562.9 1277.2,564.7 1277.5,561.8 1277.8,564.6 1278.0,560.9 1278.2,559.3 1278.5,558.7 1278.8,562.9 1279.0,564.5 1279.2,567.4 1279.5,571.2 1279.8,571.9 1280.0,561.0 1280.2,560.5 1280.5,566.6 1280.8,559.4 1281.0,567.8 1281.2,567.3 1281.5,558.5 1281.8,565.7 1282.0,568.4 1282.2,564.1 1282.5,560.7 1282.8,561.1 1283.0,563.7 1283.2,558.4 1283.5,562.9 1283.8,560.3 1284.0,558.1 1284.2,557.0 1284.5,563.5 1284.8,557.2 1285.0,562.0 1285.2,553.2 1285.5,560.2 1285.8,561.5 1286.0,562.5 1286.2,565.1 1286.5,563.3 1286.8,563.5 1287.0,560.0 1287.2,556.7 1287.5,556.2 1287.8,558.0 1288.0,562.3 1288.2,565.6 1288.5,562.8 1288.8,562.2 1289.0,564.6 1289.2,560.0 1289.5,562.2 1289.8,561.0 1290.0,562.4 1290.2,560.5 1290.5,556.0 1290.8,559.8 1291.0,558.0 1291.2,568.7 1291.5,567.4 1291.8,558.7 1292.0,557.7 1292.2,561.3 1292.5,554.8 1292.8,566.4 1293.0,560.9 1293.2,559.1 1293.5,565.4 1293.8,566.4 1294.0,561.5 1294.2,565.1 1294.5,553.8 1294.8,557.6 1295.0,557.2 1295.2,553.9 1295.5,564.4 1295.8,570.9 1296.0,555.2 1296.2,558.4 1296.5,565.3 1296.8,559.6 1297.0,560.9 1297.2,557.6 1297.5,562.5 1297.8,557.0 1298.0,564.5 1298.2,563.6 1298.5,563.1 1298.8,558.4 1299.0,560.9 1299.2,563.9 1299.5,558.3 1299.8,558.1 1300.0,552.9 1300.2,560.3 1300.5,562.1 1300.8,566.9 1301.0,558.0 1301.2,557.1 1301.5,568.5 1301.8,568.1 1302.0,558.9 1302.2,561.7 1302.5,556.2 1302.8,563.7 1303.0,569.5 1303.2,567.5 1303.5,559.8 1303.8,565.5 1304.0,561.3 1304.2,565.7 1304.5,562.0 1304.8,567.0 1305.0,569.6 1305.2,565.6 1305.5,565.7 1305.8,565.8 1306.0,567.7 1306.2,562.2 1306.5,563.1 1306.8,563.0 1307.0,569.1 1307.2,564.1 1307.5,565.7 1307.8,561.6 1308.0,557.3 1308.2,561.6 1308.5,564.7 1308.8,561.2 1309.0,560.0 1309.2,560.7 1309.5,564.3 1309.8,563.8 1310.0,561.8 1310.2,557.8 1310.5,558.7 1310.8,576.7 1311.0,560.7 1311.2,563.9 1311.5,562.5 1311.8,555.4 1312.0,566.7 1312.2,561.4 1312.5,557.3 1312.8,564.2 1313.0,558.6 1313.2,562.3 1313.5,555.4 1313.8,560.2 1314.0,563.8 1314.2,559.0 1314.5,555.1 1314.8,557.6 1315.0,563.9 1315.2,554.4 1315.5,555.3 1315.8,564.4 1316.0,561.6 1316.2,561.0 1316.5,559.4 1316.8,562.9 1317.0,564.7 1317.2,563.2 1317.5,554.0 1317.8,563.9 1318.0,554.4 1318.2,568.5 1318.5,559.4 1318.8,563.8 1319.0,562.6 1319.2,558.5 1319.5,566.2 1319.8,562.1 1320.0,570.0 1320.2,563.8 1320.5,562.4 1320.8,571.5 1321.0,566.8 1321.2,561.0 1321.5,557.5 1321.8,568.9 1322.0,565.9 1322.2,565.8 1322.5,559.3 1322.8,558.0 1323.0,556.8 1323.2,565.3 1323.5,559.8 1323.8,563.1 1324.0,551.2 1324.2,564.6 1324.5,557.2 1324.8,548.8 1325.0,554.7 1325.2,561.8 1325.5,566.5 1325.8,548.5 1326.0,554.3 1326.2,560.6 1326.5,553.4 1326.8,558.1 1327.0,555.6 1327.2,560.4 1327.5,553.7 1327.8,558.5 1328.0,556.4 1328.2,560.6 1328.5,559.8 1328.8,564.3 1329.0,561.1 1329.2,567.7 1329.5,553.5 1329.8,559.2 1330.0,563.6 1330.2,560.9 1330.5,549.3 1330.8,561.9 1331.0,558.5 1331.2,571.0 1331.5,560.2 1331.8,563.6 1332.0,556.7 1332.2,563.8 1332.5,549.1 1332.8,556.6 1333.0,559.3 1333.2,554.2 1333.5,565.2 1333.8,561.1 1334.0,568.1 1334.2,555.1 1334.5,557.6 1334.8,563.9 1335.0,559.0 1335.2,564.8 1335.5,564.0 1335.8,558.1 1336.0,561.8 1336.2,563.6 1336.5,562.3 1336.8,560.4 1337.0,559.2 1337.2,560.3 1337.5,565.5 1337.8,570.1 1338.0,555.3 1338.2,557.0 1338.5,560.6 1338.8,567.4 1339.0,557.6 1339.2,571.1 1339.5,570.9 1339.8,551.0 1340.0,564.0 1340.2,563.7 1340.5,559.2 1340.8,553.1 1341.0,562.2 1341.2,559.3 1341.5,566.0 1341.8,563.3 1342.0,556.9 1342.2,569.2 1342.5,568.7 1342.8,567.2 1343.0,561.1 1343.2,564.8 1343.5,561.3 1343.8,558.5 1344.0,552.9 1344.2,562.0 1344.5,552.4 1344.8,563.9 1345.0,555.1 1345.2,561.8 1345.5,559.7 1345.8,556.1 1346.0,556.6 1346.2,558.7 1346.5,567.6 1346.8,562.9 1347.0,560.2 1347.2,565.0 1347.5,556.5 1347.8,555.1 1348.0,557.9 1348.2,566.2 1348.5,560.7 1348.8,562.5 1349.0,562.6 1349.2,560.5 1349.5,567.7 1349.8,565.6 1350.0,559.0 1350.2,558.4 1350.5,562.7 1350.8,559.1 1351.0,563.2 1351.2,566.5 1351.5,563.7 1351.8,564.4 1352.0,561.6 1352.2,560.5 1352.5,559.7 1352.8,569.8 1353.0,561.1 1353.2,564.9 1353.5,565.1 1353.8,566.7 1354.0,563.5 1354.2,558.1 1354.5,574.1 1354.8,560.7 1355.0,568.0 1355.2,560.9 1355.5,568.5 1355.8,561.1 1356.0,573.1 1356.2,567.9 1356.5,559.2 1356.8,573.4 1357.0,558.1 1357.2,564.8 1357.5,571.1 1357.8,564.7 1358.0,572.0 1358.2,566.7 1358.5,564.0 1358.8,572.0 1359.0,566.8 1359.2,564.6 1359.5,570.7 1359.8,565.5 1360.0,560.7 1360.2,563.4 1360.5,577.2 1360.8,576.4 1361.0,559.8 1361.2,569.9 1361.5,571.8 1361.8,565.2 1362.0,569.3 1362.2,561.9 1362.5,564.8 1362.8,570.7 1363.0,565.8 1363.2,565.3 1363.5,564.9 1363.8,560.1 1364.0,561.4 1364.2,563.4 1364.5,565.1 1364.8,561.8 1365.0,573.7 1365.2,557.8 1365.5,560.7 1365.8,562.5 1366.0,567.5 1366.2,558.9 1366.5,566.3 1366.8,561.4 1367.0,561.6 1367.2,566.9 1367.5,568.6 1367.8,569.4 1368.0,559.8 1368.2,569.3 1368.5,569.4 1368.8,566.3 1369.0,566.8 1369.2,565.0 1369.5,564.1 1369.8,568.5 1370.0,572.0 1370.2,563.6 1370.5,566.3 1370.8,568.8 1371.0,558.6 1371.2,571.8 1371.5,566.3 1371.8,570.9 1372.0,563.4 1372.2,560.8 1372.5,563.9 1372.8,565.9 1373.0,560.5 1373.2,568.4 1373.5,565.6 1373.8,559.8 1374.0,566.4 1374.2,563.7 1374.5,564.4 1374.8,562.5 1375.0,561.1 1375.2,558.8 1375.5,564.5 1375.8,564.2 1376.0,566.0 1376.2,560.8 1376.5,565.6 1376.8,567.3 1377.0,558.5 1377.2,564.3 1377.5,572.9 1377.8,561.0 1378.0,561.7 1378.2,562.7 1378.5,560.5 1378.8,566.3 1379.0,562.1 1379.2,561.8 1379.5,558.7 1379.8,564.2 1380.0,561.3 1380.2,559.8 1380.5,559.9" fill="none" stroke="#000" stroke-width="1.1" stroke-linejoin="round"/>
<path d="M148.0,1286.1 L148.5,1285.1 149.0,1285.3 149.5,1285.2 150.0,1285.1 150.5,1283.6 151.0,1282.3 151.5,1281.4 152.0,1281.9 152.5,1281.8 153.0,1280.0 153.5,1278.1 154.0,1277.5 154.5,1278.8 155.0,1276.8 155.5,1274.2 156.0,1274.3 156.5,1271.9 157.0,1270.4 157.5,1268.4 158.0,1266.0 158.5,1264.7 159.0,1262.0 159.5,1259.3 160.0,1258.1 160.5,1256.6 161.0,1253.2 161.5,1253.1 162.0,1251.8 162.5,1252.3 163.0,1251.8 163.5,1253.8 164.0,1255.2 164.5,1256.8 165.0,1258.4 165.5,1261.1 166.0,1262.9 166.5,1264.9 167.0,1268.3 167.5,1269.0 168.0,1272.6 168.5,1274.2 169.0,1274.2 169.5,1278.1 170.0,1279.1 170.5,1281.9 171.0,1283.6 171.5,1283.3 172.0,1285.7 172.5,1286.0 173.0,1287.1 173.5,1285.5 174.0,1287.2 174.5,1285.8 175.0,1286.6 175.5,1286.3 176.0,1288.3 176.5,1287.7 177.0,1289.4 177.5,1288.1 178.0,1288.5 178.5,1288.7 179.0,1287.8 179.5,1288.5 180.0,1289.9 180.5,1288.8 181.0,1289.5 181.5,1289.6 182.0,1290.4 182.5,1289.9 183.0,1290.3 183.5,1290.9 184.0,1291.0 184.5,1290.5 185.0,1292.1 185.5,1290.6 186.0,1290.9 186.5,1291.0 187.0,1293.0 187.5,1292.2 188.0,1292.0 188.5,1292.1 189.0,1293.7 189.5,1292.9 190.0,1293.1 190.5,1295.0 191.0,1294.0 191.5,1295.1 192.0,1295.8 192.5,1295.9 193.0,1296.6 193.5,1298.0 194.0,1296.8 194.5,1296.4 195.0,1296.2 195.5,1297.6 196.0,1297.5 196.5,1298.0 197.0,1297.4 197.5,1297.3 198.0,1297.0 198.5,1297.0 199.0,1297.4 199.5,1296.8 200.0,1297.1 200.5,1298.5 201.0,1297.3 201.5,1295.7 202.0,1298.5 202.5,1297.6 203.0,1296.8 203.5,1298.6 204.0,1298.2 204.5,1298.1 205.0,1298.4 205.5,1298.5 206.0,1299.7 206.5,1300.8 207.0,1300.0 207.5,1300.8 208.0,1302.1 208.5,1299.8 209.0,1301.0 209.5,1300.6 210.0,1299.9 210.5,1299.9 211.0,1300.6 211.5,1300.9 212.0,1300.0 212.5,1300.4 213.0,1300.8 213.5,1300.4 214.0,1300.8 214.5,1300.4 215.0,1300.4 215.5,1301.5 216.0,1300.5 216.5,1300.1 217.0,1300.6 217.5,1299.4 218.0,1299.9 218.5,1300.9 219.0,1300.8 219.5,1301.6 220.0,1300.5 220.5,1299.4 221.0,1302.2 221.5,1301.6 222.0,1300.0 222.5,1302.0 223.0,1300.9 223.5,1299.5 224.0,1300.6 224.5,1300.5 225.0,1302.1 225.5,1300.1 226.0,1300.4 226.5,1300.3 227.0,1300.0 227.5,1299.4 228.0,1300.1 228.5,1300.6 229.0,1300.0 229.5,1298.6 230.0,1298.2 230.5,1299.1 231.0,1298.3 231.5,1298.3 232.0,1297.5 232.5,1300.4 233.0,1299.6 233.5,1298.1 234.0,1299.6 234.5,1300.0 235.0,1297.0 235.5,1298.5 236.0,1298.6 236.5,1299.4 237.0,1298.7 237.5,1298.5 238.0,1298.6 238.5,1300.0 239.0,1300.0 239.5,1297.7 240.0,1297.2 240.5,1299.9 241.0,1296.8 241.5,1297.0 242.0,1297.3 242.5,1297.5 243.0,1297.9 243.5,1297.3 244.0,1296.2 244.5,1297.3 245.0,1297.2 245.5,1298.5 246.0,1297.0 246.5,1296.0 247.0,1296.3 247.5,1298.3 248.0,1296.7 248.5,1295.4 249.0,1296.6 249.5,1297.0 250.0,1297.8 250.5,1295.8 251.0,1296.9 251.5,1296.8 252.0,1295.4 252.5,1295.5 253.0,1296.8 253.5,1296.6 254.0,1295.7 254.5,1295.1 255.0,1295.7 255.5,1294.6 256.0,1294.7 256.5,1294.3 257.0,1295.1 257.5,1295.3 258.0,1297.8 258.5,1295.7 259.0,1297.2 259.5,1297.5 260.0,1296.5 260.5,1297.9 261.0,1295.4 261.5,1297.4 262.0,1298.2 262.5,1295.8 263.0,1296.9 263.5,1298.8 264.0,1297.8 264.5,1297.3 265.0,1298.0 265.5,1298.0 266.0,1299.2 266.5,1299.2 267.0,1298.8 267.5,1298.8 268.0,1299.5 268.5,1301.0 269.0,1300.6 269.5,1301.2 270.0,1300.9 270.5,1300.4 271.0,1301.2 271.5,1302.6 272.0,1302.5 272.5,1302.0 273.0,1301.7 273.5,1303.3 274.0,1303.1 274.5,1303.2 275.0,1303.3 275.5,1303.9 276.0,1303.9 276.5,1304.4 277.0,1304.4 277.5,1304.7 278.0,1304.2 278.5,1303.2 279.0,1303.4 279.5,1303.8 280.0,1303.1 280.5,1303.8 281.0,1304.4 281.5,1302.8 282.0,1302.1 282.5,1304.5 283.0,1303.6 283.5,1304.1 284.0,1302.5 284.5,1304.9 285.0,1304.1 285.5,1303.3 286.0,1303.0 286.5,1303.2 287.0,1302.8 287.5,1302.5 288.0,1301.6 288.5,1303.3 289.0,1302.0 289.5,1301.9 290.0,1301.7 290.5,1299.5 291.0,1301.6 291.5,1300.7 292.0,1300.5 292.5,1300.6 293.0,1299.7 293.5,1301.0 294.0,1299.7 294.5,1299.4 295.0,1299.4 295.5,1300.2 296.0,1300.7 296.5,1299.7 297.0,1299.0 297.5,1301.1 298.0,1299.5 298.5,1301.5 299.0,1300.6 299.5,1300.3 300.0,1300.5 300.5,1301.5 301.0,1302.0 301.5,1301.2 302.0,1302.2 302.5,1303.2 303.0,1301.4 303.5,1300.6 304.0,1300.6 304.5,1300.3 305.0,1300.8 305.5,1300.6 306.0,1300.0 306.5,1301.3 307.0,1298.6 307.5,1299.5 308.0,1302.0 308.5,1301.1 309.0,1300.5 309.5,1300.4 310.0,1301.3 310.5,1300.2 311.0,1299.7 311.5,1298.5 312.0,1299.2 312.5,1298.5 313.0,1298.3 313.5,1298.1 314.0,1298.5 314.5,1298.1 315.0,1298.8 315.5,1296.9 316.0,1297.7 316.5,1299.1 317.0,1297.5 317.5,1298.3 318.0,1298.1 318.5,1298.2 319.0,1297.6 319.5,1295.8 320.0,1296.5 320.5,1296.3 321.0,1295.2 321.5,1295.8 322.0,1295.0 322.5,1294.4 323.0,1295.7 323.5,1295.2 324.0,1294.3 324.5,1293.8 325.0,1293.7 325.5,1293.5 326.0,1293.0 326.5,1292.9 327.0,1292.2 327.5,1292.4 328.0,1292.1 328.5,1291.5 329.0,1290.3 329.5,1289.9 330.0,1290.3 330.5,1289.4 331.0,1289.1 331.5,1286.7 332.0,1286.2 332.5,1288.2 333.0,1287.9 333.5,1288.4 334.0,1287.6 334.5,1286.9 335.0,1286.4 335.5,1285.0 336.0,1286.6 336.5,1285.2 337.0,1285.8 337.5,1285.4 338.0,1285.2 338.5,1285.5 339.0,1284.2 339.5,1284.1 340.0,1283.5 340.5,1283.7 341.0,1285.2 341.5,1283.4 342.0,1284.5 342.5,1284.1 343.0,1283.9 343.5,1283.8 344.0,1282.3 344.5,1283.3 345.0,1284.3 345.5,1282.4 346.0,1282.9 346.5,1282.3 347.0,1283.1 347.5,1281.9 348.0,1283.9 348.5,1282.2 349.0,1281.1 349.5,1283.6 350.0,1282.7 350.5,1282.0 351.0,1281.6 351.5,1280.5 352.0,1280.1 352.5,1280.4 353.0,1280.0 353.5,1279.4 354.0,1278.3 354.5,1277.2 355.0,1276.8 355.5,1277.3 356.0,1277.0 356.5,1275.0 357.0,1274.4 357.5,1275.3 358.0,1274.5 358.5,1274.0 359.0,1272.0 359.5,1272.4 360.0,1271.9 360.5,1272.1 361.0,1270.2 361.5,1272.2 362.0,1271.1 362.5,1270.8 363.0,1269.0 363.5,1269.5 364.0,1270.1 364.5,1267.3 365.0,1268.3 365.5,1268.0 366.0,1266.4 366.5,1267.0 367.0,1265.4 367.5,1266.0 368.0,1264.8 368.5,1263.9 369.0,1264.6 369.5,1263.0 370.0,1262.6 370.5,1259.9 371.0,1259.6 371.5,1260.0 372.0,1259.2 372.5,1257.6 373.0,1257.5 373.5,1255.2 374.0,1255.4 374.5,1253.4 375.0,1253.7 375.5,1252.2 376.0,1251.1 376.5,1250.8 377.0,1251.3 377.5,1248.0 378.0,1247.3 378.5,1247.6 379.0,1245.2 379.5,1245.8 380.0,1243.3 380.5,1241.8 381.0,1240.6 381.5,1240.3 382.0,1237.9 382.5,1236.2 383.0,1234.4 383.5,1231.3 384.0,1230.2 384.5,1230.3 385.0,1228.1 385.5,1226.0 386.0,1224.3 386.5,1221.5 387.0,1220.3 387.5,1217.4 388.0,1216.4 388.5,1213.5 389.0,1211.7 389.5,1210.0 390.0,1207.0 390.5,1205.2 391.0,1202.4 391.5,1199.4 392.0,1197.1 392.5,1191.3 393.0,1186.5 393.5,1183.1 394.0,1178.1 394.5,1174.2 395.0,1169.3 395.5,1166.4 396.0,1162.1 396.5,1160.7 397.0,1158.1 397.5,1154.5 398.0,1153.0 398.5,1152.5 399.0,1152.6 399.5,1150.4 400.0,1153.9 400.5,1155.6 401.0,1157.1 401.5,1159.6 402.0,1162.0 402.5,1163.1 403.0,1166.4 403.5,1167.7 404.0,1168.7 404.5,1170.9 405.0,1173.2 405.5,1172.2 406.0,1173.3 406.5,1174.4 407.0,1178.2 407.5,1177.1 408.0,1177.7 408.5,1177.1 409.0,1176.3 409.5,1173.5 410.0,1172.3 410.5,1168.7 411.0,1162.6 411.5,1158.5 412.0,1153.7 412.5,1149.2 413.0,1144.3 413.5,1139.7 414.0,1133.9 414.5,1126.8 415.0,1119.1 415.5,1107.9 416.0,1097.5 416.5,1082.8 417.0,1060.6 417.5,1035.5 418.0,1007.4 418.5,981.3 419.0,958.7 419.5,931.2 420.0,901.8 420.5,873.4 421.0,846.9 421.5,828.4 422.0,815.6 422.5,804.5 423.0,792.7 423.5,783.5 424.0,776.0 424.5,773.9 425.0,774.0 425.5,777.0 426.0,786.9 426.5,799.0 427.0,812.7 427.5,825.9 428.0,843.4 428.5,865.7 429.0,889.2 429.5,915.9 430.0,938.6 430.5,962.4 431.0,976.3 431.5,988.5 432.0,999.7 432.5,1009.9 433.0,1020.0 433.5,1028.7 434.0,1037.3 434.5,1045.5 435.0,1053.6 435.5,1062.6 436.0,1067.8 436.5,1076.4 437.0,1082.7 437.5,1088.9 438.0,1094.3 438.5,1102.9 439.0,1107.5 439.5,1113.5 440.0,1120.1 440.5,1124.4 441.0,1130.9 441.5,1136.2 442.0,1142.0 442.5,1147.1 443.0,1150.1 443.5,1155.6 444.0,1158.4 444.5,1161.8 445.0,1164.6 445.5,1168.2 446.0,1169.3 446.5,1173.0 447.0,1175.9 447.5,1176.8 448.0,1180.4 448.5,1179.7 449.0,1181.7 449.5,1182.4 450.0,1183.3 450.5,1183.9 451.0,1185.2 451.5,1186.4 452.0,1186.5 452.5,1188.5 453.0,1189.7 453.5,1187.9 454.0,1190.4 454.5,1190.5 455.0,1191.2 455.5,1193.6 456.0,1193.3 456.5,1193.4 457.0,1194.2 457.5,1193.3 458.0,1196.7 458.5,1196.7 459.0,1198.8 459.5,1200.3 460.0,1202.8 460.5,1205.6 461.0,1206.9 461.5,1209.3 462.0,1210.4 462.5,1213.4 463.0,1216.0 463.5,1216.6 464.0,1221.8 464.5,1221.8 465.0,1223.5 465.5,1227.9 466.0,1230.2 466.5,1229.6 467.0,1231.4 467.5,1236.0 468.0,1235.3 468.5,1235.2 469.0,1237.9 469.5,1241.6 470.0,1242.1 470.5,1243.8 471.0,1245.7 471.5,1246.8 472.0,1247.5 472.5,1248.0 473.0,1251.1 473.5,1251.2 474.0,1253.5 474.5,1256.2 475.0,1256.5 475.5,1257.4 476.0,1258.6 476.5,1260.4 477.0,1261.8 477.5,1261.2 478.0,1263.7 478.5,1266.1 479.0,1266.5 479.5,1266.5 480.0,1267.7 480.5,1267.7 481.0,1269.7 481.5,1272.7 482.0,1272.3 482.5,1272.6 483.0,1273.7 483.5,1274.9 484.0,1275.7 484.5,1276.2 485.0,1276.5 485.5,1278.2 486.0,1279.5 486.5,1278.4 487.0,1278.9 487.5,1280.7 488.0,1279.0 488.5,1280.1 489.0,1280.6 489.5,1281.3 490.0,1281.2 490.5,1280.9 491.0,1282.1 491.5,1281.1 492.0,1280.8 492.5,1280.8 493.0,1283.3 493.5,1281.5 494.0,1283.5 494.5,1284.0 495.0,1284.4 495.5,1283.9 496.0,1284.0 496.5,1284.8 497.0,1284.6 497.5,1284.4 498.0,1286.8 498.5,1285.4 499.0,1287.9 499.5,1287.2 500.0,1286.6 500.5,1287.6 501.0,1288.5 501.5,1286.6 502.0,1287.1 502.5,1287.2 503.0,1288.3 503.5,1288.7 504.0,1288.5 504.5,1288.0 505.0,1288.3 505.5,1289.8 506.0,1289.9 506.5,1289.2 507.0,1288.2 507.5,1289.8 508.0,1289.7 508.5,1289.8 509.0,1291.1 509.5,1290.5 510.0,1289.2 510.5,1289.4 511.0,1291.5 511.5,1290.7 512.0,1291.5 512.5,1290.9 513.0,1290.5 513.5,1291.7 514.0,1293.0 514.5,1292.3 515.0,1291.4 515.5,1292.3 516.0,1292.4 516.5,1293.2 517.0,1294.1 517.5,1295.1 518.0,1293.9 518.5,1293.5 519.0,1294.1 519.5,1294.2 520.0,1294.0 520.5,1294.5 521.0,1294.7 521.5,1293.9 522.0,1295.4 522.5,1294.9 523.0,1294.5 523.5,1295.9 524.0,1295.4 524.5,1297.4 525.0,1296.6 525.5,1296.6 526.0,1296.2 526.5,1296.8 527.0,1298.1 527.5,1297.2 528.0,1298.7 528.5,1296.7 529.0,1298.9 529.5,1299.8 530.0,1299.7 530.5,1299.8 531.0,1301.0 531.5,1299.8 532.0,1300.0 532.5,1301.2 533.0,1302.4 533.5,1302.1 534.0,1301.8 534.5,1302.5 535.0,1302.8 535.5,1301.7 536.0,1300.6 536.5,1302.2 537.0,1302.0 537.5,1302.8 538.0,1302.4 538.5,1302.8 539.0,1304.0 539.5,1303.8 540.0,1303.9 540.5,1305.4 541.0,1303.8 541.5,1304.1 542.0,1305.7 542.5,1304.1 543.0,1304.0 543.5,1306.6 544.0,1306.2 544.5,1306.7 545.0,1307.1 545.5,1307.6 546.0,1306.7 546.5,1307.2 547.0,1306.6 547.5,1307.7 548.0,1307.8 548.5,1307.2 549.0,1308.0 549.5,1309.7 550.0,1306.3 550.5,1307.7 551.0,1307.7 551.5,1307.6 552.0,1306.0 552.5,1307.6 553.0,1307.1 553.5,1306.5 554.0,1306.4 554.5,1307.0 555.0,1307.7 555.5,1307.9 556.0,1309.3 556.5,1307.4 557.0,1308.5 557.5,1307.9 558.0,1309.1 558.5,1308.9 559.0,1308.5 559.5,1308.1 560.0,1308.6 560.5,1309.5 561.0,1310.6 561.5,1310.0 562.0,1308.5 562.5,1309.0 563.0,1309.4 563.5,1309.3 564.0,1309.4 564.5,1310.0 565.0,1309.5 565.5,1308.8 566.0,1307.9 566.5,1309.2 567.0,1308.3 567.5,1309.6 568.0,1310.1 568.5,1308.9 569.0,1310.0 569.5,1309.9 570.0,1311.9 570.5,1310.8 571.0,1309.1 571.5,1311.1 572.0,1311.1 572.5,1310.7 573.0,1310.6 573.5,1311.5 574.0,1311.5 574.5,1311.4 575.0,1310.2 575.5,1310.8 576.0,1309.7 576.5,1309.7 577.0,1310.4 577.5,1309.9 578.0,1310.3 578.5,1312.5 579.0,1310.8 579.5,1309.5 580.0,1308.4 580.5,1309.3 581.0,1308.7 581.5,1308.0 582.0,1310.3 582.5,1309.3 583.0,1310.0 583.5,1312.1 584.0,1309.9 584.5,1309.9 585.0,1310.2 585.5,1309.8 586.0,1309.5 586.5,1310.2 587.0,1311.5 587.5,1310.5 588.0,1309.8 588.5,1310.1 589.0,1310.5 589.5,1311.5 590.0,1312.0 590.5,1312.2 591.0,1312.9 591.5,1311.9 592.0,1312.9 592.5,1312.6 593.0,1313.0 593.5,1311.0 594.0,1313.6 594.5,1311.4 595.0,1311.8 595.5,1313.4 596.0,1312.5 596.5,1314.2 597.0,1312.9 597.5,1312.0 598.0,1312.9 598.5,1312.5 599.0,1314.0 599.5,1314.0 600.0,1313.3 600.5,1312.3 601.0,1312.7 601.5,1313.4 602.0,1311.9 602.5,1311.9 603.0,1313.1 603.5,1313.0 604.0,1312.2 604.5,1312.1 605.0,1310.8 605.5,1313.3 606.0,1312.2 606.5,1311.2 607.0,1311.5 607.5,1311.7 608.0,1313.8 608.5,1313.1 609.0,1311.6 609.5,1314.2 610.0,1313.9 610.5,1312.1 611.0,1310.9 611.5,1313.9 612.0,1312.8 612.5,1313.3 613.0,1313.1 613.5,1314.6 614.0,1314.9 614.5,1314.5 615.0,1313.8 615.5,1314.2 616.0,1314.6 616.5,1313.0 617.0,1315.3 617.5,1314.2 618.0,1314.7 618.5,1314.8 619.0,1315.5 619.5,1315.8 620.0,1316.8 620.5,1314.9 621.0,1314.6 621.5,1315.6 622.0,1315.1 622.5,1316.4 623.0,1315.1 623.5,1316.0 624.0,1316.7 624.5,1316.8 625.0,1316.2 625.5,1317.1 626.0,1317.0 626.5,1314.6 627.0,1316.1 627.5,1315.9 628.0,1315.5 628.5,1315.1 629.0,1315.6 629.5,1315.8 630.0,1315.7 630.5,1316.5 631.0,1316.2 631.5,1315.0 632.0,1314.9 632.5,1316.2 633.0,1315.0 633.5,1315.8 634.0,1316.1 634.5,1316.6 635.0,1316.3 635.5,1317.1 636.0,1315.6 636.5,1316.6 637.0,1315.5 637.5,1316.2 638.0,1316.1 638.5,1315.2 639.0,1313.9 639.5,1316.6 640.0,1316.1 640.5,1315.8 641.0,1315.1 641.5,1315.3 642.0,1315.8 642.5,1315.4 643.0,1316.2 643.5,1315.3 644.0,1314.5 644.5,1315.6 645.0,1314.6 645.5,1315.2 646.0,1313.6 646.5,1314.7 647.0,1315.4 647.5,1314.4 648.0,1314.9 648.5,1315.4 649.0,1314.9 649.5,1316.3 650.0,1314.6 650.5,1314.6 651.0,1314.6 651.5,1313.2 652.0,1313.5 652.5,1315.2 653.0,1314.5 653.5,1315.9 654.0,1314.7 654.5,1314.7 655.0,1315.7 655.5,1315.1 656.0,1316.2 656.5,1314.2 657.0,1315.4 657.5,1315.7 658.0,1315.7 658.5,1316.2 659.0,1316.1 659.5,1315.4 660.0,1314.9 660.5,1316.2 661.0,1315.4 661.5,1316.1 662.0,1316.4 662.5,1315.4 663.0,1314.5 663.5,1314.9 664.0,1315.7 664.5,1314.7 665.0,1315.8 665.5,1314.7 666.0,1314.7 666.5,1314.0 667.0,1314.3 667.5,1315.1 668.0,1313.8 668.5,1313.7 669.0,1313.3 669.5,1314.4 670.0,1312.4 670.5,1313.0 671.0,1314.2 671.5,1314.5 672.0,1313.1 672.5,1314.0 673.0,1311.5 673.5,1313.7 674.0,1313.2 674.5,1311.9 675.0,1311.4 675.5,1312.4 676.0,1313.0 676.5,1313.0 677.0,1312.7 677.5,1313.2 678.0,1313.0 678.5,1311.3 679.0,1312.0 679.5,1311.8 680.0,1312.9 680.5,1311.5 681.0,1312.3 681.5,1311.1 682.0,1312.3 682.5,1309.7 683.0,1309.0 683.5,1308.2 684.0,1307.7 684.5,1308.8 685.0,1305.9 685.5,1305.1 686.0,1305.0 686.5,1305.0 687.0,1303.1 687.5,1303.9 688.0,1303.4 688.5,1302.2 689.0,1301.9 689.5,1301.4 690.0,1301.8 690.5,1301.6 691.0,1303.5 691.5,1304.1 692.0,1303.0 692.5,1303.7 693.0,1302.6 693.5,1304.2 694.0,1305.3 694.5,1305.7 695.0,1305.8 695.5,1306.7 696.0,1306.4 696.5,1306.3 697.0,1308.1 697.5,1305.6 698.0,1306.4 698.5,1307.0 699.0,1307.2 699.5,1307.4 700.0,1308.1 700.5,1307.9 701.0,1308.6 701.5,1309.3 702.0,1309.1 702.5,1309.3 703.0,1308.6 703.5,1308.6 704.0,1309.5 704.5,1310.6 705.0,1310.4 705.5,1311.1 706.0,1311.2 706.5,1311.5 707.0,1310.1 707.5,1311.8 708.0,1311.5 708.5,1312.7 709.0,1311.5 709.5,1311.3 710.0,1311.0 710.5,1311.2 711.0,1309.8 711.5,1310.9 712.0,1311.1 712.5,1311.9 713.0,1310.6 713.5,1311.3 714.0,1312.7 714.5,1310.9 715.0,1312.1 715.5,1311.1 716.0,1311.5 716.5,1312.1 717.0,1312.6 717.5,1311.7 718.0,1311.4 718.5,1313.5 719.0,1312.5 719.5,1313.0 720.0,1313.1 720.5,1313.0 721.0,1312.1 721.5,1312.1 722.0,1310.9 722.5,1312.1 723.0,1311.4 723.5,1311.5 724.0,1312.8 724.5,1311.6 725.0,1310.9 725.5,1309.5 726.0,1311.0 726.5,1311.5 727.0,1309.5 727.5,1310.3 728.0,1309.5 728.5,1309.7 729.0,1309.4 729.5,1308.4 730.0,1309.2 730.5,1308.3 731.0,1310.6 731.5,1310.3 732.0,1309.4 732.5,1309.5 733.0,1309.2 733.5,1309.2 734.0,1309.1 734.5,1308.6 735.0,1308.5 735.5,1307.4 736.0,1307.6 736.5,1307.8 737.0,1308.3 737.5,1307.8 738.0,1309.5 738.5,1307.8 739.0,1307.7 739.5,1308.3 740.0,1308.8 740.5,1309.5 741.0,1308.8 741.5,1307.7 742.0,1308.1 742.5,1309.1 743.0,1308.6 743.5,1309.1 744.0,1308.4 744.5,1309.8 745.0,1309.7 745.5,1309.5 746.0,1308.8 746.5,1307.4 747.0,1307.7 747.5,1309.0 748.0,1309.3 748.5,1306.6 749.0,1308.6 749.5,1309.9 750.0,1309.9 750.5,1308.8 751.0,1309.9 751.5,1309.6 752.0,1309.5 752.5,1310.8 753.0,1311.0 753.5,1309.9 754.0,1309.8 754.5,1309.8 755.0,1309.9 755.5,1312.3 756.0,1313.0 756.5,1311.9 757.0,1312.8 757.5,1311.7 758.0,1312.4 758.5,1313.4 759.0,1313.2 759.5,1313.1 760.0,1312.1 760.5,1312.4 761.0,1313.4 761.5,1313.4 762.0,1314.0 762.5,1313.7 763.0,1314.1 763.5,1314.4 764.0,1314.9 764.5,1314.6 765.0,1314.1 765.5,1314.4 766.0,1315.3 766.5,1314.4 767.0,1313.8 767.5,1313.8 768.0,1314.7 768.5,1314.9 769.0,1315.4 769.5,1314.1 770.0,1315.4 770.5,1314.0 771.0,1314.0 771.5,1313.7 772.0,1314.5 772.5,1314.9 773.0,1314.0 773.5,1313.6 774.0,1312.8 774.5,1314.1 775.0,1313.7 775.5,1313.8 776.0,1313.5 776.5,1313.3 777.0,1313.7 777.5,1314.3 778.0,1314.7 778.5,1314.0 779.0,1314.2 779.5,1313.8 780.0,1313.8 780.5,1312.8 781.0,1314.4 781.5,1314.1 782.0,1314.7 782.5,1313.0 783.0,1313.5 783.5,1312.6 784.0,1313.5 784.5,1313.2 785.0,1313.7 785.5,1313.1 786.0,1313.7 786.5,1312.8 787.0,1313.7 787.5,1313.1 788.0,1313.1 788.5,1313.6 789.0,1313.9 789.5,1312.6 790.0,1312.6 790.5,1314.0 791.0,1313.9 791.5,1312.4 792.0,1312.7 792.5,1313.5 793.0,1314.4 793.5,1314.3 794.0,1314.9 794.5,1315.0 795.0,1315.9 795.5,1312.9 796.0,1314.0 796.5,1314.8 797.0,1313.0 797.5,1312.9 798.0,1314.2 798.5,1314.9 799.0,1315.1 799.5,1312.8 800.0,1313.2 800.5,1314.2 801.0,1313.9 801.5,1314.7 802.0,1314.7 802.5,1316.0 803.0,1314.8 803.5,1315.1 804.0,1315.2 804.5,1316.1 805.0,1314.6 805.5,1315.9 806.0,1315.2 806.5,1314.9 807.0,1317.1 807.5,1316.8 808.0,1317.6 808.5,1316.9 809.0,1317.4 809.5,1317.1 810.0,1317.6 810.5,1316.9 811.0,1318.6 811.5,1316.7 812.0,1318.8 812.5,1317.3 813.0,1318.2 813.5,1317.7 814.0,1318.0 814.5,1318.8 815.0,1317.8 815.5,1317.0 816.0,1318.0 816.5,1318.4 817.0,1316.1 817.5,1318.8 818.0,1319.0 818.5,1316.8 819.0,1318.2 819.5,1319.0 820.0,1317.6 820.5,1318.2 821.0,1318.3 821.5,1319.1 822.0,1319.6 822.5,1318.7 823.0,1318.8 823.5,1319.5 824.0,1319.3 824.5,1318.8 825.0,1320.0 825.5,1317.9 826.0,1319.2 826.5,1318.8 827.0,1318.8 827.5,1319.5 828.0,1319.5 828.5,1321.6 829.0,1320.4 829.5,1320.4 830.0,1321.6 830.5,1321.3 831.0,1319.3 831.5,1321.0 832.0,1321.7 832.5,1320.8 833.0,1321.6 833.5,1321.1 834.0,1321.8 834.5,1320.2 835.0,1320.0 835.5,1321.0 836.0,1321.6 836.5,1322.3 837.0,1321.0 837.5,1320.5 838.0,1321.7 838.5,1320.9 839.0,1322.2 839.5,1320.6 840.0,1319.0 840.5,1319.9 841.0,1319.7 841.5,1319.3 842.0,1319.8 842.5,1319.9 843.0,1320.2 843.5,1320.0 844.0,1320.8 844.5,1320.8 845.0,1320.7 845.5,1320.8 846.0,1319.3 846.5,1319.5 847.0,1320.3 847.5,1321.3 848.0,1320.0 848.5,1321.0 849.0,1321.6 849.5,1323.1 850.0,1321.9 850.5,1321.3 851.0,1322.7 851.5,1322.0 852.0,1321.7 852.5,1322.8 853.0,1321.2 853.5,1322.1 854.0,1322.0 854.5,1322.6 855.0,1320.9 855.5,1320.8 856.0,1321.4 856.5,1321.5 857.0,1321.7 857.5,1321.3 858.0,1321.9 858.5,1322.1 859.0,1321.7 859.5,1320.6 860.0,1322.4 860.5,1320.2 861.0,1321.3 861.5,1322.1 862.0,1320.9 862.5,1322.5 863.0,1323.0 863.5,1322.7 864.0,1321.8 864.5,1322.3 865.0,1321.1 865.5,1321.9 866.0,1322.0 866.5,1321.8 867.0,1321.9 867.5,1321.7 868.0,1320.4 868.5,1322.3 869.0,1322.4 869.5,1323.9 870.0,1322.9 870.5,1322.5 871.0,1323.3 871.5,1323.3 872.0,1322.9 872.5,1322.7 873.0,1322.0 873.5,1323.4 874.0,1324.6 874.5,1321.9 875.0,1322.7 875.5,1324.1 876.0,1323.6 876.5,1323.7 877.0,1321.9 877.5,1322.8 878.0,1323.6 878.5,1323.6 879.0,1323.3 879.5,1322.2 880.0,1323.3 880.5,1321.8 881.0,1322.0 881.5,1321.8 882.0,1323.9 882.5,1322.4 883.0,1322.8 883.5,1321.1 884.0,1323.7 884.5,1323.3 885.0,1321.7 885.5,1321.8 886.0,1324.4 886.5,1322.4 887.0,1324.6 887.5,1322.8 888.0,1321.2 888.5,1324.1 889.0,1323.5 889.5,1323.6 890.0,1322.6 890.5,1322.8 891.0,1323.7 891.5,1322.2 892.0,1321.3 892.5,1323.5 893.0,1322.2 893.5,1323.7 894.0,1322.3 894.5,1322.4 895.0,1322.5 895.5,1320.8 896.0,1323.7 896.5,1322.3 897.0,1322.7 897.5,1324.1 898.0,1323.1 898.5,1323.8 899.0,1323.4 899.5,1323.9 900.0,1323.6 900.5,1324.4 901.0,1323.4 901.5,1324.0 902.0,1323.2 902.5,1324.8 903.0,1322.2 903.5,1324.2 904.0,1324.4 904.5,1324.4 905.0,1324.2 905.5,1325.3 906.0,1325.9 906.5,1323.7 907.0,1322.6 907.5,1323.3 908.0,1323.4 908.5,1323.9 909.0,1323.9 909.5,1324.8 910.0,1323.5 910.5,1323.8 911.0,1323.9 911.5,1323.0 912.0,1323.5 912.5,1325.9 913.0,1323.6 913.5,1322.9 914.0,1322.0 914.5,1324.6 915.0,1323.5 915.5,1323.3 916.0,1325.8 916.5,1325.1 917.0,1322.6 917.5,1323.8 918.0,1325.0 918.5,1324.9 919.0,1323.5 919.5,1325.9 920.0,1326.0 920.5,1323.7 921.0,1323.3 921.5,1323.6 922.0,1325.3 922.5,1325.6 923.0,1324.9 923.5,1324.3 924.0,1324.6 924.5,1325.0 925.0,1323.5 925.5,1323.1 926.0,1324.3 926.5,1325.2 927.0,1324.3 927.5,1324.3 928.0,1323.5 928.5,1324.8 929.0,1322.7 929.5,1324.1 930.0,1323.8 930.5,1324.3 931.0,1323.8 931.5,1325.3 932.0,1324.8 932.5,1324.5 933.0,1325.5 933.5,1325.2 934.0,1325.0 934.5,1325.0 935.0,1326.1 935.5,1324.8 936.0,1325.3 936.5,1325.3 937.0,1325.6 937.5,1325.2 938.0,1326.9 938.5,1323.7 939.0,1325.5 939.5,1324.8 940.0,1325.7 940.5,1323.4 941.0,1325.6 941.5,1323.5 942.0,1325.1 942.5,1325.0 943.0,1324.6 943.5,1324.0 944.0,1324.0 944.5,1324.8 945.0,1324.2 945.5,1323.3 946.0,1323.5 946.5,1325.6 947.0,1325.7 947.5,1325.5 948.0,1325.2 948.5,1325.6 949.0,1325.7 949.5,1325.6 950.0,1324.8 950.5,1324.9 951.0,1324.6 951.5,1325.6 952.0,1324.7 952.5,1325.4 953.0,1326.6 953.5,1325.2 954.0,1326.3 954.5,1326.7 955.0,1324.0 955.5,1324.3 956.0,1325.8 956.5,1324.8 957.0,1325.8 957.5,1326.0 958.0,1325.0 958.5,1326.2 959.0,1327.0 959.5,1326.4 960.0,1325.1 960.5,1325.8 961.0,1325.7 961.5,1327.5 962.0,1326.3 962.5,1326.0 963.0,1326.8 963.5,1327.3 964.0,1326.7 964.5,1327.2 965.0,1327.1 965.5,1327.8 966.0,1328.0 966.5,1327.4 967.0,1326.8 967.5,1327.5 968.0,1326.4 968.5,1327.9 969.0,1327.3 969.5,1327.2 970.0,1325.1 970.5,1329.0 971.0,1328.3 971.5,1328.2 972.0,1327.4 972.5,1328.0 973.0,1329.8 973.5,1327.1 974.0,1328.4 974.5,1328.4 975.0,1328.2 975.5,1328.4 976.0,1327.4 976.5,1328.8 977.0,1327.2 977.5,1329.7 978.0,1328.8 978.5,1327.4 979.0,1326.3 979.5,1327.9 980.0,1328.1 980.5,1326.8 981.0,1328.8 981.5,1327.6 982.0,1326.9 982.5,1326.2 983.0,1327.2 983.5,1327.1 984.0,1327.8 984.5,1328.2 985.0,1327.5 985.5,1327.9 986.0,1328.8 986.5,1328.3 987.0,1327.7 987.5,1328.6 988.0,1327.8 988.5,1328.7 989.0,1328.5 989.5,1327.7 990.0,1329.1 990.5,1328.8 991.0,1329.4 991.5,1327.8 992.0,1329.8 992.5,1329.9 993.0,1328.7 993.5,1328.9 994.0,1329.0 994.5,1328.9 995.0,1329.5 995.5,1328.2 996.0,1327.7 996.5,1328.4 997.0,1330.0 997.5,1328.1 998.0,1327.5 998.5,1327.5 999.0,1328.2 999.5,1329.0 1000.0,1327.4 1000.5,1328.1 1001.0,1328.1 1001.5,1328.3 1002.0,1328.1 1002.5,1328.8 1003.0,1328.5 1003.5,1327.5 1004.0,1329.9 1004.5,1326.9 1005.0,1326.9 1005.5,1328.7 1006.0,1328.0 1006.5,1327.5 1007.0,1327.7 1007.5,1327.9 1008.0,1326.8 1008.5,1326.4 1009.0,1325.9 1009.5,1325.8 1010.0,1325.7 1010.5,1327.0 1011.0,1326.2 1011.5,1326.3 1012.0,1325.4 1012.5,1326.7 1013.0,1324.7 1013.5,1326.5 1014.0,1326.8 1014.5,1326.0 1015.0,1325.9 1015.5,1327.4 1016.0,1326.7 1016.5,1326.8 1017.0,1327.8 1017.5,1327.1 1018.0,1328.0 1018.5,1329.9 1019.0,1327.9 1019.5,1329.0 1020.0,1327.4 1020.5,1328.2 1021.0,1327.7 1021.5,1327.7 1022.0,1328.3 1022.5,1329.2 1023.0,1327.2 1023.5,1328.2 1024.0,1327.3 1024.5,1327.6 1025.0,1326.6 1025.5,1326.4 1026.0,1326.8 1026.5,1326.4 1027.0,1327.1 1027.5,1326.3 1028.0,1327.3 1028.5,1327.5 1029.0,1328.9 1029.5,1328.9 1030.0,1327.9 1030.5,1327.2 1031.0,1328.0 1031.5,1328.2 1032.0,1327.3 1032.5,1326.7 1033.0,1325.9 1033.5,1327.2 1034.0,1328.7 1034.5,1326.9 1035.0,1327.3 1035.5,1327.3 1036.0,1327.3 1036.5,1327.6 1037.0,1325.4 1037.5,1326.9 1038.0,1327.4 1038.5,1327.1 1039.0,1328.2 1039.5,1327.0 1040.0,1328.1 1040.5,1328.9 1041.0,1327.3 1041.5,1327.6 1042.0,1327.4 1042.5,1328.2 1043.0,1325.9 1043.5,1326.3 1044.0,1327.2 1044.5,1328.0 1045.0,1327.7 1045.5,1326.5 1046.0,1328.4 1046.5,1327.1 1047.0,1326.4 1047.5,1327.3 1048.0,1327.9 1048.5,1326.9 1049.0,1325.7 1049.5,1326.6 1050.0,1327.2 1050.5,1328.0 1051.0,1326.6 1051.5,1327.8 1052.0,1326.8 1052.5,1327.9 1053.0,1326.9 1053.5,1327.7 1054.0,1327.0 1054.5,1327.5 1055.0,1327.1 1055.5,1326.8 1056.0,1329.4 1056.5,1329.3 1057.0,1328.8 1057.5,1328.1 1058.0,1329.5 1058.5,1328.0 1059.0,1328.5 1059.5,1329.1 1060.0,1328.3 1060.5,1329.2 1061.0,1327.9 1061.5,1327.8 1062.0,1328.0 1062.5,1327.0 1063.0,1327.0 1063.5,1328.5 1064.0,1326.5 1064.5,1328.8 1065.0,1328.1 1065.5,1328.9 1066.0,1328.6 1066.5,1328.6 1067.0,1329.6 1067.5,1328.2 1068.0,1328.3 1068.5,1329.4 1069.0,1328.0 1069.5,1329.5 1070.0,1329.3 1070.5,1328.4 1071.0,1327.8 1071.5,1327.2 1072.0,1330.3 1072.5,1327.5 1073.0,1327.7 1073.5,1329.2 1074.0,1328.8 1074.5,1328.4 1075.0,1328.2 1075.5,1327.7 1076.0,1327.2 1076.5,1327.2 1077.0,1328.2 1077.5,1328.5 1078.0,1328.6 1078.5,1327.7 1079.0,1325.9 1079.5,1328.3 1080.0,1327.9 1080.5,1326.0 1081.0,1329.4 1081.5,1328.6 1082.0,1328.5 1082.5,1328.9 1083.0,1329.0 1083.5,1329.2 1084.0,1329.2 1084.5,1329.1 1085.0,1329.6 1085.5,1329.4 1086.0,1331.1 1086.5,1329.2 1087.0,1328.6 1087.5,1328.5 1088.0,1329.3 1088.5,1329.0 1089.0,1329.1 1089.5,1328.8 1090.0,1328.8 1090.5,1329.6 1091.0,1330.2 1091.5,1329.5 1092.0,1329.2 1092.5,1328.5 1093.0,1328.7 1093.5,1329.8 1094.0,1329.7 1094.5,1329.9 1095.0,1329.2 1095.5,1330.1 1096.0,1328.7 1096.5,1329.4 1097.0,1329.7 1097.5,1330.8 1098.0,1329.9 1098.5,1329.6 1099.0,1330.5 1099.5,1330.2 1100.0,1331.0 1100.5,1330.4 1101.0,1330.3 1101.5,1329.9 1102.0,1330.5 1102.5,1329.4 1103.0,1328.7 1103.5,1330.6 1104.0,1329.5 1104.5,1329.9 1105.0,1330.3 1105.5,1330.6 1106.0,1327.4 1106.5,1328.9 1107.0,1330.7 1107.5,1328.3 1108.0,1330.0 1108.5,1329.3 1109.0,1328.8 1109.5,1329.3 1110.0,1328.0 1110.5,1329.7 1111.0,1330.3 1111.5,1328.2 1112.0,1328.8 1112.5,1330.4 1113.0,1329.8 1113.5,1329.4 1114.0,1330.9 1114.5,1328.6 1115.0,1330.0 1115.5,1330.5 1116.0,1330.4 1116.5,1331.6 1117.0,1329.8 1117.5,1331.4 1118.0,1331.0 1118.5,1332.7 1119.0,1332.7 1119.5,1331.3 1120.0,1331.0 1120.5,1331.7 1121.0,1330.9 1121.5,1331.0 1122.0,1331.5 1122.5,1330.6 1123.0,1332.1 1123.5,1330.5 1124.0,1329.8 1124.5,1329.1 1125.0,1329.4 1125.5,1330.6 1126.0,1330.1 1126.5,1330.9 1127.0,1330.9 1127.5,1330.4 1128.0,1329.6 1128.5,1330.2 1129.0,1330.6 1129.5,1329.5 1130.0,1331.3 1130.5,1330.4 1131.0,1331.4 1131.5,1331.2 1132.0,1332.2 1132.5,1333.9 1133.0,1330.8 1133.5,1331.7 1134.0,1333.4 1134.5,1330.9 1135.0,1331.4 1135.5,1331.4 1136.0,1331.7 1136.5,1330.1 1137.0,1331.5 1137.5,1331.7 1138.0,1333.3 1138.5,1331.2 1139.0,1330.8 1139.5,1331.4 1140.0,1329.2 1140.5,1331.6 1141.0,1332.7 1141.5,1331.4 1142.0,1331.4 1142.5,1331.3 1143.0,1331.5 1143.5,1330.4 1144.0,1332.5 1144.5,1330.8 1145.0,1330.7 1145.5,1332.2 1146.0,1330.7 1146.5,1330.2 1147.0,1331.7 1147.5,1330.4 1148.0,1330.9 1148.5,1329.6 1149.0,1328.5 1149.5,1330.1 1150.0,1331.1 1150.5,1329.7 1151.0,1330.5 1151.5,1330.9 1152.0,1330.7 1152.5,1330.8 1153.0,1331.6 1153.5,1331.3 1154.0,1330.9 1154.5,1332.3 1155.0,1332.3 1155.5,1332.1 1156.0,1332.4 1156.5,1329.8 1157.0,1332.1 1157.5,1331.9 1158.0,1330.2 1158.5,1333.4 1159.0,1331.9 1159.5,1331.2 1160.0,1331.2 1160.5,1331.6 1161.0,1331.2 1161.5,1329.9 1162.0,1330.8 1162.5,1331.4 1163.0,1331.4 1163.5,1331.6 1164.0,1330.0 1164.5,1330.3 1165.0,1331.2 1165.5,1330.4 1166.0,1331.1 1166.5,1330.3 1167.0,1331.5 1167.5,1331.1 1168.0,1331.6 1168.5,1331.3 1169.0,1330.8 1169.5,1330.5 1170.0,1331.7 1170.5,1331.2 1171.0,1330.6 1171.5,1331.5 1172.0,1332.7 1172.5,1333.1 1173.0,1332.7 1173.5,1333.2 1174.0,1331.8 1174.5,1332.0 1175.0,1331.2 1175.5,1331.3 1176.0,1333.2 1176.5,1332.1 1177.0,1332.2 1177.5,1333.7 1178.0,1333.1 1178.5,1330.8 1179.0,1332.3 1179.5,1330.9 1180.0,1332.3 1180.5,1330.1 1181.0,1330.9 1181.5,1331.0 1182.0,1333.5 1182.5,1330.5 1183.0,1332.9 1183.5,1333.0 1184.0,1332.3 1184.5,1333.0 1185.0,1334.4 1185.5,1332.5 1186.0,1332.1 1186.5,1333.4 1187.0,1332.8 1187.5,1331.2 1188.0,1332.2 1188.5,1332.1 1189.0,1330.9 1189.5,1330.9 1190.0,1331.1 1190.5,1330.6 1191.0,1331.9 1191.5,1331.7 1192.0,1329.7 1192.5,1331.2 1193.0,1331.7 1193.5,1330.6 1194.0,1331.6 1194.5,1332.1 1195.0,1330.6 1195.5,1331.9 1196.0,1330.3 1196.5,1332.9 1197.0,1331.8 1197.5,1331.3 1198.0,1331.0 1198.5,1331.2 1199.0,1333.6 1199.5,1331.9 1200.0,1332.2 1200.5,1332.3 1201.0,1331.4 1201.5,1333.2 1202.0,1330.5 1202.5,1333.2 1203.0,1331.8 1203.5,1332.4 1204.0,1332.5 1204.5,1332.9 1205.0,1331.1 1205.5,1332.6 1206.0,1332.0 1206.5,1331.8 1207.0,1331.6 1207.5,1332.7 1208.0,1332.1 1208.5,1332.7 1209.0,1332.4 1209.5,1330.0 1210.0,1331.5 1210.5,1332.4 1211.0,1330.8 1211.5,1330.2 1212.0,1329.7 1212.5,1333.2 1213.0,1330.8 1213.5,1331.7 1214.0,1330.7 1214.5,1331.9 1215.0,1332.9 1215.5,1330.4 1216.0,1331.6 1216.5,1331.0 1217.0,1330.1 1217.5,1330.9 1218.0,1331.7 1218.5,1332.7 1219.0,1332.8 1219.5,1331.7 1220.0,1330.4 1220.5,1332.3 1221.0,1331.8 1221.5,1331.8 1222.0,1330.9 1222.5,1331.7 1223.0,1333.5 1223.5,1333.1 1224.0,1333.0 1224.5,1332.5 1225.0,1331.6 1225.5,1331.9 1226.0,1332.1 1226.5,1332.3 1227.0,1331.6 1227.5,1331.2 1228.0,1332.8 1228.5,1331.5 1229.0,1332.5 1229.5,1331.6 1230.0,1332.3 1230.5,1332.2 1231.0,1332.3 1231.5,1332.3 1232.0,1331.0 1232.5,1330.7 1233.0,1331.9 1233.5,1333.3 1234.0,1331.4 1234.5,1331.5 1235.0,1334.3 1235.5,1331.3 1236.0,1332.2 1236.5,1332.5 1237.0,1332.4 1237.5,1332.6 1238.0,1334.1 1238.5,1333.5 1239.0,1333.5 1239.5,1332.1 1240.0,1334.1 1240.5,1333.5 1241.0,1333.5 1241.5,1333.9 1242.0,1333.4 1242.5,1333.1 1243.0,1333.3 1243.5,1332.3 1244.0,1332.0 1244.5,1331.6 1245.0,1333.3 1245.5,1331.9 1246.0,1332.5 1246.5,1333.2 1247.0,1333.8 1247.5,1331.9 1248.0,1332.3 1248.5,1332.3 1249.0,1331.1 1249.5,1331.8 1250.0,1334.4 1250.5,1332.1 1251.0,1333.6 1251.5,1332.8 1252.0,1333.6 1252.5,1333.2 1253.0,1332.3 1253.5,1331.2 1254.0,1333.4 1254.5,1332.8 1255.0,1332.6 1255.5,1332.9 1256.0,1331.5 1256.5,1332.3 1257.0,1332.2 1257.5,1330.9 1258.0,1331.1 1258.5,1332.0 1259.0,1330.2 1259.5,1332.6 1260.0,1332.6 1260.5,1331.9 1261.0,1332.1 1261.5,1330.4 1262.0,1332.0 1262.5,1332.5 1263.0,1332.3 1263.5,1332.7 1264.0,1331.9 1264.5,1333.7 1265.0,1332.4 1265.5,1332.8 1266.0,1333.1 1266.5,1331.7 1267.0,1331.5 1267.5,1333.1 1268.0,1331.5 1268.5,1332.1 1269.0,1333.4 1269.5,1331.7 1270.0,1331.8 1270.5,1331.6 1271.0,1331.8 1271.5,1334.1 1272.0,1333.0 1272.5,1333.3 1273.0,1330.9 1273.5,1330.5 1274.0,1331.5 1274.5,1333.3 1275.0,1333.3 1275.5,1330.7 1276.0,1330.9 1276.5,1332.8 1277.0,1332.4 1277.5,1332.6 1278.0,1332.7 1278.5,1331.3 1279.0,1332.2 1279.5,1331.9 1280.0,1333.1 1280.5,1331.8 1281.0,1330.5 1281.5,1333.1 1282.0,1333.5 1282.5,1332.8 1283.0,1331.7 1283.5,1331.2 1284.0,1332.8 1284.5,1331.6 1285.0,1332.4 1285.5,1332.7 1286.0,1331.9 1286.5,1330.4 1287.0,1332.5 1287.5,1331.3 1288.0,1330.9 1288.5,1332.1 1289.0,1332.3 1289.5,1332.2 1290.0,1332.8 1290.5,1330.7 1291.0,1332.8 1291.5,1333.6 1292.0,1332.2 1292.5,1331.9 1293.0,1332.1 1293.5,1333.2 1294.0,1332.0 1294.5,1331.5 1295.0,1330.7 1295.5,1333.2 1296.0,1333.2 1296.5,1332.0 1297.0,1333.6 1297.5,1331.6 1298.0,1332.5 1298.5,1330.9 1299.0,1331.1 1299.5,1332.0 1300.0,1332.5 1300.5,1332.7 1301.0,1331.5 1301.5,1331.9 1302.0,1332.3 1302.5,1332.3 1303.0,1332.4 1303.5,1333.3 1304.0,1333.6 1304.5,1331.2 1305.0,1333.7 1305.5,1332.8 1306.0,1332.9 1306.5,1332.8 1307.0,1333.2 1307.5,1333.0 1308.0,1331.1 1308.5,1333.0 1309.0,1331.3 1309.5,1332.5 1310.0,1332.3 1310.5,1330.9 1311.0,1332.2 1311.5,1332.0 1312.0,1331.7 1312.5,1334.0 1313.0,1332.6 1313.5,1332.2 1314.0,1334.1 1314.5,1332.7 1315.0,1332.7 1315.5,1331.3 1316.0,1333.5 1316.5,1333.8 1317.0,1334.6 1317.5,1332.2 1318.0,1333.9 1318.5,1334.1 1319.0,1333.5 1319.5,1332.8 1320.0,1331.4 1320.5,1332.9 1321.0,1332.2 1321.5,1331.2 1322.0,1333.1 1322.5,1332.5 1323.0,1332.4 1323.5,1334.2 1324.0,1332.2 1324.5,1331.0 1325.0,1330.9 1325.5,1333.2 1326.0,1332.7 1326.5,1332.3 1327.0,1331.3 1327.5,1332.4 1328.0,1332.2 1328.5,1333.0 1329.0,1332.4 1329.5,1332.4 1330.0,1333.0 1330.5,1332.4 1331.0,1333.3 1331.5,1330.2 1332.0,1331.9 1332.5,1333.8 1333.0,1332.9 1333.5,1331.7 1334.0,1332.4 1334.5,1332.0 1335.0,1332.1 1335.5,1333.4 1336.0,1331.9 1336.5,1332.3 1337.0,1331.4 1337.5,1331.4 1338.0,1330.7 1338.5,1331.3 1339.0,1331.5 1339.5,1331.5 1340.0,1331.8 1340.5,1331.8 1341.0,1332.3 1341.5,1331.6 1342.0,1332.8 1342.5,1332.3 1343.0,1332.9 1343.5,1331.8 1344.0,1332.9 1344.5,1332.0 1345.0,1330.6 1345.5,1332.0 1346.0,1331.9 1346.5,1331.0 1347.0,1331.4 1347.5,1331.8 1348.0,1334.2 1348.5,1332.6 1349.0,1333.9 1349.5,1333.2 1350.0,1333.4 1350.5,1333.3 1351.0,1331.5 1351.5,1333.7 1352.0,1332.0 1352.5,1333.2 1353.0,1332.8 1353.5,1334.2 1354.0,1333.9 1354.5,1334.5 1355.0,1333.5 1355.5,1333.1 1356.0,1333.8 1356.5,1335.1 1357.0,1333.6 1357.5,1333.3 1358.0,1332.3 1358.5,1332.7 1359.0,1333.2 1359.5,1333.8 1360.0,1333.8 1360.5,1333.2 1361.0,1333.4 1361.5,1334.6 1362.0,1334.8 1362.5,1334.3 1363.0,1334.6 1363.5,1334.3 1364.0,1334.8 1364.5,1332.3 1365.0,1332.9 1365.5,1333.5 1366.0,1333.7 1366.5,1334.4 1367.0,1331.9 1367.5,1333.5 1368.0,1333.6 1368.5,1332.9 1369.0,1333.3 1369.5,1334.2 1370.0,1333.8 1370.5,1333.4 1371.0,1333.7 1371.5,1333.4 1372.0,1334.3 1372.5,1333.5 1373.0,1334.3 1373.5,1333.1 1374.0,1333.6 1374.5,1332.7 1375.0,1333.4 1375.5,1334.3 1376.0,1332.8 1376.5,1333.3 1377.0,1333.7 1377.5,1333.3 1378.0,1334.2 1378.5,1332.6 1379.0,1334.2 1379.5,1334.6 1380.0,1334.8 1380.5,1333.4 1381.0,1332.8 1381.5,1332.2 1382.0,1334.0 1382.5,1334.1 1383.0,1333.7 1383.5,1333.8 1384.0,1334.1 1384.5,1333.2 1385.0,1332.4 1385.5,1332.4 1386.0,1332.9 1386.5,1332.8 1387.0,1332.3 1387.5,1333.2 1388.0,1332.7 1388.5,1334.1 1389.0,1333.5 1389.5,1334.2 1390.0,1332.4 1390.5,1332.6 1391.0,1332.1 1391.5,1333.6 1392.0,1335.9 1392.5,1333.5 1393.0,1332.9 1393.5,1333.4 1394.0,1333.2 1394.5,1334.0 1395.0,1333.2 1395.5,1332.5 1396.0,1331.7 1396.5,1333.5 1397.0,1334.1 1397.5,1333.4 1398.0,1332.7 1398.5,1333.1 1399.0,1333.3 1399.5,1334.1 1400.0,1333.7" fill="none" stroke="#f00" stroke-width="2.0" stroke-linejoin="round"/>
<path d="M144.5,1849.5 L144.7,1852.4 144.9,1845.8 145.1,1838.7 145.3,1843.2 145.5,1837.0 145.7,1848.2 145.9,1862.0 146.1,1841.6 146.3,1839.9 146.5,1851.9 146.7,1850.2 146.9,1847.2 147.1,1835.6 147.3,1845.3 147.5,1853.1 147.7,1830.5 147.9,1840.1 148.1,1824.1 148.3,1830.7 148.5,1824.5 148.7,1842.0 148.9,1830.5 149.1,1847.3 149.3,1845.9 149.5,1842.1 149.7,1816.5 149.9,1838.0 150.1,1843.3 150.3,1845.0 150.5,1827.0 150.7,1838.5 150.9,1833.0 151.1,1834.8 151.3,1855.2 151.5,1834.8 151.7,1843.2 151.9,1853.2 152.1,1837.2 152.3,1842.3 152.5,1844.8 152.7,1844.3 152.9,1830.2 153.1,1844.5 153.3,1858.5 153.5,1826.8 153.7,1853.1 153.9,1845.1 154.1,1836.8 154.3,1865.7 154.5,1852.2 154.7,1830.9 154.9,1844.8 155.1,1850.3 155.3,1842.1 155.5,1851.6 155.7,1843.5 155.9,1851.6 156.1,1860.0 156.3,1837.1 156.5,1846.7 156.7,1839.6 156.9,1846.1 157.1,1831.8 157.3,1838.5 157.5,1842.8 157.7,1854.7 157.9,1857.5 158.1,1830.7 158.3,1836.6 158.5,1852.3 158.7,1823.7 158.9,1840.4 159.1,1844.4 159.3,1859.2 159.5,1853.1 159.7,1842.1 159.9,1841.7 160.1,1843.0 160.3,1862.3 160.5,1841.2 160.7,1842.6 160.9,1849.8 161.1,1844.7 161.3,1843.9 161.5,1834.0 161.7,1846.0 161.9,1841.3 162.1,1858.8 162.3,1853.2 162.5,1845.9 162.7,1853.4 162.9,1842.5 163.1,1857.6 163.3,1846.2 163.5,1852.6 163.7,1832.3 163.9,1850.0 164.1,1828.0 164.3,1824.3 164.5,1843.0 164.7,1836.6 164.9,1848.1 165.1,1870.5 165.3,1837.3 165.5,1839.6 165.7,1848.5 165.9,1851.6 166.1,1844.4 166.3,1844.1 166.5,1853.8 166.7,1851.9 166.9,1835.1 167.1,1845.4 167.3,1846.7 167.5,1834.9 167.7,1849.1 167.9,1837.1 168.1,1856.8 168.3,1848.4 168.5,1847.3 168.7,1840.0 168.9,1845.1 169.1,1824.9 169.3,1834.3 169.5,1850.4 169.7,1823.6 169.9,1855.7 170.1,1827.8 170.3,1854.8 170.5,1837.6 170.7,1855.1 170.9,1848.2 171.1,1830.3 171.3,1860.3 171.5,1862.4 171.7,1846.3 171.9,1844.1 172.1,1845.4 172.3,1836.7 172.5,1859.0 172.7,1841.5 172.9,1846.8 173.1,1838.9 173.3,1840.8 173.5,1833.9 173.7,1861.1 173.9,1846.1 174.1,1858.2 174.3,1848.1 174.5,1840.6 174.7,1844.6 174.9,1842.2 175.1,1848.4 175.3,1844.4 175.5,1845.3 175.7,1833.9 175.9,1840.1 176.1,1866.6 176.3,1841.8 176.5,1837.9 176.7,1852.9 176.9,1864.4 177.1,1834.0 177.3,1847.4 177.5,1843.0 177.7,1831.1 177.9,1857.9 178.1,1849.9 178.3,1851.1 178.5,1842.4 178.7,1855.4 178.9,1845.0 179.1,1849.3 179.3,1839.2 179.5,1838.2 179.7,1865.5 179.9,1846.0 180.1,1854.6 180.3,1851.2 180.5,1847.0 180.7,1846.4 180.9,1858.6 181.1,1848.8 181.3,1850.5 181.5,1852.5 181.7,1864.9 181.9,1859.7 182.1,1856.6 182.3,1846.6 182.5,1838.0 182.7,1862.8 182.9,1863.1 183.1,1851.4 183.3,1858.7 183.5,1861.2 183.7,1861.8 183.9,1862.8 184.1,1848.2 184.3,1869.1 184.5,1839.8 184.7,1862.1 184.9,1858.2 185.1,1862.2 185.3,1872.9 185.5,1868.6 185.7,1840.7 185.9,1834.9 186.1,1861.4 186.3,1841.9 186.5,1852.5 186.7,1861.5 186.9,1835.1 187.1,1830.1 187.3,1855.1 187.5,1852.8 187.7,1849.6 187.9,1852.6 188.1,1843.0 188.3,1836.0 188.5,1850.2 188.7,1841.6 188.9,1834.5 189.1,1857.1 189.3,1851.1 189.5,1856.0 189.7,1841.2 189.9,1844.6 190.1,1841.0 190.3,1842.2 190.5,1853.6 190.7,1843.2 190.9,1855.2 191.1,1855.1 191.3,1872.8 191.5,1836.8 191.7,1860.9 191.9,1850.6 192.1,1851.5 192.3,1836.4 192.5,1846.9 192.7,1859.7 192.9,1851.1 193.1,1852.9 193.3,1849.1 193.5,1864.4 193.7,1852.2 193.9,1829.4 194.1,1845.4 194.3,1832.1 194.5,1818.8 194.7,1847.6 194.9,1867.4 195.1,1854.0 195.3,1841.4 195.5,1844.0 195.7,1866.0 195.9,1855.9 196.1,1855.0 196.3,1854.1 196.5,1855.3 196.7,1863.6 196.9,1861.1 197.1,1857.8 197.3,1844.8 197.5,1861.3 197.7,1849.0 197.9,1867.8 198.1,1843.3 198.3,1855.3 198.5,1856.9 198.7,1843.3 198.9,1875.4 199.1,1872.9 199.3,1852.9 199.5,1866.0 199.7,1862.1 199.9,1831.0 200.1,1861.1 200.3,1858.0 200.5,1859.7 200.7,1847.7 200.9,1856.3 201.1,1857.4 201.3,1871.8 201.5,1863.0 201.7,1859.6 201.9,1875.8 202.1,1854.1 202.3,1856.0 202.5,1841.2 202.7,1876.6 202.9,1870.4 203.1,1870.0 203.3,1867.5 203.5,1861.7 203.7,1862.9 203.9,1858.1 204.1,1858.7 204.3,1861.4 204.5,1876.7 204.7,1866.8 204.9,1860.5 205.1,1855.1 205.3,1854.6 205.5,1877.9 205.7,1866.5 205.9,1862.0 206.1,1857.8 206.3,1849.9 206.5,1860.7 206.7,1870.5 206.9,1857.4 207.1,1859.2 207.3,1859.2 207.5,1862.7 207.7,1845.0 207.9,1859.2 208.1,1852.8 208.3,1870.8 208.5,1853.7 208.7,1867.7 208.9,1877.5 209.1,1858.5 209.3,1855.5 209.5,1863.7 209.7,1861.8 209.9,1851.5 210.1,1866.6 210.3,1882.7 210.5,1859.2 210.7,1859.7 210.9,1851.0 211.1,1865.2 211.3,1849.0 211.5,1850.5 211.7,1875.2 211.9,1852.6 212.1,1873.2 212.3,1877.8 212.5,1864.7 212.7,1867.8 212.9,1882.3 213.1,1860.1 213.3,1856.0 213.5,1848.2 213.7,1862.6 213.9,1877.5 214.1,1872.2 214.3,1852.6 214.5,1853.5 214.7,1857.2 214.9,1865.5 215.1,1860.4 215.3,1864.8 215.5,1865.7 215.7,1859.7 215.9,1862.4 216.1,1865.1 216.3,1862.2 216.5,1868.4 216.7,1882.6 216.9,1869.6 217.1,1864.3 217.3,1846.5 217.5,1868.0 217.7,1844.2 217.9,1849.9 218.1,1873.4 218.3,1872.0 218.5,1863.4 218.7,1847.6 218.9,1861.6 219.1,1858.6 219.3,1872.4 219.5,1889.3 219.7,1868.5 219.9,1858.5 220.1,1854.7 220.3,1866.4 220.5,1865.3 220.7,1855.6 220.9,1868.8 221.1,1856.0 221.3,1879.4 221.5,1879.1 221.7,1879.6 221.9,1863.8 222.1,1874.1 222.3,1867.7 222.5,1865.3 222.7,1866.0 222.9,1856.3 223.1,1855.0 223.3,1878.1 223.5,1868.2 223.7,1872.5 223.9,1880.7 224.1,1852.9 224.3,1862.7 224.5,1872.7 224.7,1875.1 224.9,1867.4 225.1,1881.9 225.3,1873.7 225.5,1859.3 225.7,1862.4 225.9,1880.3 226.1,1877.0 226.3,1853.0 226.5,1886.3 226.7,1878.8 226.9,1886.6 227.1,1869.1 227.3,1870.2 227.5,1861.9 227.7,1899.4 227.9,1871.9 228.1,1890.1 228.3,1867.5 228.5,1875.9 228.7,1857.4 228.9,1870.7 229.1,1884.8 229.3,1862.2 229.5,1886.1 229.7,1878.8 229.9,1865.0 230.1,1870.7 230.3,1871.3 230.5,1875.7 230.7,1871.0 230.9,1868.2 231.1,1873.8 231.3,1866.6 231.5,1864.2 231.7,1877.1 231.9,1886.7 232.1,1862.5 232.3,1878.3 232.5,1871.9 232.7,1868.9 232.9,1887.7 233.1,1874.1 233.3,1894.8 233.5,1872.0 233.7,1884.1 233.9,1878.1 234.1,1873.1 234.3,1887.0 234.5,1879.7 234.7,1887.7 234.9,1881.4 235.1,1871.2 235.3,1881.4 235.5,1883.3 235.7,1892.7 235.9,1874.2 236.1,1883.2 236.3,1866.5 236.5,1890.8 236.7,1873.6 236.9,1866.6 237.1,1884.5 237.3,1896.6 237.5,1870.3 237.7,1875.0 237.9,1878.7 238.1,1875.1 238.3,1890.6 238.5,1878.9 238.7,1880.1 238.9,1893.5 239.1,1880.3 239.3,1892.5 239.5,1878.6 239.7,1876.4 239.9,1870.4 240.1,1907.9 240.3,1886.2 240.5,1892.1 240.7,1889.5 240.9,1891.7 241.1,1890.8 241.3,1909.7 241.5,1880.3 241.7,1875.3 241.9,1881.0 242.1,1877.9 242.3,1899.0 242.5,1900.0 242.7,1882.3 242.9,1878.1 243.1,1888.7 243.3,1906.4 243.5,1864.3 243.7,1898.1 243.9,1882.2 244.1,1903.6 244.3,1882.5 244.5,1890.6 244.7,1878.5 244.9,1883.9 245.1,1907.8 245.3,1902.2 245.5,1890.1 245.7,1885.6 245.9,1875.4 246.1,1890.6 246.3,1894.4 246.5,1893.9 246.7,1894.0 246.9,1883.8 247.1,1894.5 247.3,1894.9 247.5,1908.3 247.7,1914.1 247.9,1894.2 248.1,1888.0 248.3,1895.1 248.5,1889.7 248.7,1888.5 248.9,1895.4 249.1,1885.6 249.3,1902.2 249.5,1895.1 249.7,1898.7 249.9,1894.5 250.1,1889.1 250.3,1887.0 250.5,1894.1 250.7,1891.1 250.9,1898.9 251.1,1896.6 251.3,1883.1 251.5,1897.4 251.7,1883.4 251.9,1890.7 252.1,1894.0 252.3,1876.3 252.5,1897.9 252.7,1898.5 252.9,1895.5 253.1,1892.9 253.3,1893.4 253.5,1887.5 253.7,1894.5 253.9,1891.8 254.1,1898.2 254.3,1885.4 254.5,1899.7 254.7,1898.9 254.9,1896.1 255.1,1893.2 255.3,1903.1 255.5,1881.1 255.7,1902.3 255.9,1900.2 256.1,1900.6 256.3,1901.7 256.5,1891.5 256.7,1895.4 256.9,1904.4 257.1,1902.4 257.3,1900.3 257.5,1883.3 257.7,1903.7 257.9,1910.1 258.1,1908.6 258.3,1901.0 258.5,1883.4 258.7,1908.3 258.9,1897.6 259.1,1874.1 259.3,1903.1 259.5,1884.7 259.7,1886.8 259.9,1893.6 260.1,1912.6 260.3,1896.5 260.5,1903.1 260.7,1917.9 260.9,1916.6 261.1,1900.1 261.3,1898.9 261.5,1889.1 261.7,1895.0 261.9,1906.3 262.1,1906.3 262.3,1903.8 262.5,1912.9 262.7,1895.8 262.9,1903.2 263.1,1911.3 263.3,1910.2 263.5,1915.4 263.7,1909.2 263.9,1902.6 264.1,1909.7 264.3,1896.7 264.5,1890.8 264.7,1913.2 264.9,1907.4 265.1,1911.4 265.3,1892.2 265.5,1905.8 265.7,1904.0 265.9,1901.9 266.1,1888.7 266.3,1908.1 266.5,1920.7 266.7,1916.2 266.9,1907.1 267.1,1913.3 267.3,1921.4 267.5,1887.4 267.7,1913.8 267.9,1920.9 268.1,1922.7 268.3,1933.2 268.5,1928.2 268.7,1920.6 268.9,1921.0 269.1,1926.2 269.3,1913.6 269.5,1919.0 269.7,1928.7 269.9,1939.4 270.1,1919.1 270.3,1920.6 270.5,1923.4 270.7,1934.9 270.9,1921.8 271.1,1936.8 271.3,1913.3 271.5,1921.3 271.7,1921.4 271.9,1931.3 272.1,1934.1 272.3,1909.4 272.5,1915.5 272.7,1927.9 272.9,1918.4 273.1,1910.1 273.3,1935.3 273.5,1930.2 273.7,1930.3 273.9,1921.0 274.1,1935.8 274.3,1923.6 274.5,1936.8 274.7,1917.3 274.9,1918.0 275.1,1928.4 275.3,1919.7 275.5,1933.3 275.7,1929.3 275.9,1917.9 276.1,1927.7 276.3,1923.7 276.5,1936.2 276.7,1921.2 276.9,1923.2 277.1,1939.4 277.3,1949.5 277.5,1947.4 277.7,1928.7 277.9,1930.4 278.1,1943.3 278.3,1927.4 278.5,1919.3 278.7,1930.1 278.9,1933.6 279.1,1921.4 279.3,1913.7 279.5,1916.0 279.7,1936.6 279.9,1923.1 280.1,1929.4 280.3,1933.2 280.5,1937.4 280.7,1928.5 280.9,1936.9 281.1,1923.9 281.3,1929.3 281.5,1923.3 281.7,1944.6 281.9,1933.7 282.1,1927.2 282.3,1931.4 282.5,1933.1 282.7,1942.4 282.9,1920.6 283.1,1926.5 283.3,1933.3 283.5,1961.8 283.7,1947.1 283.9,1937.2 284.1,1945.7 284.3,1959.1 284.5,1937.5 284.7,1936.7 284.9,1952.4 285.1,1946.0 285.3,1948.2 285.5,1937.3 285.7,1961.2 285.9,1959.6 286.1,1949.0 286.3,1950.6 286.5,1925.0 286.7,1951.1 286.9,1943.5 287.1,1950.0 287.3,1952.8 287.5,1943.3 287.7,1930.8 287.9,1950.9 288.1,1940.6 288.3,1944.9 288.5,1942.7 288.7,1945.5 288.9,1926.9 289.1,1961.1 289.3,1952.1 289.5,1960.7 289.7,1969.3 289.9,1950.7 290.1,1933.4 290.3,1942.4 290.5,1939.6 290.7,1946.6 290.9,1952.3 291.1,1932.6 291.3,1955.2 291.5,1937.6 291.7,1955.1 291.9,1951.3 292.1,1949.5 292.3,1951.9 292.5,1947.5 292.7,1946.9 292.9,1936.7 293.1,1952.6 293.3,1970.6 293.5,1971.9 293.7,1965.7 293.9,1959.8 294.1,1946.6 294.3,1966.8 294.5,1952.5 294.7,1952.3 294.9,1950.1 295.1,1953.7 295.3,1948.7 295.5,1951.9 295.7,1942.3 295.9,1949.0 296.1,1974.2 296.3,1951.6 296.5,1949.9 296.7,1957.1 296.9,1958.7 297.1,1941.2 297.3,1949.6 297.5,1960.2 297.7,1953.9 297.9,1952.3 298.1,1965.8 298.3,1944.4 298.5,1951.5 298.7,1945.6 298.9,1964.6 299.1,1931.7 299.3,1943.7 299.5,1944.9 299.7,1956.1 299.9,1955.4 300.1,1962.8 300.3,1934.4 300.5,1956.4 300.7,1946.4 300.9,1942.7 301.1,1954.1 301.3,1940.1 301.5,1929.1 301.7,1945.2 301.9,1934.4 302.1,1942.4 302.3,1952.0 302.5,1951.5 302.7,1963.5 302.9,1946.6 303.1,1934.0 303.3,1941.4 303.5,1939.8 303.7,1937.1 303.9,1952.8 304.1,1942.7 304.3,1930.2 304.5,1955.6 304.7,1948.1 304.9,1952.6 305.1,1950.4 305.3,1955.6 305.5,1950.1 305.7,1961.7 305.9,1954.2 306.1,1954.1 306.3,1954.5 306.5,1937.1 306.7,1949.5 306.9,1948.9 307.1,1953.6 307.3,1939.0 307.5,1967.5 307.7,1953.4 307.9,1941.2 308.1,1936.8 308.3,1950.6 308.5,1952.7 308.7,1947.0 308.9,1954.9 309.1,1948.3 309.3,1959.8 309.5,1948.1 309.7,1954.9 309.9,1964.7 310.1,1980.0 310.3,1946.6 310.5,1952.1 310.7,1949.1 310.9,1964.8 311.1,1947.2 311.3,1954.0 311.5,1958.9 311.7,1950.7 311.9,1951.5 312.1,1956.8 312.3,1942.2 312.5,1949.1 312.7,1959.5 312.9,1965.6 313.1,1963.2 313.3,1949.0 313.5,1962.1 313.7,1974.6 313.9,1973.1 314.1,1967.9 314.3,1961.0 314.5,1975.9 314.7,1965.2 314.9,1960.2 315.1,1964.2 315.3,1985.9 315.5,1974.9 315.7,1984.1 315.9,1969.1 316.1,1982.8 316.3,1968.7 316.5,1973.2 316.7,1998.2 316.9,1982.4 317.1,1970.9 317.3,1975.1 317.5,1979.2 317.7,1987.8 317.9,1972.2 318.1,1960.8 318.3,1974.8 318.5,1977.8 318.7,1979.0 318.9,1990.6 319.1,1981.5 319.3,1986.5 319.5,1968.9 319.7,1987.6 319.9,1999.4 320.1,1987.3 320.3,1982.8 320.5,1982.2 320.7,1997.7 320.9,1972.7 321.1,1980.7 321.3,1986.3 321.5,1989.3 321.7,1978.6 321.9,1985.9 322.1,1980.8 322.3,1984.8 322.5,1982.8 322.7,1973.8 322.9,1984.5 323.1,1993.2 323.3,1976.4 323.5,1983.5 323.7,1992.3 323.9,1976.5 324.1,1988.5 324.3,1977.3 324.5,1998.1 324.7,2009.4 324.9,2007.0 325.1,1986.6 325.3,1995.8 325.5,1990.5 325.7,1990.6 325.9,2004.4 326.1,1978.2 326.3,2000.6 326.5,1990.7 326.7,2004.6 326.9,1993.6 327.1,1986.0 327.3,1995.2 327.5,1999.9 327.7,1993.7 327.9,1998.3 328.1,1989.3 328.3,1974.8 328.5,2003.2 328.7,2001.8 328.9,1997.0 329.1,1996.6 329.3,2006.0 329.5,1992.5 329.7,1990.5 329.9,1995.7 330.1,2008.8 330.3,1985.3 330.5,2009.5 330.7,1992.9 330.9,1988.9 331.1,2011.0 331.3,1998.8 331.5,1988.0 331.7,1997.0 331.9,2009.2 332.1,2011.9 332.3,1997.2 332.5,2005.2 332.7,2008.3 332.9,1996.0 333.1,2005.4 333.3,2002.1 333.5,1997.7 333.7,1998.3 333.9,2003.7 334.1,2003.5 334.3,1998.2 334.5,1999.7 334.7,2014.0 334.9,2005.9 335.1,2012.2 335.3,2015.3 335.5,2009.7 335.7,2025.3 335.9,1996.9 336.1,2012.1 336.3,2001.8 336.5,2021.8 336.7,2020.5 336.9,1986.9 337.1,1996.1 337.3,2011.1 337.5,2012.3 337.7,2011.9 337.9,2004.5 338.1,2009.3 338.3,2011.2 338.5,2004.5 338.7,2014.7 338.9,1984.5 339.1,2011.1 339.3,1995.8 339.5,2014.1 339.7,2003.2 339.9,1997.2 340.1,2008.8 340.3,1997.1 340.5,1997.1 340.7,1991.1 340.9,2005.3 341.1,2010.1 341.3,2015.0 341.5,2004.4 341.7,2015.3 341.9,2006.0 342.1,2005.1 342.3,2011.2 342.5,2015.8 342.7,2003.1 342.9,2004.1 343.1,2005.0 343.3,2007.4 343.5,1998.6 343.7,2016.3 343.9,2003.5 344.1,2011.5 344.3,2000.0 344.5,2011.0 344.7,2011.5 344.9,2004.4 345.1,2026.9 345.3,2012.1 345.5,2025.1 345.7,2017.9 345.9,2003.4 346.1,2006.3 346.3,2014.0 346.5,2010.9 346.7,2011.0 346.9,2008.3 347.1,1994.7 347.3,2009.4 347.5,1991.6 347.7,2015.5 347.9,2005.8 348.1,2006.2 348.3,2011.0 348.5,2015.8 348.7,2000.6 348.9,1998.0 349.1,2004.5 349.3,1996.0 349.5,2006.0 349.7,2029.6 349.9,2005.8 350.1,2021.6 350.3,2003.5 350.5,2019.0 350.7,2013.6 350.9,2016.3 351.1,2022.2 351.3,2033.3 351.5,2019.4 351.7,2019.0 351.9,2009.2 352.1,2023.6 352.3,2016.3 352.5,2026.3 352.7,2018.6 352.9,2034.9 353.1,2001.4 353.3,2016.9 353.5,2027.7 353.7,2016.8 353.9,2013.0 354.1,2017.9 354.3,2008.0 354.5,2021.7 354.7,2042.9 354.9,2031.3 355.1,2011.0 355.3,2013.3 355.5,2017.7 355.7,2030.5 355.9,2014.2 356.1,2015.5 356.3,2029.8 356.5,2029.7 356.7,2018.7 356.9,2012.0 357.1,2008.2 357.3,2016.0 357.5,2002.3 357.7,2029.2 357.9,2016.9 358.1,2026.9 358.3,2039.5 358.5,2033.3 358.7,2012.4 358.9,2030.7 359.1,2033.3 359.3,2016.2 359.5,2014.4 359.7,2022.1 359.9,2008.7 360.1,2036.4 360.3,2001.5 360.5,2013.2 360.7,2020.8 360.9,2021.2 361.1,2024.8 361.3,2025.7 361.5,2021.4 361.7,2033.5 361.9,2004.1 362.1,2023.4 362.3,2017.0 362.5,2024.6 362.7,2025.4 362.9,2015.2 363.1,2017.7 363.3,2030.5 363.5,2026.5 363.7,2017.3 363.9,2041.7 364.1,2044.1 364.3,2010.3 364.5,2026.1 364.7,2045.9 364.9,2030.4 365.1,2025.4 365.3,2021.5 365.5,2018.6 365.7,2021.5 365.9,2018.5 366.1,2030.1 366.3,2019.8 366.5,2019.4 366.7,2012.6 366.9,2022.9 367.1,2015.4 367.3,2021.7 367.5,2032.7 367.7,2026.6 367.9,2027.9 368.1,2026.5 368.3,2023.9 368.5,2022.2 368.7,2020.6 368.9,2030.2 369.1,2013.7 369.3,2035.4 369.5,2023.7 369.7,2016.8 369.9,2019.1 370.1,2017.5 370.3,2025.0 370.5,2017.2 370.7,2033.8 370.9,2016.7 371.1,2003.5 371.3,2017.3 371.5,2006.0 371.7,2023.6 371.9,2033.4 372.1,2029.8 372.3,2012.3 372.5,2017.5 372.7,2040.2 372.9,2027.3 373.1,2024.6 373.3,2034.1 373.5,2046.6 373.7,2036.5 373.9,2026.4 374.1,2028.4 374.3,2030.9 374.5,2020.2 374.7,2016.4 374.9,2026.5 375.1,2017.8 375.3,2025.9 375.5,2027.5 375.7,2047.6 375.9,2019.5 376.1,2026.2 376.3,2026.1 376.5,2031.7 376.7,2037.3 376.9,2024.0 377.1,2021.3 377.3,2014.3 377.5,2020.9 377.7,2034.1 377.9,2030.1 378.1,2021.0 378.3,2026.9 378.5,2030.8 378.7,2035.2 378.9,2025.8 379.1,2029.1 379.3,2015.5 379.5,2021.6 379.7,2046.3 379.9,2012.9 380.1,2029.5 380.3,2034.7 380.5,2029.7 380.7,2026.0 380.9,2032.8 381.1,2033.5 381.3,2033.0 381.5,2017.4 381.7,2032.8 381.9,2026.7 382.1,2029.6 382.3,2036.5 382.5,2040.3 382.7,2042.6 382.9,2030.4 383.1,2043.0 383.3,2045.2 383.5,2044.9 383.7,2047.2 383.9,2033.7 384.1,2033.4 384.3,2042.2 384.5,2022.9 384.7,2036.7 384.9,2030.2 385.1,2031.5 385.3,2019.4 385.5,2026.8 385.7,2034.4 385.9,2042.2 386.1,2043.0 386.3,2033.5 386.5,2032.5 386.7,2026.7 386.9,2037.5 387.1,2031.6 387.3,2039.0 387.5,2048.9 387.7,2033.2 387.9,2020.2 388.1,2025.7 388.3,2020.3 388.5,2022.5 388.7,2044.3 388.9,2034.7 389.1,2019.3 389.3,2038.3 389.5,2043.5 389.7,2029.2 389.9,2026.4 390.1,2029.3 390.3,2034.6 390.5,2037.7 390.7,2042.4 390.9,2042.6 391.1,2042.3 391.3,2043.8 391.5,2037.7 391.7,2018.5 391.9,2030.8 392.1,2034.7 392.3,2028.6 392.5,2039.9 392.7,2028.8 392.9,2023.9 393.1,2044.7 393.3,2037.9 393.5,2034.1 393.7,2040.3 393.9,2041.5 394.1,2035.3 394.3,2011.0 394.5,2026.6 394.7,2028.6 394.9,2024.1 395.1,2034.4 395.3,2043.2 395.5,2028.6 395.7,2023.1 395.9,2050.7 396.1,2029.2 396.3,2022.4 396.5,2035.3 396.7,2037.0 396.9,2027.3 397.1,2040.3 397.3,2029.3 397.5,2025.6 397.7,2035.2 397.9,2040.4 398.1,2028.3 398.3,2036.7 398.5,2033.0 398.7,2058.4 398.9,2027.8 399.1,2046.0 399.3,2033.5 399.5,2032.9 399.7,2040.3 399.9,2041.8 400.1,2045.1 400.3,2036.9 400.5,2028.9 400.7,2029.4 400.9,2038.5 401.1,2039.1 401.3,2046.2 401.5,2037.7 401.7,2043.2 401.9,2047.2 402.1,2035.5 402.3,2021.2 402.5,2023.8 402.7,2021.6 402.9,2047.7 403.1,2026.6 403.3,2044.6 403.5,2039.0 403.7,2048.7 403.9,2042.5 404.1,2033.0 404.3,2032.1 404.5,2034.5 404.7,2035.3 404.9,2029.2 405.1,2033.5 405.3,2047.6 405.5,2019.1 405.7,2036.0 405.9,2025.9 406.1,2035.3 406.3,2040.9 406.5,2033.2 406.7,2040.4 406.9,2020.0 407.1,2043.3 407.3,2028.5 407.5,2039.1 407.7,2035.3 407.9,2011.5 408.1,2027.3 408.3,2035.7 408.5,2047.2 408.7,2036.3 408.9,2036.1 409.1,2021.8 409.3,2046.2 409.5,2049.5 409.7,2034.3 409.9,2032.2 410.1,2020.2 410.3,2041.7 410.5,2057.3 410.7,2040.3 410.9,2045.0 411.1,2038.9 411.3,2025.8 411.5,2045.7 411.7,2023.7 411.9,2032.5 412.1,2036.7 412.3,2041.9 412.5,2037.9 412.7,2037.7 412.9,2027.9 413.1,2023.4 413.3,2035.0 413.5,2028.4 413.7,2023.2 413.9,2023.6 414.1,2030.2 414.3,2018.6 414.5,2022.9 414.7,2020.4 414.9,2035.9 415.1,2037.8 415.3,2051.5 415.5,2021.5 415.7,2028.5 415.9,2042.0 416.1,2032.4 416.3,2031.4 416.5,2048.7 416.7,2031.2 416.9,2024.2 417.1,2022.8 417.3,2036.8 417.5,2036.5 417.7,2022.2 417.9,2025.4 418.1,2038.3 418.3,2038.7 418.5,2028.2 418.7,2039.0 418.9,2038.5 419.1,2018.4 419.3,2030.9 419.5,2037.0 419.7,2028.6 419.9,2015.3 420.1,2031.0 420.3,2039.8 420.5,2046.8 420.7,2014.7 420.9,2055.5 421.1,2023.7 421.3,2041.4 421.5,2043.8 421.7,2041.6 421.9,2034.6 422.1,2023.4 422.3,2038.6 422.5,2027.3 422.7,2011.9 422.9,2057.4 423.1,2039.4 423.3,2048.9 423.5,2025.7 423.7,2046.0 423.9,2047.0 424.1,2046.8 424.3,2033.4 424.5,2023.5 424.7,2032.2 424.9,2015.1 425.1,2019.4 425.3,2034.7 425.5,2025.5 425.7,2032.6 425.9,2033.1 426.1,2050.5 426.3,2045.2 426.5,2033.8 426.7,2044.6 426.9,2027.7 427.1,2031.5 427.3,2042.2 427.5,2024.0 427.7,2032.2 427.9,2023.4 428.1,2035.7 428.3,2048.6 428.5,2028.4 428.7,2036.8 428.9,2027.3 429.1,2025.2 429.3,2024.5 429.5,2047.4 429.7,2055.2 429.9,2039.3 430.1,2029.1 430.3,2041.2 430.5,2032.4 430.7,2042.1 430.9,2037.8 431.1,2037.7 431.3,2040.5 431.5,2030.5 431.7,2032.0 431.9,2020.8 432.1,2031.7 432.3,2023.4 432.5,2034.2 432.7,2027.3 432.9,2036.3 433.1,2039.3 433.3,2023.3 433.5,2028.5 433.7,2027.4 433.9,2041.7 434.1,2049.8 434.3,2042.5 434.5,2032.3 434.7,2047.6 434.9,2022.3 435.1,2047.8 435.3,2029.5 435.5,2011.4 435.7,2057.4 435.9,2048.3 436.1,2026.1 436.3,2036.2 436.5,2032.9 436.7,2035.5 436.9,2021.9 437.1,2028.7 437.3,2038.3 437.5,2036.1 437.7,2044.3 437.9,2034.7 438.1,2053.9 438.3,2027.8 438.5,2035.9 438.7,2017.3 438.9,2022.8 439.1,2044.6 439.3,2025.2 439.5,2037.6 439.7,2032.4 439.9,2023.9 440.1,2029.7 440.3,2028.1 440.5,2028.2 440.7,2038.6 440.9,2037.6 441.1,2027.0 441.3,2024.0 441.5,2034.0 441.7,2030.5 441.9,2039.9 442.1,2053.6 442.3,2038.0 442.5,2030.4 442.7,2029.1 442.9,2023.1 443.1,2022.5 443.3,2021.5 443.5,2026.5 443.7,2026.1 443.9,2035.8 444.1,2025.9 444.3,2027.5 444.5,2018.6 444.7,2042.7 444.9,2032.9 445.1,2043.6 445.3,2035.0 445.5,2040.7 445.7,2025.8 445.9,2033.8 446.1,2050.5 446.3,2017.1 446.5,2037.2 446.7,2041.5 446.9,2030.5 447.1,2033.3 447.3,2037.5 447.5,2020.8 447.7,2029.9 447.9,2018.7 448.1,2020.2 448.3,2020.6 448.5,2024.5 448.7,2026.9 448.9,2029.4 449.1,2013.1 449.3,2042.4 449.5,2035.2 449.7,2031.4 449.9,2021.9 450.1,2024.1 450.3,2029.5 450.5,2028.3 450.7,2010.1 450.9,2031.0 451.1,2049.8 451.3,2008.4 451.5,2033.1 451.7,2027.6 451.9,2023.4 452.1,2036.3 452.3,2014.2 452.5,2025.9 452.7,2037.2 452.9,2022.9 453.1,2021.0 453.3,2025.7 453.5,2021.0 453.7,2038.4 453.9,2017.2 454.1,2032.8 454.3,2014.5 454.5,2031.4 454.7,2024.8 454.9,2003.5 455.1,2026.1 455.3,2017.1 455.5,2022.7 455.7,2040.2 455.9,2017.3 456.1,2018.1 456.3,2040.1 456.5,2028.8 456.7,2041.5 456.9,2031.2 457.1,2020.9 457.3,2028.3 457.5,2039.9 457.7,2037.6 457.9,2029.8 458.1,2030.5 458.3,2029.3 458.5,2025.6 458.7,2047.7 458.9,2031.2 459.1,2021.6 459.3,2027.5 459.5,2038.3 459.7,2037.8 459.9,2031.3 460.1,2026.9 460.3,2033.1 460.5,2018.6 460.7,2022.1 460.9,2040.5 461.1,2029.6 461.3,2037.2 461.5,2044.8 461.7,2040.0 461.9,2034.7 462.1,2053.1 462.3,2040.5 462.5,2031.8 462.7,2041.3 462.9,2038.5 463.1,2027.6 463.3,2035.7 463.5,2033.7 463.7,2018.1 463.9,2033.7 464.1,2032.7 464.3,2031.3 464.5,2020.8 464.7,2032.0 464.9,2034.6 465.1,2035.8 465.3,2025.0 465.5,2040.2 465.7,2024.1 465.9,2032.6 466.1,2045.7 466.3,2028.2 466.5,2029.7 466.7,2043.3 466.9,2030.5 467.1,2031.1 467.3,2035.5 467.5,2042.6 467.7,2014.2 467.9,2026.0 468.1,2024.3 468.3,2023.5 468.5,2025.4 468.7,2025.4 468.9,2035.1 469.1,2024.7 469.3,2033.3 469.5,2035.7 469.7,2025.8 469.9,2033.1 470.1,2046.1 470.3,2034.6 470.5,2026.2 470.7,2031.1 470.9,2023.7 471.1,2033.9 471.3,2038.9 471.5,2024.4 471.7,2029.6 471.9,2041.0 472.1,2027.1 472.3,2033.0 472.5,2022.5 472.7,2024.2 472.9,2026.9 473.1,2049.7 473.3,2027.9 473.5,2026.9 473.7,2026.6 473.9,2030.0 474.1,2036.9 474.3,2033.0 474.5,2048.8 474.7,2033.3 474.9,2043.7 475.1,2033.9 475.3,2036.7 475.5,2019.5 475.7,2030.6 475.9,2031.2 476.1,2029.8 476.3,2013.7 476.5,2039.4 476.7,2028.7 476.9,2028.3 477.1,2029.9 477.3,2030.2 477.5,2035.7 477.7,2021.6 477.9,2024.5 478.1,2034.9 478.3,2033.7 478.5,2029.4 478.7,2027.8 478.9,2025.6 479.1,2032.3 479.3,2042.8 479.5,2023.9 479.7,2045.8 479.9,2040.1 480.1,2029.3 480.3,2039.7 480.5,2020.8 480.7,2018.7 480.9,2022.5 481.1,2030.0 481.3,2030.7 481.5,2029.2 481.7,2034.4 481.9,2015.7 482.1,2037.9 482.3,2021.8 482.5,2028.3 482.7,2030.5 482.9,2024.3 483.1,2022.5 483.3,2025.7 483.5,2034.1 483.7,2039.3 483.9,2039.1 484.1,2026.0 484.3,2027.8 484.5,2026.8 484.7,2038.4 484.9,2017.5 485.1,2045.2 485.3,2030.8 485.5,2028.3 485.7,2037.9 485.9,2043.8 486.1,2038.0 486.3,2044.1 486.5,2036.4 486.7,2045.7 486.9,2045.9 487.1,2034.7 487.3,2047.7 487.5,2037.0 487.7,2036.5 487.9,2028.0 488.1,2033.4 488.3,2042.5 488.5,2024.9 488.7,2041.5 488.9,2039.1 489.1,2038.5 489.3,2017.6 489.5,2035.4 489.7,2041.8 489.9,2030.0 490.1,2037.2 490.3,2016.5 490.5,2042.2 490.7,2031.0 490.9,2044.0 491.1,2021.1 491.3,2042.5 491.5,2034.7 491.7,2043.5 491.9,2028.9 492.1,2031.5 492.3,2055.6 492.5,2029.8 492.7,2030.8 492.9,2034.4 493.1,2028.1 493.3,2046.7 493.5,2051.2 493.7,2030.7 493.9,2022.1 494.1,2046.5 494.3,2045.9 494.5,2043.4 494.7,2046.2 494.9,2029.1 495.1,2034.9 495.3,2024.6 495.5,2024.2 495.7,2044.3 495.9,2030.3 496.1,2055.1 496.3,2036.4 496.5,2030.3 496.7,2042.3 496.9,2050.7 497.1,2039.5 497.3,2025.0 497.5,2038.3 497.7,2046.6 497.9,2030.8 498.1,2028.3 498.3,2043.2 498.5,2035.7 498.7,2025.1 498.9,2031.1 499.1,2027.8 499.3,2036.5 499.5,2034.8 499.7,2043.4 499.9,2039.5 500.1,2020.2 500.3,2036.7 500.5,2040.7 500.7,2036.8 500.9,2041.5 501.1,2028.0 501.3,2024.5 501.5,2040.2 501.7,2023.2 501.9,2013.9 502.1,2040.5 502.3,2025.6 502.5,2029.0 502.7,2019.7 502.9,2020.1 503.1,2021.4 503.3,2028.0 503.5,2034.0 503.7,2011.4 503.9,2036.9 504.1,2020.5 504.3,2021.3 504.5,2035.9 504.7,2029.4 504.9,2017.0 505.1,2045.3 505.3,2022.5 505.5,2031.7 505.7,2031.2 505.9,2041.3 506.1,2025.5 506.3,2037.7 506.5,2022.9 506.7,2038.6 506.9,2022.6 507.1,2026.0 507.3,2044.9 507.5,2031.6 507.7,2029.8 507.9,2047.7 508.1,2031.9 508.3,2022.0 508.5,2035.1 508.7,2019.0 508.9,2038.4 509.1,2039.1 509.3,2024.2 509.5,2023.9 509.7,2030.7 509.9,2029.4 510.1,2021.2 510.3,2034.3 510.5,2012.5 510.7,2026.1 510.9,2026.5 511.1,2027.8 511.3,2032.8 511.5,2020.1 511.7,2035.5 511.9,2029.2 512.1,2025.5 512.3,2019.6 512.5,2021.4 512.7,2034.5 512.9,2023.6 513.1,2032.4 513.3,2041.0 513.5,2040.9 513.7,2045.6 513.9,2030.1 514.1,2023.7 514.3,2041.6 514.5,2035.8 514.7,2042.8 514.9,2033.6 515.1,2043.7 515.3,2040.9 515.5,2039.9 515.7,2038.3 515.9,2037.5 516.1,2036.2 516.3,2036.3 516.5,2042.7 516.7,2030.2 516.9,2049.1 517.1,2033.7 517.3,2042.9 517.5,2033.8 517.7,2032.5 517.9,2051.6 518.1,2031.9 518.3,2023.7 518.5,2028.3 518.7,2031.5 518.9,2052.2 519.1,2035.7 519.3,2041.6 519.5,2025.2 519.7,2036.4 519.9,2038.9 520.1,2048.2 520.3,2027.0 520.5,2037.7 520.7,2034.9 520.9,2023.6 521.1,2031.8 521.3,2029.5 521.5,2011.9 521.7,2036.2 521.9,2035.5 522.1,2027.0 522.3,2019.2 522.5,2042.6 522.7,2032.2 522.9,2038.2 523.1,2041.3 523.3,2024.8 523.5,2035.8 523.7,2026.7 523.9,2028.0 524.1,2027.5 524.3,2028.0 524.5,2037.2 524.7,2028.7 524.9,2026.2 525.1,2025.0 525.3,2030.0 525.5,2019.5 525.7,2022.6 525.9,2026.3 526.1,2021.9 526.3,2025.5 526.5,2021.3 526.7,2043.2 526.9,2037.5 527.1,2030.1 527.3,2025.8 527.5,2044.7 527.7,2029.0 527.9,2025.6 528.1,2028.9 528.3,2028.9 528.5,2038.2 528.7,2026.3 528.9,2044.1 529.1,2019.2 529.3,2032.5 529.5,2018.4 529.7,2042.1 529.9,2024.2 530.1,2026.6 530.3,2034.9 530.5,2037.8 530.7,2018.1 530.9,2024.7 531.1,2016.0 531.3,2029.0 531.5,2027.1 531.7,2025.2 531.9,2022.5 532.1,2025.2 532.3,2022.3 532.5,2033.2 532.7,2041.6 532.9,2012.9 533.1,2028.2 533.3,2025.9 533.5,2033.6 533.7,2021.7 533.9,2028.6 534.1,2021.3 534.3,2036.0 534.5,2031.1 534.7,2029.1 534.9,2033.7 535.1,2028.7 535.3,2017.9 535.5,2036.0 535.7,2033.5 535.9,2030.0 536.1,2039.6 536.3,2041.7 536.5,2022.5 536.7,2025.2 536.9,2044.8 537.1,2043.9 537.3,2025.9 537.5,2022.3 537.7,2027.0 537.9,2028.2 538.1,2019.2 538.3,2032.8 538.5,2021.9 538.7,2022.6 538.9,2040.5 539.1,2027.1 539.3,2032.3 539.5,2038.2 539.7,2039.8 539.9,2030.2 540.1,2033.5 540.3,2026.2 540.5,2047.7 540.7,2038.6 540.9,2023.9 541.1,2033.2 541.3,2039.1 541.5,2037.1 541.7,2048.4 541.9,2044.5 542.1,2028.5 542.3,2032.2 542.5,2022.2 542.7,2035.0 542.9,2034.1 543.1,2055.3 543.3,2033.5 543.5,2015.1 543.7,2026.8 543.9,2033.3 544.1,2021.7 544.3,2024.9 544.5,2028.9 544.7,2034.7 544.9,2030.3 545.1,2024.1 545.3,2037.9 545.5,2026.6 545.7,2026.7 545.9,2019.1 546.1,2023.8 546.3,2035.4 546.5,2016.2 546.7,2028.7 546.9,2034.9 547.1,2025.4 547.3,2030.1 547.5,2018.4 547.7,2038.1 547.9,2035.9 548.1,2028.2 548.3,2011.2 548.5,2016.5 548.7,2032.7 548.9,2038.3 549.1,2025.9 549.3,2033.2 549.5,2017.2 549.7,2020.0 549.9,2020.8 550.1,2023.6 550.3,2006.8 550.5,2026.3 550.7,2028.7 550.9,2007.5 551.1,2004.9 551.3,2018.0 551.5,2008.8 551.7,1993.8 551.9,2018.7 552.1,2012.2 552.3,2005.8 552.5,2025.5 552.7,2007.9 552.9,1999.1 553.1,2004.2 553.3,1993.1 553.5,1993.1 553.7,1999.7 553.9,1989.5 554.1,1987.2 554.3,2000.0 554.5,1989.5 554.7,1984.1 554.9,1976.2 555.1,1968.9 555.3,1967.6 555.5,1946.8 555.7,1947.1 555.9,1912.9 556.1,1898.1 556.3,1867.5 556.5,1843.0 556.7,1810.1 556.9,1770.7 557.1,1721.4 557.3,1689.7 557.5,1675.9 557.7,1687.4 557.9,1718.4 558.1,1763.4 558.3,1797.1 558.5,1841.3 558.7,1870.5 558.9,1890.0 559.1,1906.1 559.3,1918.1 559.5,1952.3 559.7,1938.9 559.9,1967.7 560.1,1967.0 560.3,1964.9 560.5,1963.2 560.7,1983.9 560.9,1992.6 561.1,1974.5 561.3,1982.0 561.5,1995.0 561.7,1991.3 561.9,2006.5 562.1,1987.5 562.3,1998.0 562.5,1984.9 562.7,2013.4 562.9,1991.7 563.1,1980.9 563.3,1999.0 563.5,2000.0 563.7,2017.8 563.9,2000.4 564.1,2004.0 564.3,2009.8 564.5,2018.7 564.7,2006.3 564.9,2015.9 565.1,2012.5 565.3,2006.8 565.5,2010.5 565.7,2010.5 565.9,2003.0 566.1,2019.4 566.3,1998.9 566.5,2018.1 566.7,2015.7 566.9,2006.9 567.1,2000.9 567.3,2003.4 567.5,2006.4 567.7,2005.5 567.9,1999.1 568.1,1998.8 568.3,1984.4 568.5,1981.5 568.7,1965.9 568.9,1965.1 569.1,1954.8 569.3,1948.8 569.5,1952.0 569.7,1957.4 569.9,1956.7 570.1,1975.5 570.3,1977.9 570.5,1998.3 570.7,2013.7 570.9,2001.1 571.1,2009.0 571.3,2010.2 571.5,2017.3 571.7,2021.8 571.9,2028.6 572.1,2013.2 572.3,2034.1 572.5,2016.1 572.7,2026.5 572.9,2034.3 573.1,2031.7 573.3,2019.3 573.5,2021.7 573.7,2024.2 573.9,2027.9 574.1,2038.0 574.3,2018.7 574.5,2033.2 574.7,2034.6 574.9,2034.4 575.1,2033.8 575.3,2042.5 575.5,2034.2 575.7,2037.3 575.9,2035.0 576.1,2045.1 576.3,2014.9 576.5,2041.0 576.7,2028.4 576.9,2028.2 577.1,2022.5 577.3,2015.1 577.5,2027.3 577.7,2024.7 577.9,2034.4 578.1,2018.1 578.3,2042.0 578.5,2032.3 578.7,2027.9 578.9,2024.0 579.1,2023.3 579.3,2020.4 579.5,2025.1 579.7,2029.5 579.9,2027.9 580.1,2017.5 580.3,2026.9 580.5,2021.6 580.7,2030.2 580.9,2044.2 581.1,2033.8 581.3,2025.9 581.5,2014.9 581.7,2016.5 581.9,2014.1 582.1,2034.0 582.3,2021.5 582.5,2028.2 582.7,2022.4 582.9,2028.2 583.1,2038.9 583.3,2021.5 583.5,2024.2 583.7,2020.2 583.9,2034.0 584.1,2018.1 584.3,2017.1 584.5,2014.8 584.7,2014.5 584.9,2030.0 585.1,2047.3 585.3,2017.6 585.5,2033.6 585.7,2027.7 585.9,2016.3 586.1,2023.0 586.3,2023.3 586.5,2019.4 586.7,2041.0 586.9,2009.0 587.1,2027.9 587.3,2027.4 587.5,2019.7 587.7,2025.7 587.9,2031.7 588.1,2025.5 588.3,2027.6 588.5,2029.8 588.7,2007.0 588.9,2036.0 589.1,2042.4 589.3,2031.5 589.5,2031.5 589.7,2011.2 589.9,2021.7 590.1,2015.7 590.3,2017.3 590.5,2029.9 590.7,2014.9 590.9,2020.2 591.1,2005.1 591.3,2019.3 591.5,2021.0 591.7,2014.1 591.9,2013.6 592.1,2034.8 592.3,2008.8 592.5,2009.7 592.7,2011.3 592.9,2027.5 593.1,2034.5 593.3,2019.4 593.5,2010.3 593.7,2012.2 593.9,2024.1 594.1,2007.2 594.3,2026.3 594.5,2025.5 594.7,2013.8 594.9,2018.0 595.1,2018.3 595.3,2024.3 595.5,2002.0 595.7,2019.5 595.9,2005.7 596.1,2001.5 596.3,2007.5 596.5,2003.8 596.7,1996.2 596.9,1989.9 597.1,1994.0 597.3,2012.3 597.5,2015.1 597.7,2002.9 597.9,2005.9 598.1,1990.5 598.3,1992.6 598.5,1994.0 598.7,1981.4 598.9,1980.7 599.1,1988.0 599.3,1983.0 599.5,1975.4 599.7,1985.4 599.9,1978.4 600.1,1986.7 600.3,1976.3 600.5,1971.4 600.7,1971.8 600.9,1965.8 601.1,1957.6 601.3,1954.3 601.5,1956.3 601.7,1947.0 601.9,1940.6 602.1,1905.8 602.3,1896.3 602.5,1871.6 602.7,1841.9 602.9,1795.6 603.1,1743.0 603.3,1692.2 603.5,1653.2 603.7,1650.6 603.9,1692.9 604.1,1747.3 604.3,1793.6 604.5,1843.5 604.7,1867.7 604.9,1831.7 605.1,1767.6 605.3,1718.4 605.5,1719.0 605.7,1765.3 605.9,1826.5 606.1,1872.7 606.3,1903.9 606.5,1921.5 606.7,1913.8 606.9,1950.9 607.1,1943.2 607.3,1963.8 607.5,1967.0 607.7,1955.7 607.9,1945.1 608.1,1939.9 608.3,1931.7 608.5,1917.9 608.7,1903.8 608.9,1883.3 609.1,1872.5 609.3,1832.2 609.5,1793.6 609.7,1732.5 609.9,1670.5 610.1,1614.1 610.3,1591.9 610.5,1615.9 610.7,1670.5 610.9,1730.1 611.1,1758.0 611.3,1686.7 611.5,1615.6 611.7,1615.5 611.9,1686.0 612.1,1766.0 612.3,1827.3 612.5,1865.8 612.7,1914.0 612.9,1921.3 613.1,1936.9 613.3,1941.9 613.5,1940.0 613.7,1946.4 613.9,1964.5 614.1,1968.1 614.3,1966.0 614.5,1961.0 614.7,1960.8 614.9,1971.5 615.1,1963.8 615.3,1984.1 615.5,1987.1 615.7,2001.5 615.9,1986.5 616.1,1975.3 616.3,1973.8 616.5,1953.7 616.7,1977.3 616.9,1981.3 617.1,1991.0 617.3,1988.7 617.5,1989.0 617.7,1986.5 617.9,1990.6 618.1,1997.2 618.3,1977.9 618.5,1983.1 618.7,1976.0 618.9,1998.9 619.1,1996.1 619.3,1991.6 619.5,1976.7 619.7,1986.3 619.9,1982.7 620.1,1984.2 620.3,1981.3 620.5,1984.7 620.7,1977.1 620.9,1982.8 621.1,1976.5 621.3,1970.5 621.5,1967.8 621.7,1962.3 621.9,1962.0 622.1,1953.8 622.3,1951.2 622.5,1947.6 622.7,1945.8 622.9,1952.5 623.1,1952.0 623.3,1961.9 623.5,1966.1 623.7,1961.1 623.9,1967.7 624.1,1972.8 624.3,1973.4 624.5,1972.9 624.7,1987.2 624.9,1982.0 625.1,1987.6 625.3,1982.7 625.5,1988.9 625.7,1981.7 625.9,1987.7 626.1,1992.8 626.3,1989.1 626.5,1985.4 626.7,1980.2 626.9,1989.6 627.1,1990.6 627.3,1985.4 627.5,1980.9 627.7,1990.5 627.9,2004.8 628.1,1982.7 628.3,1986.8 628.5,1986.2 628.7,1963.4 628.9,1982.1 629.1,1974.7 629.3,1987.9 629.5,1974.6 629.7,1968.9 629.9,1970.0 630.1,1969.2 630.3,1961.1 630.5,1959.5 630.7,1947.7 630.9,1947.1 631.1,1943.9 631.3,1939.6 631.5,1927.9 631.7,1920.7 631.9,1918.9 632.1,1918.8 632.3,1924.0 632.5,1929.6 632.7,1934.1 632.9,1943.4 633.1,1950.6 633.3,1957.9 633.5,1963.2 633.7,1962.4 633.9,1958.1 634.1,1970.2 634.3,1963.9 634.5,1980.5 634.7,1982.2 634.9,1972.0 635.1,1990.6 635.3,1991.9 635.5,1985.6 635.7,1996.6 635.9,1997.4 636.1,1972.8 636.3,1988.8 636.5,1982.7 636.7,1980.9 636.9,1982.9 637.1,1967.6 637.3,1965.7 637.5,1960.6 637.7,1957.0 637.9,1957.0 638.1,1941.0 638.3,1936.6 638.5,1938.7 638.7,1922.5 638.9,1910.6 639.1,1877.9 639.3,1861.2 639.5,1832.8 639.7,1799.3 639.9,1755.4 640.1,1717.6 640.3,1682.1 640.5,1669.6 640.7,1682.8 640.9,1718.2 641.1,1757.5 641.3,1806.1 641.5,1840.7 641.7,1869.7 641.9,1893.5 642.1,1916.0 642.3,1934.8 642.5,1946.9 642.7,1952.9 642.9,1964.8 643.1,1966.0 643.3,1980.1 643.5,1975.2 643.7,1963.5 643.9,1993.3 644.1,1986.8 644.3,1979.4 644.5,1989.4 644.7,1986.0 644.9,2011.6 645.1,2000.6 645.3,1985.7 645.5,2004.1 645.7,1998.0 645.9,2017.9 646.1,1995.3 646.3,1986.8 646.5,2006.7 646.7,2004.5 646.9,2005.0 647.1,1992.1 647.3,2014.0 647.5,2025.1 647.7,1996.9 647.9,2023.0 648.1,2009.7 648.3,2034.4 648.5,2019.7 648.7,2015.4 648.9,2026.8 649.1,2022.9 649.3,2014.5 649.5,2025.9 649.7,2016.6 649.9,2006.7 650.1,2038.7 650.3,2019.7 650.5,2018.2 650.7,2026.4 650.9,2011.3 651.1,2013.4 651.3,2020.8 651.5,2021.0 651.7,2026.1 651.9,2035.0 652.1,2022.0 652.3,2030.1 652.5,2031.2 652.7,2017.4 652.9,2028.3 653.1,2018.8 653.3,2035.4 653.5,2030.5 653.7,2026.9 653.9,2015.8 654.1,2027.8 654.3,2020.6 654.5,2032.7 654.7,2025.9 654.9,2020.2 655.1,2034.5 655.3,2032.8 655.5,2021.9 655.7,2036.4 655.9,2024.3 656.1,2024.2 656.3,2027.7 656.5,2020.4 656.7,2022.9 656.9,2025.2 657.1,2039.1 657.3,2038.7 657.5,2024.2 657.7,2039.5 657.9,2025.9 658.1,2029.3 658.3,2033.4 658.5,2028.5 658.7,2045.9 658.9,2028.0 659.1,2016.1 659.3,2036.7 659.5,2022.5 659.7,2023.4 659.9,2001.3 660.1,2034.1 660.3,2032.6 660.5,2032.5 660.7,2034.0 660.9,2039.9 661.1,2025.6 661.3,2033.8 661.5,2020.0 661.7,2023.3 661.9,2035.0 662.1,2029.6 662.3,2015.5 662.5,2029.5 662.7,2025.2 662.9,2020.1 663.1,2030.5 663.3,2023.7 663.5,2014.3 663.7,2018.2 663.9,2041.9 664.1,2015.1 664.3,2029.5 664.5,2032.8 664.7,2033.2 664.9,2018.1 665.1,2025.6 665.3,2029.5 665.5,2035.1 665.7,2023.4 665.9,2019.2 666.1,2037.1 666.3,2038.0 666.5,2032.1 666.7,2024.2 666.9,2032.6 667.1,2030.3 667.3,2036.3 667.5,2019.4 667.7,2030.6 667.9,2028.4 668.1,2020.7 668.3,2031.5 668.5,2030.1 668.7,2026.4 668.9,2033.0 669.1,2018.2 669.3,2029.3 669.5,2033.1 669.7,2031.9 669.9,2038.2 670.1,2019.7 670.3,2017.1 670.5,2031.1 670.7,2032.7 670.9,2046.0 671.1,2033.8 671.3,2021.6 671.5,2035.0 671.7,2021.5 671.9,2016.3 672.1,2048.8 672.3,2030.4 672.5,2033.3 672.7,2031.8 672.9,2041.5 673.1,2029.2 673.3,2036.2 673.5,2018.4 673.7,2015.3 673.9,2036.9 674.1,2036.9 674.3,2029.1 674.5,2026.6 674.7,2025.7 674.9,2018.9 675.1,2034.8 675.3,2027.7 675.5,2025.9 675.7,2024.2 675.9,2027.8 676.1,2023.0 676.3,2023.1 676.5,2010.1 676.7,2018.0 676.9,2023.9 677.1,2008.4 677.3,2007.4 677.5,2007.6 677.7,2004.4 677.9,2001.4 678.1,1996.9 678.3,2001.2 678.5,1999.6 678.7,2002.7 678.9,2010.2 679.1,2009.7 679.3,2017.6 679.5,2032.9 679.7,2022.1 679.9,2023.6 680.1,2014.5 680.3,2017.1 680.5,2014.9 680.7,2019.3 680.9,2015.8 681.1,2019.4 681.3,2023.2 681.5,2017.7 681.7,2014.8 681.9,2015.5 682.1,2029.7 682.3,2026.9 682.5,2034.7 682.7,2035.1 682.9,2024.4 683.1,2032.5 683.3,2016.0 683.5,2045.6 683.7,2037.2 683.9,2026.1 684.1,2018.6 684.3,2031.0 684.5,2013.0 684.7,2021.8 684.9,2034.1 685.1,2028.7 685.3,2024.1 685.5,2035.7 685.7,2019.6 685.9,2030.3 686.1,2023.9 686.3,2021.0 686.5,2031.6 686.7,2019.7 686.9,2043.1 687.1,2022.8 687.3,2043.7 687.5,2018.5 687.7,2032.2 687.9,2017.4 688.1,2016.2 688.3,2028.3 688.5,2032.4 688.7,2016.4 688.9,2036.3 689.1,2020.0 689.3,2027.5 689.5,2029.4 689.7,2031.0 689.9,2011.4 690.1,2039.1 690.3,2030.4 690.5,2022.3 690.7,2017.3 690.9,2011.8 691.1,2014.4 691.3,2030.0 691.5,2022.7 691.7,2016.2 691.9,2021.2 692.1,2038.3 692.3,2022.8 692.5,2020.8 692.7,2036.7 692.9,2029.5 693.1,2026.2 693.3,2021.0 693.5,2013.3 693.7,2016.6 693.9,2022.4 694.1,2024.7 694.3,2029.5 694.5,2031.3 694.7,2028.8 694.9,2028.9 695.1,2019.1 695.3,2009.9 695.5,2023.4 695.7,2020.1 695.9,2022.8 696.1,2026.1 696.3,2018.4 696.5,2019.7 696.7,2028.1 696.9,2030.1 697.1,2024.0 697.3,2033.7 697.5,2028.0 697.7,2021.7 697.9,2030.6 698.1,2045.9 698.3,2025.1 698.5,2040.4 698.7,2042.3 698.9,2043.5 699.1,2024.7 699.3,2048.1 699.5,2032.7 699.7,2029.8 699.9,2030.2 700.1,2037.1 700.3,2032.7 700.5,2031.0 700.7,2043.0 700.9,2026.7 701.1,2024.1 701.3,2039.2 701.5,2038.5 701.7,2041.8 701.9,2024.1 702.1,2041.7 702.3,2036.8 702.5,2047.2 702.7,2022.6 702.9,2034.5 703.1,2030.4 703.3,2019.7 703.5,2026.7 703.7,2041.6 703.9,2028.5 704.1,2026.3 704.3,2039.2 704.5,2040.0 704.7,2039.8 704.9,2025.2 705.1,2031.0 705.3,2039.6 705.5,2025.7 705.7,2024.8 705.9,2037.4 706.1,2043.1 706.3,2020.9 706.5,2008.9 706.7,2018.0 706.9,2021.3 707.1,2028.1 707.3,2034.0 707.5,2027.5 707.7,2022.8 707.9,2029.4 708.1,2020.1 708.3,2027.2 708.5,2022.2 708.7,2048.5 708.9,2033.2 709.1,2019.7 709.3,2018.1 709.5,2022.2 709.7,2012.3 709.9,2019.2 710.1,2018.7 710.3,2031.0 710.5,2020.3 710.7,2017.0 710.9,2012.2 711.1,2012.9 711.3,2020.8 711.5,2018.9 711.7,2028.1 711.9,2014.0 712.1,2025.0 712.3,2017.8 712.5,2014.2 712.7,1998.7 712.9,2001.3 713.1,2010.7 713.3,2009.9 713.5,1998.2 713.7,1994.2 713.9,1982.7 714.1,1976.1 714.3,1970.3 714.5,1970.9 714.7,1971.9 714.9,1975.9 715.1,1982.1 715.3,1992.3 715.5,1997.3 715.7,1995.9 715.9,2014.6 716.1,2008.9 716.3,2009.7 716.5,2021.6 716.7,2020.1 716.9,2013.4 717.1,2018.9 717.3,2007.7 717.5,2011.5 717.7,1999.6 717.9,2026.6 718.1,2002.9 718.3,2023.2 718.5,2011.7 718.7,2010.7 718.9,2017.0 719.1,2020.9 719.3,2023.8 719.5,2033.1 719.7,2022.0 719.9,2026.3 720.1,2014.7 720.3,2025.3 720.5,2020.9 720.7,2016.1 720.9,2019.2 721.1,2019.6 721.3,2021.8 721.5,2023.6 721.7,2016.4 721.9,2014.7 722.1,2026.9 722.3,2007.4 722.5,2016.3 722.7,2034.1 722.9,1999.8 723.1,2016.3 723.3,2027.8 723.5,2009.1 723.7,2043.9 723.9,2002.0 724.1,2035.0 724.3,2036.3 724.5,2031.5 724.7,2022.6 724.9,2027.6 725.1,2017.8 725.3,2032.1 725.5,2016.8 725.7,2024.0 725.9,2034.8 726.1,2018.0 726.3,2024.6 726.5,2029.3 726.7,2017.5 726.9,2038.3 727.1,2032.0 727.3,2017.4 727.5,2029.8 727.7,2024.3 727.9,2025.7 728.1,2032.1 728.3,2026.1 728.5,2040.2 728.7,2027.0 728.9,2041.2 729.1,2033.2 729.3,2041.0 729.5,2030.0 729.7,2030.6 729.9,2025.7 730.1,2040.2 730.3,2043.5 730.5,2053.5 730.7,2047.1 730.9,2038.9 731.1,2035.4 731.3,2040.6 731.5,2037.4 731.7,2049.9 731.9,2045.8 732.1,2031.5 732.3,2032.9 732.5,2049.8 732.7,2041.3 732.9,2037.1 733.1,2048.7 733.3,2036.0 733.5,2036.9 733.7,2035.5 733.9,2023.2 734.1,2046.3 734.3,2029.4 734.5,2034.6 734.7,2033.1 734.9,2045.1 735.1,2038.6 735.3,2039.2 735.5,2025.3 735.7,2038.2 735.9,2026.7 736.1,2041.2 736.3,2041.5 736.5,2038.3 736.7,2055.0 736.9,2042.5 737.1,2042.9 737.3,2039.0 737.5,2036.1 737.7,2045.4 737.9,2046.4 738.1,2026.6 738.3,2045.7 738.5,2041.1 738.7,2044.6 738.9,2040.4 739.1,2026.3 739.3,2026.7 739.5,2051.0 739.7,2038.1 739.9,2024.3 740.1,2038.6 740.3,2032.7 740.5,2020.5 740.7,2016.7 740.9,2022.2 741.1,2037.4 741.3,2034.7 741.5,2032.9 741.7,2037.2 741.9,2039.6 742.1,2017.5 742.3,2032.1 742.5,2027.6 742.7,2024.1 742.9,2029.5 743.1,2032.7 743.3,2031.2 743.5,2021.3 743.7,2028.8 743.9,2048.8 744.1,2023.4 744.3,2017.9 744.5,2033.4 744.7,2035.6 744.9,2034.0 745.1,2020.7 745.3,2037.4 745.5,2022.4 745.7,2019.1 745.9,2022.8 746.1,2026.3 746.3,2032.4 746.5,2031.2 746.7,2025.4 746.9,2032.5 747.1,2025.1 747.3,2031.1 747.5,2011.9 747.7,2010.0 747.9,2028.4 748.1,2010.4 748.3,2018.6 748.5,2019.7 748.7,2016.0 748.9,2015.7 749.1,2030.1 749.3,1998.0 749.5,2025.0 749.7,2035.8 749.9,2017.0 750.1,2016.2 750.3,2021.8 750.5,2030.1 750.7,2005.5 750.9,2015.3 751.1,2012.7 751.3,2018.3 751.5,2014.7 751.7,2018.3 751.9,2009.4 752.1,2012.7 752.3,2006.7 752.5,2006.3 752.7,2009.9 752.9,2009.3 753.1,2000.6 753.3,2021.2 753.5,2007.0 753.7,1996.4 753.9,2014.3 754.1,1998.8 754.3,2006.7 754.5,2000.8 754.7,2000.6 754.9,1997.3 755.1,1988.7 755.3,1989.2 755.5,1998.1 755.7,1963.5 755.9,1971.6 756.1,1964.9 756.3,1945.2 756.5,1930.4 756.7,1930.8 756.9,1899.9 757.1,1886.5 757.3,1860.7 757.5,1844.0 757.7,1838.9 757.9,1845.3 758.1,1862.7 758.3,1882.1 758.5,1902.9 758.7,1922.8 758.9,1945.9 759.1,1957.4 759.3,1958.0 759.5,1969.2 759.7,1982.8 759.9,1982.4 760.1,1989.0 760.3,1988.9 760.5,1997.3 760.7,2005.2 760.9,2011.9 761.1,2006.7 761.3,2024.2 761.5,2009.4 761.7,2035.9 761.9,2020.3 762.1,2017.4 762.3,2010.6 762.5,1993.2 762.7,2014.9 762.9,2018.1 763.1,2032.5 763.3,2006.9 763.5,2033.4 763.7,2016.8 763.9,2024.9 764.1,1999.3 764.3,2020.9 764.5,2017.3 764.7,2025.8 764.9,2021.3 765.1,2011.6 765.3,2028.5 765.5,2026.7 765.7,2026.1 765.9,2029.5 766.1,2030.4 766.3,2021.4 766.5,2010.8 766.7,2010.6 766.9,2032.7 767.1,2027.6 767.3,2022.8 767.5,2018.5 767.7,2022.3 767.9,2022.2 768.1,2019.3 768.3,2016.4 768.5,2039.6 768.7,2023.9 768.9,2017.2 769.1,2011.5 769.3,2016.2 769.5,2027.9 769.7,2028.2 769.9,2020.3 770.1,2022.4 770.3,2019.5 770.5,2013.0 770.7,2032.5 770.9,2025.0 771.1,2042.0 771.3,2015.8 771.5,2020.8 771.7,2029.1 771.9,2020.0 772.1,2010.7 772.3,2014.3 772.5,2022.8 772.7,2024.8 772.9,2021.3 773.1,2030.2 773.3,2030.1 773.5,2024.7 773.7,2022.4 773.9,2020.1 774.1,2026.7 774.3,2029.7 774.5,2022.8 774.7,2026.0 774.9,2019.8 775.1,2011.0 775.3,2014.4 775.5,2028.7 775.7,2026.2 775.9,2035.5 776.1,2023.1 776.3,2029.7 776.5,2033.4 776.7,2030.8 776.9,2017.8 777.1,2021.3 777.3,2023.8 777.5,2014.8 777.7,2026.6 777.9,2031.1 778.1,2018.9 778.3,2038.8 778.5,2020.4 778.7,2021.1 778.9,2020.8 779.1,2016.9 779.3,2026.0 779.5,2022.7 779.7,2036.0 779.9,2027.4 780.1,2026.7 780.3,2020.4 780.5,2010.7 780.7,2021.3 780.9,2015.0 781.1,2029.5 781.3,2021.4 781.5,2035.0 781.7,2027.4 781.9,2028.0 782.1,2023.0 782.3,2022.6 782.5,2026.1 782.7,2028.1 782.9,2014.7 783.1,2024.3 783.3,2041.4 783.5,2019.3 783.7,2017.8 783.9,2014.1 784.1,2007.8 784.3,2029.0 784.5,2019.8 784.7,2021.6 784.9,2033.9 785.1,2039.2 785.3,2011.6 785.5,2027.3 785.7,2023.9 785.9,2022.1 786.1,2022.9 786.3,2019.0 786.5,2032.2 786.7,2024.6 786.9,2022.7 787.1,2030.3 787.3,2027.8 787.5,2024.7 787.7,2024.0 787.9,2036.0 788.1,2026.4 788.3,2022.1 788.5,2016.4 788.7,2021.0 788.9,2015.9 789.1,2025.8 789.3,2027.5 789.5,2009.4 789.7,2026.7 789.9,2032.3 790.1,2029.0 790.3,2020.5 790.5,2038.9 790.7,2023.6 790.9,2019.8 791.1,2021.5 791.3,2030.5 791.5,2039.0 791.7,2040.8 791.9,2033.5 792.1,2022.5 792.3,2027.1 792.5,2025.4 792.7,2031.4 792.9,2018.8 793.1,2034.0 793.3,2038.4 793.5,2032.2 793.7,2037.2 793.9,2026.0 794.1,2022.0 794.3,2028.7 794.5,2043.2 794.7,2042.2 794.9,2030.4 795.1,2043.8 795.3,2031.7 795.5,2046.4 795.7,2038.3 795.9,2030.9 796.1,2040.9 796.3,2028.5 796.5,2027.2 796.7,2023.2 796.9,2036.9 797.1,2034.4 797.3,2034.3 797.5,2031.7 797.7,2046.3 797.9,2031.6 798.1,2029.3 798.3,2044.8 798.5,2046.2 798.7,2037.7 798.9,2021.3 799.1,2030.3 799.3,2039.8 799.5,2035.1 799.7,2047.1 799.9,2024.2 800.1,2040.1 800.3,2029.9 800.5,2045.0 800.7,2034.1 800.9,2042.5 801.1,2029.5 801.3,2023.6 801.5,2025.8 801.7,2029.5 801.9,2026.3 802.1,2042.7 802.3,2043.4 802.5,2035.3 802.7,2025.5 802.9,2031.8 803.1,2027.5 803.3,2042.0 803.5,2033.5 803.7,2034.1 803.9,2027.5 804.1,2016.6 804.3,2023.7 804.5,2020.8 804.7,2027.9 804.9,2024.9 805.1,2018.9 805.3,2019.0 805.5,2024.0 805.7,2013.1 805.9,2011.5 806.1,2011.4 806.3,2009.4 806.5,2009.5 806.7,2011.6 806.9,2015.6 807.1,2009.6 807.3,2016.3 807.5,2018.9 807.7,2020.7 807.9,2022.3 808.1,2023.3 808.3,2032.1 808.5,2025.3 808.7,2028.4 808.9,2030.1 809.1,2031.7 809.3,2030.6 809.5,2039.2 809.7,2032.8 809.9,2034.6 810.1,2033.4 810.3,2026.8 810.5,2028.3 810.7,2026.9 810.9,2036.2 811.1,2029.6 811.3,2027.1 811.5,2037.0 811.7,2039.3 811.9,2021.9 812.1,2048.4 812.3,2035.7 812.5,2034.6 812.7,2043.7 812.9,2036.0 813.1,2030.7 813.3,2052.5 813.5,2026.9 813.7,2034.5 813.9,2041.8 814.1,2026.7 814.3,2034.2 814.5,2038.0 814.7,2053.8 814.9,2027.7 815.1,2034.2 815.3,2039.7 815.5,2035.0 815.7,2024.7 815.9,2037.4 816.1,2034.9 816.3,2037.4 816.5,2042.8 816.7,2041.7 816.9,2036.8 817.1,2035.9 817.3,2024.5 817.5,2032.1 817.7,2034.8 817.9,2029.7 818.1,2033.6 818.3,2026.2 818.5,2044.9 818.7,2049.8 818.9,2029.4 819.1,2035.7 819.3,2030.6 819.5,2042.6 819.7,2036.0 819.9,2033.1 820.1,2030.7 820.3,2033.6 820.5,2024.6 820.7,2038.1 820.9,2027.0 821.1,2037.1 821.3,2033.9 821.5,2041.8 821.7,2033.0 821.9,2041.5 822.1,2026.0 822.3,2038.4 822.5,2031.8 822.7,2035.3 822.9,2034.5 823.1,2041.6 823.3,2018.1 823.5,2037.0 823.7,2022.6 823.9,2044.4 824.1,2019.1 824.3,2027.1 824.5,2021.9 824.7,2048.6 824.9,2025.3 825.1,2036.7 825.3,2031.7 825.5,2021.8 825.7,2033.6 825.9,2041.7 826.1,2035.1 826.3,2044.2 826.5,2034.0 826.7,2037.0 826.9,2034.1 827.1,2039.9 827.3,2052.3 827.5,2040.3 827.7,2039.0 827.9,2032.6 828.1,2031.6 828.3,2049.1 828.5,2028.9 828.7,2030.5 828.9,2036.8 829.1,2034.2 829.3,2052.7 829.5,2019.2 829.7,2040.2 829.9,2042.7 830.1,2028.6 830.3,2032.0 830.5,2040.0 830.7,2048.6 830.9,2029.2 831.1,2024.0 831.3,2042.2 831.5,2045.4 831.7,2031.3 831.9,2017.4 832.1,2041.5 832.3,2028.9 832.5,2035.6 832.7,2026.1 832.9,2021.5 833.1,2018.0 833.3,2023.7 833.5,2018.0 833.7,1998.8 833.9,1998.2 834.1,1999.8 834.3,1991.4 834.5,1988.5 834.7,1992.3 834.9,1996.1 835.1,2001.5 835.3,2005.9 835.5,2011.9 835.7,2016.0 835.9,2024.2 836.1,2021.2 836.3,2027.1 836.5,2030.3 836.7,2041.9 836.9,2037.5 837.1,2035.6 837.3,2041.4 837.5,2041.5 837.7,2047.4 837.9,2044.0 838.1,2054.3 838.3,2051.6 838.5,2041.8 838.7,2039.4 838.9,2049.7 839.1,2047.3 839.3,2042.9 839.5,2032.6 839.7,2030.1 839.9,2047.2 840.1,2050.8 840.3,2051.2 840.5,2035.1 840.7,2053.5 840.9,2041.3 841.1,2048.7 841.3,2049.0 841.5,2039.3 841.7,2040.9 841.9,2029.0 842.1,2037.9 842.3,2030.6 842.5,2048.0 842.7,2044.7 842.9,2051.0 843.1,2046.0 843.3,2037.7 843.5,2044.8 843.7,2038.4 843.9,2045.6 844.1,2042.5 844.3,2031.4 844.5,2038.3 844.7,2037.8 844.9,2034.1 845.1,2042.5 845.3,2047.9 845.5,2030.7 845.7,2029.8 845.9,2014.1 846.1,2029.5 846.3,2026.0 846.5,2011.7 846.7,2029.4 846.9,2030.6 847.1,2019.4 847.3,2021.0 847.5,2015.5 847.7,2027.2 847.9,2009.2 848.1,2016.9 848.3,2032.2 848.5,2017.2 848.7,2018.9 848.9,2013.3 849.1,2005.0 849.3,2011.6 849.5,2013.1 849.7,2002.4 849.9,2009.6 850.1,2013.3 850.3,2010.2 850.5,1993.6 850.7,1995.2 850.9,1990.4 851.1,1999.9 851.3,1995.1 851.5,1992.4 851.7,1985.6 851.9,1983.3 852.1,1984.4 852.3,1983.8 852.5,1982.6 852.7,1985.6 852.9,1988.8 853.1,1990.0 853.3,1987.8 853.5,1985.0 853.7,1994.5 853.9,1998.2 854.1,1997.5 854.3,1997.7 854.5,1997.1 854.7,2006.6 854.9,2002.6 855.1,2004.4 855.3,1997.6 855.5,2000.4 855.7,2006.3 855.9,1998.3 856.1,1996.8 856.3,2003.7 856.5,2015.2 856.7,2008.0 856.9,2017.7 857.1,2006.0 857.3,2004.8 857.5,1996.8 857.7,2003.1 857.9,2018.6 858.1,2010.3 858.3,2013.6 858.5,2013.5 858.7,2008.1 858.9,2006.8 859.1,2009.4 859.3,2013.9 859.5,2012.4 859.7,2012.8 859.9,2010.3 860.1,2003.2 860.3,2007.4 860.5,2002.2 860.7,2017.7 860.9,1993.4 861.1,2008.4 861.3,2029.1 861.5,2007.8 861.7,2001.7 861.9,2010.8 862.1,2021.3 862.3,2010.0 862.5,2016.4 862.7,2012.5 862.9,2009.0 863.1,2037.1 863.3,2013.0 863.5,2008.4 863.7,2009.0 863.9,2016.1 864.1,2016.6 864.3,2019.7 864.5,2014.9 864.7,2002.6 864.9,2018.5 865.1,2012.0 865.3,2012.5 865.5,2003.2 865.7,2010.7 865.9,2009.7 866.1,2015.4 866.3,2004.4 866.5,2016.6 866.7,2017.5 866.9,2007.8 867.1,2012.0 867.3,2010.4 867.5,2024.7 867.7,1997.5 867.9,2015.2 868.1,2004.9 868.3,2015.0 868.5,2025.4 868.7,2013.9 868.9,2020.2 869.1,2012.6 869.3,2035.1 869.5,2027.2 869.7,2029.2 869.9,2009.8 870.1,2012.0 870.3,2029.7 870.5,2019.9 870.7,2019.7 870.9,2024.8 871.1,2012.4 871.3,2029.0 871.5,2023.4 871.7,2027.4 871.9,2018.6 872.1,2028.5 872.3,2019.2 872.5,2032.8 872.7,2034.7 872.9,2033.3 873.1,2030.6 873.3,2031.9 873.5,2005.6 873.7,2034.4 873.9,2025.9 874.1,2029.3 874.3,2026.7 874.5,2018.2 874.7,2025.4 874.9,2035.4 875.1,2041.9 875.3,2025.9 875.5,2024.1 875.7,2043.3 875.9,2025.0 876.1,2049.0 876.3,2033.2 876.5,2026.0 876.7,2041.3 876.9,2047.3 877.1,2022.5 877.3,2046.8 877.5,2032.3 877.7,2046.8 877.9,2032.1 878.1,2022.7 878.3,2039.6 878.5,2043.2 878.7,2052.8 878.9,2050.0 879.1,2041.9 879.3,2034.6 879.5,2032.5 879.7,2034.4 879.9,2030.2 880.1,2034.8 880.3,2016.6 880.5,2038.5 880.7,2036.9 880.9,2057.7 881.1,2043.2 881.3,2033.2 881.5,2041.5 881.7,2027.1 881.9,2032.0 882.1,2021.7 882.3,2048.1 882.5,2041.2 882.7,2026.9 882.9,2035.6 883.1,2043.6 883.3,2039.8 883.5,2038.7 883.7,2028.6 883.9,2030.2 884.1,2035.9 884.3,2042.3 884.5,2028.1 884.7,2025.5 884.9,2043.5 885.1,2026.7 885.3,2042.5 885.5,2035.6 885.7,2040.6 885.9,2047.3 886.1,2038.6 886.3,2039.1 886.5,2025.3 886.7,2026.9 886.9,2037.4 887.1,2044.3 887.3,2043.0 887.5,2050.2 887.7,2033.9 887.9,2032.8 888.1,2039.1 888.3,2031.0 888.5,2030.1 888.7,2022.0 888.9,2038.2 889.1,2021.5 889.3,2034.0 889.5,2018.4 889.7,2038.4 889.9,2021.2 890.1,2036.0 890.3,2016.4 890.5,2025.5 890.7,2038.3 890.9,2022.3 891.1,2029.2 891.3,2024.7 891.5,2010.0 891.7,2030.8 891.9,2031.8 892.1,2019.4 892.3,2032.8 892.5,2021.7 892.7,2020.0 892.9,2028.1 893.1,2022.6 893.3,2046.4 893.5,2015.5 893.7,2033.9 893.9,2035.9 894.1,2012.1 894.3,2014.1 894.5,2032.5 894.7,2024.1 894.9,2031.1 895.1,2037.1 895.3,2025.0 895.5,2019.4 895.7,2006.1 895.9,2029.6 896.1,2020.5 896.3,2030.4 896.5,2029.7 896.7,2016.7 896.9,2041.6 897.1,2036.4 897.3,2034.5 897.5,2018.2 897.7,2024.4 897.9,2023.2 898.1,2024.2 898.3,2018.4 898.5,2030.8 898.7,2029.1 898.9,2030.1 899.1,2023.1 899.3,2037.4 899.5,2028.4 899.7,2004.9 899.9,2021.6 900.1,2026.2 900.3,2034.3 900.5,2024.0 900.7,2024.3 900.9,2020.9 901.1,2031.4 901.3,2022.4 901.5,2021.1 901.7,2019.8 901.9,2030.1 902.1,2021.3 902.3,2012.1 902.5,2030.4 902.7,2019.7 902.9,2028.1 903.1,2028.1 903.3,2034.7 903.5,2033.4 903.7,2020.4 903.9,2023.6 904.1,2014.6 904.3,2038.3 904.5,2028.4 904.7,2036.0 904.9,2022.3 905.1,2008.4 905.3,2037.1 905.5,2025.6 905.7,2025.9 905.9,2025.3 906.1,2030.1 906.3,2029.2 906.5,2012.3 906.7,2033.8 906.9,2020.9 907.1,2021.5 907.3,2039.1 907.5,2032.8 907.7,2022.8 907.9,2010.8 908.1,2027.1 908.3,2030.2 908.5,2025.4 908.7,2016.2 908.9,2020.0 909.1,2016.5 909.3,2028.4 909.5,2033.4 909.7,2035.2 909.9,2021.3 910.1,2029.3 910.3,2032.0 910.5,2023.7 910.7,2026.8 910.9,2045.1 911.1,2030.0 911.3,2035.6 911.5,2025.3 911.7,2029.3 911.9,2015.5 912.1,2029.2 912.3,2039.1 912.5,2046.6 912.7,2039.6 912.9,2035.7 913.1,2030.9 913.3,2025.9 913.5,2029.6 913.7,2036.0 913.9,2025.0 914.1,2038.9 914.3,2023.8 914.5,2017.6 914.7,2024.0 914.9,2018.9 915.1,2021.5 915.3,2041.6 915.5,2031.2 915.7,2034.7 915.9,2042.3 916.1,2043.3 916.3,2029.4 916.5,2044.1 916.7,2036.8 916.9,2033.9 917.1,2037.5 917.3,2022.7 917.5,2028.0 917.7,2033.5 917.9,2039.3 918.1,2031.6 918.3,2033.7 918.5,2042.5 918.7,2046.2 918.9,2041.1 919.1,2045.2 919.3,2032.0 919.5,2032.8 919.7,2037.9 919.9,2033.0 920.1,2031.5 920.3,2048.8 920.5,2034.1 920.7,2028.1 920.9,2039.8 921.1,2050.7 921.3,2036.8 921.5,2046.1 921.7,2033.0 921.9,2032.7 922.1,2031.3 922.3,2035.8 922.5,2051.7 922.7,2028.1 922.9,2050.4 923.1,2029.5 923.3,2035.8 923.5,2044.5 923.7,2043.0 923.9,2040.3 924.1,2025.1 924.3,2041.2 924.5,2030.3 924.7,2058.9 924.9,2036.9 925.1,2040.2 925.3,2029.6 925.5,2034.9 925.7,2028.5 925.9,2046.5 926.1,2036.6 926.3,2043.1 926.5,2033.1 926.7,2034.4 926.9,2048.4 927.1,2030.4 927.3,2023.7 927.5,2040.9 927.7,2028.5 927.9,2033.7 928.1,2044.1 928.3,2030.2 928.5,2043.2 928.7,2030.6 928.9,2047.2 929.1,2045.5 929.3,2031.0 929.5,2032.6 929.7,2027.2 929.9,2034.7 930.1,2041.4 930.3,2020.6 930.5,2038.1 930.7,2020.0 930.9,2022.6 931.1,2014.5 931.3,2042.8 931.5,2025.9 931.7,2025.7 931.9,2017.0 932.1,2027.6 932.3,2002.0 932.5,2014.3 932.7,2025.8 932.9,2003.2 933.1,2000.4 933.3,1997.5 933.5,1979.6 933.7,1973.6 933.9,1964.5 934.1,1943.3 934.3,1923.4 934.5,1899.0 934.7,1880.5 934.9,1867.4 935.1,1869.6 935.3,1881.0 935.5,1898.6 935.7,1912.1 935.9,1944.4 936.1,1962.0 936.3,1966.6 936.5,1970.5 936.7,1983.8 936.9,2003.9 937.1,1995.9 937.3,2004.3 937.5,2012.5 937.7,2022.6 937.9,2016.1 938.1,2017.4 938.3,2015.7 938.5,2033.4 938.7,2030.4 938.9,2022.7 939.1,2013.7 939.3,2019.0 939.5,2030.2 939.7,2020.8 939.9,2033.8 940.1,2030.2 940.3,2030.0 940.5,2033.2 940.7,2032.4 940.9,2022.1 941.1,2026.5 941.3,2047.6 941.5,2020.1 941.7,2026.0 941.9,2038.2 942.1,2028.8 942.3,2023.8 942.5,2019.9 942.7,2034.7 942.9,2038.6 943.1,2041.7 943.3,2031.2 943.5,2039.1 943.7,2022.8 943.9,2032.3 944.1,2025.7 944.3,2032.5 944.5,2037.1 944.7,2039.7 944.9,2023.4 945.1,2041.3 945.3,2027.6 945.5,2023.3 945.7,2030.1 945.9,2019.9 946.1,2031.6 946.3,2033.9 946.5,2030.0 946.7,2035.9 946.9,2029.2 947.1,2031.8 947.3,2020.4 947.5,2032.2 947.7,2025.2 947.9,2028.4 948.1,2031.3 948.3,2033.6 948.5,2019.1 948.7,2019.8 948.9,2029.8 949.1,2036.0 949.3,2035.2 949.5,2039.5 949.7,2042.8 949.9,2036.5 950.1,2032.4 950.3,2024.5 950.5,2025.2 950.7,2029.1 950.9,2035.0 951.1,2034.7 951.3,2033.0 951.5,2031.8 951.7,2038.1 951.9,2034.8 952.1,2035.6 952.3,2035.8 952.5,2029.1 952.7,2025.3 952.9,2037.5 953.1,2037.0 953.3,2032.0 953.5,2030.5 953.7,2052.0 953.9,2028.0 954.1,2032.3 954.3,2036.3 954.5,2025.1 954.7,2035.3 954.9,2048.7 955.1,2041.9 955.3,2039.6 955.5,2039.4 955.7,2035.6 955.9,2042.5 956.1,2033.7 956.3,2031.7 956.5,2035.9 956.7,2042.4 956.9,2037.9 957.1,2040.7 957.3,2019.4 957.5,2045.0 957.7,2054.2 957.9,2046.3 958.1,2033.3 958.3,2029.1 958.5,2038.2 958.7,2028.2 958.9,2041.9 959.1,2032.1 959.3,2043.9 959.5,2047.2 959.7,2020.3 959.9,2038.9 960.1,2031.1 960.3,2025.5 960.5,2031.9 960.7,2035.2 960.9,2045.2 961.1,2025.0 961.3,2045.5 961.5,2053.3 961.7,2042.0 961.9,2041.7 962.1,2037.3 962.3,2028.2 962.5,2041.8 962.7,2040.7 962.9,2043.5 963.1,2058.2 963.3,2043.6 963.5,2041.3 963.7,2050.3 963.9,2027.3 964.1,2029.0 964.3,2035.1 964.5,2032.9 964.7,2043.7 964.9,2035.7 965.1,2052.1 965.3,2050.4 965.5,2044.5 965.7,2035.4 965.9,2043.4 966.1,2045.0 966.3,2030.1 966.5,2041.4 966.7,2044.3 966.9,2040.5 967.1,2051.3 967.3,2048.5 967.5,2032.4 967.7,2040.0 967.9,2032.4 968.1,2043.8 968.3,2032.3 968.5,2046.6 968.7,2042.5 968.9,2047.2 969.1,2038.4 969.3,2028.1 969.5,2053.8 969.7,2038.5 969.9,2050.9 970.1,2043.5 970.3,2045.6 970.5,2054.9 970.7,2043.2 970.9,2051.8 971.1,2029.0 971.3,2047.9 971.5,2039.2 971.7,2040.2 971.9,2041.5 972.1,2044.4 972.3,2055.0 972.5,2027.3 972.7,2042.5 972.9,2036.7 973.1,2051.8 973.3,2039.4 973.5,2046.6 973.7,2040.0 973.9,2048.6 974.1,2051.6 974.3,2040.5 974.5,2044.3 974.7,2032.8 974.9,2046.6 975.1,2051.2 975.3,2040.2 975.5,2053.6 975.7,2028.4 975.9,2030.3 976.1,2034.2 976.3,2041.4 976.5,2045.6 976.7,2044.9 976.9,2045.1 977.1,2051.5 977.3,2042.1 977.5,2035.9 977.7,2036.1 977.9,2062.7 978.1,2027.4 978.3,2044.6 978.5,2057.6 978.7,2049.9 978.9,2039.4 979.1,2046.0 979.3,2052.8 979.5,2055.4 979.7,2038.6 979.9,2051.7 980.1,2047.6 980.3,2054.2 980.5,2056.4 980.7,2042.5 980.9,2033.6 981.1,2048.1 981.3,2058.9 981.5,2050.1 981.7,2046.4 981.9,2063.4 982.1,2036.0 982.3,2051.2 982.5,2039.4 982.7,2044.1 982.9,2044.3 983.1,2055.4 983.3,2035.8 983.5,2038.9 983.7,2030.3 983.9,2046.6 984.1,2039.0 984.3,2045.8 984.5,2033.9 984.7,2039.4 984.9,2050.4 985.1,2040.6 985.3,2046.9 985.5,2046.0 985.7,2038.9 985.9,2029.3 986.1,2049.4 986.3,2042.9 986.5,2049.3 986.7,2025.6 986.9,2028.4 987.1,2024.6 987.3,2034.6 987.5,2049.8 987.7,2046.1 987.9,2041.4 988.1,2042.8 988.3,2047.9 988.5,2039.5 988.7,2045.2 988.9,2043.2 989.1,2024.9 989.3,2039.3 989.5,2053.2 989.7,2039.4 989.9,2041.6 990.1,2038.0 990.3,2039.1 990.5,2052.0 990.7,2041.1 990.9,2035.3 991.1,2018.9 991.3,2039.1 991.5,2028.2 991.7,2029.5 991.9,2050.3 992.1,2049.8 992.3,2029.2 992.5,2051.2 992.7,2048.2 992.9,2038.5 993.1,2050.6 993.3,2032.0 993.5,2035.4 993.7,2033.7 993.9,2036.3 994.1,2052.1 994.3,2034.7 994.5,2036.2 994.7,2037.8 994.9,2046.8 995.1,2042.6 995.3,2052.1 995.5,2039.7 995.7,2035.1 995.9,2041.3 996.1,2045.5 996.3,2037.8 996.5,2047.3 996.7,2059.4 996.9,2040.4 997.1,2045.3 997.3,2055.5 997.5,2039.7 997.7,2038.0 997.9,2036.0 998.1,2047.7 998.3,2048.5 998.5,2043.2 998.7,2044.6 998.9,2054.2 999.1,2050.9 999.3,2033.0 999.5,2043.8 999.7,2044.7 999.9,2049.4 1000.1,2041.9 1000.3,2038.5 1000.5,2039.9 1000.7,2029.5 1000.9,2043.2 1001.1,2038.7 1001.3,2047.0 1001.5,2035.2 1001.7,2039.8 1001.9,2035.4 1002.1,2034.7 1002.3,2048.5 1002.5,2039.4 1002.7,2046.5 1002.9,2034.2 1003.1,2043.7 1003.3,2029.7 1003.5,2039.2 1003.7,2039.0 1003.9,2047.5 1004.1,2044.4 1004.3,2041.6 1004.5,2049.5 1004.7,2044.5 1004.9,2047.2 1005.1,2049.0 1005.3,2042.5 1005.5,2040.7 1005.7,2045.6 1005.9,2039.8 1006.1,2046.0 1006.3,2051.6 1006.5,2049.6 1006.7,2040.0 1006.9,2032.9 1007.1,2042.4 1007.3,2041.8 1007.5,2051.3 1007.7,2039.7 1007.9,2040.9 1008.1,2048.1 1008.3,2038.6 1008.5,2040.9 1008.7,2055.0 1008.9,2053.1 1009.1,2046.3 1009.3,2043.2 1009.5,2033.5 1009.7,2044.7 1009.9,2040.5 1010.1,2041.3 1010.3,2035.3 1010.5,2038.4 1010.7,2036.5 1010.9,2039.4 1011.1,2046.5 1011.3,2037.7 1011.5,2022.2 1011.7,2025.8 1011.9,2020.0 1012.1,2023.7 1012.3,2030.6 1012.5,2026.8 1012.7,2017.3 1012.9,2018.8 1013.1,2008.3 1013.3,1999.6 1013.5,1993.7 1013.7,1988.9 1013.9,1988.6 1014.1,1970.4 1014.3,1968.3 1014.5,1961.4 1014.7,1956.3 1014.9,1958.6 1015.1,1963.3 1015.3,1972.9 1015.5,1984.3 1015.7,1990.5 1015.9,2002.6 1016.1,2010.4 1016.3,2011.3 1016.5,2015.6 1016.7,2016.8 1016.9,2022.2 1017.1,2014.9 1017.3,2026.9 1017.5,2027.1 1017.7,2021.0 1017.9,2043.4 1018.1,2022.0 1018.3,2023.5 1018.5,2032.4 1018.7,2016.7 1018.9,2025.6 1019.1,2020.5 1019.3,2025.0 1019.5,2031.5 1019.7,2035.2 1019.9,2041.3 1020.1,2039.3 1020.3,2042.4 1020.5,2038.0 1020.7,2030.1 1020.9,2042.4 1021.1,2030.3 1021.3,2029.4 1021.5,2046.0 1021.7,2040.4 1021.9,2036.1 1022.1,2040.4 1022.3,2041.4 1022.5,2024.2 1022.7,2034.1 1022.9,2025.8 1023.1,2036.0 1023.3,2029.9 1023.5,2045.8 1023.7,2039.4 1023.9,2029.2 1024.1,2035.4 1024.3,2026.3 1024.5,2036.1 1024.7,2040.2 1024.9,2038.1 1025.1,2021.1 1025.3,2033.7 1025.5,2040.4 1025.7,2039.0 1025.9,2045.8 1026.1,2026.8 1026.3,2041.1 1026.5,2032.1 1026.7,2038.9 1026.9,2040.7 1027.1,2043.1 1027.3,2033.3 1027.5,2039.5 1027.7,2029.1 1027.9,2027.4 1028.1,2042.9 1028.3,2038.4 1028.5,2026.3 1028.7,2032.5 1028.9,2039.5 1029.1,2051.7 1029.3,2047.9 1029.5,2046.2 1029.7,2026.1 1029.9,2039.6 1030.1,2044.3 1030.3,2043.8 1030.5,2044.2 1030.7,2039.3 1030.9,2055.1 1031.1,2053.1 1031.3,2040.9 1031.5,2034.2 1031.7,2058.2 1031.9,2037.9 1032.1,2051.8 1032.3,2057.5 1032.5,2035.3 1032.7,2045.2 1032.9,2040.3 1033.1,2047.2 1033.3,2045.8 1033.5,2058.7 1033.7,2048.2 1033.9,2043.7 1034.1,2052.7 1034.3,2041.8 1034.5,2041.2 1034.7,2061.7 1034.9,2037.8 1035.1,2040.5 1035.3,2044.7 1035.5,2036.2 1035.7,2028.0 1035.9,2052.9 1036.1,2038.5 1036.3,2040.4 1036.5,2041.8 1036.7,2037.0 1036.9,2036.3 1037.1,2046.0 1037.3,2063.6 1037.5,2050.6 1037.7,2050.6 1037.9,2032.9 1038.1,2044.5 1038.3,2035.4 1038.5,2050.8 1038.7,2042.9 1038.9,2044.9 1039.1,2043.9 1039.3,2039.9 1039.5,2032.5 1039.7,2048.9 1039.9,2033.4 1040.1,2035.0 1040.3,2041.8 1040.5,2038.5 1040.7,2046.0 1040.9,2051.7 1041.1,2045.5 1041.3,2044.9 1041.5,2043.4 1041.7,2049.7 1041.9,2028.3 1042.1,2045.4 1042.3,2034.9 1042.5,2032.3 1042.7,2041.8 1042.9,2038.4 1043.1,2045.7 1043.3,2049.5 1043.5,2022.3 1043.7,2039.7 1043.9,2055.3 1044.1,2046.4 1044.3,2050.6 1044.5,2039.7 1044.7,2027.3 1044.9,2029.4 1045.1,2043.5 1045.3,2045.1 1045.5,2031.5 1045.7,2034.8 1045.9,2038.7 1046.1,2022.6 1046.3,2033.2 1046.5,2048.4 1046.7,2052.5 1046.9,2034.2 1047.1,2049.1 1047.3,2030.3 1047.5,2027.8 1047.7,2016.4 1047.9,2041.2 1048.1,2030.5 1048.3,2051.5 1048.5,2035.6 1048.7,2034.2 1048.9,2018.4 1049.1,2044.2 1049.3,2029.4 1049.5,2030.9 1049.7,2014.7 1049.9,2039.2 1050.1,2039.6 1050.3,2027.0 1050.5,2032.5 1050.7,2034.8 1050.9,2039.3 1051.1,2032.6 1051.3,2045.3 1051.5,2030.0 1051.7,2027.3 1051.9,2028.5 1052.1,2012.4 1052.3,2026.1 1052.5,2040.5 1052.7,2034.8 1052.9,2026.5 1053.1,2035.8 1053.3,2017.5 1053.5,2031.2 1053.7,2037.8 1053.9,2039.3 1054.1,2028.0 1054.3,2041.4 1054.5,2049.1 1054.7,2031.3 1054.9,2040.7 1055.1,2022.9 1055.3,2019.9 1055.5,2040.2 1055.7,2036.0 1055.9,2037.4 1056.1,2031.5 1056.3,2033.9 1056.5,2042.7 1056.7,2050.0 1056.9,2035.1 1057.1,2024.0 1057.3,2047.0 1057.5,2041.9 1057.7,2042.7 1057.9,2038.9 1058.1,2055.7 1058.3,2038.3 1058.5,2041.8 1058.7,2023.4 1058.9,2033.4 1059.1,2032.7 1059.3,2037.9 1059.5,2040.9 1059.7,2032.4 1059.9,2051.7 1060.1,2030.0 1060.3,2034.8 1060.5,2040.2 1060.7,2028.6 1060.9,2042.8 1061.1,2043.3 1061.3,2036.1 1061.5,2053.2 1061.7,2039.0 1061.9,2040.5 1062.1,2030.8 1062.3,2025.3 1062.5,2033.4 1062.7,2035.7 1062.9,2034.7 1063.1,2044.1 1063.3,2019.7 1063.5,2029.4 1063.7,2024.0 1063.9,2048.4 1064.1,2033.7 1064.3,2034.0 1064.5,2029.5 1064.7,2044.9 1064.9,2034.7 1065.1,2039.6 1065.3,2022.2 1065.5,2046.8 1065.7,2040.8 1065.9,2042.0 1066.1,2047.2 1066.3,2036.3 1066.5,2036.4 1066.7,2043.2 1066.9,2040.9 1067.1,2035.8 1067.3,2037.9 1067.5,2033.7 1067.7,2042.9 1067.9,2044.5 1068.1,2037.4 1068.3,2051.4 1068.5,2025.7 1068.7,2035.4 1068.9,2049.7 1069.1,2033.7 1069.3,2024.9 1069.5,2046.6 1069.7,2040.2 1069.9,2027.3 1070.1,2041.1 1070.3,2027.9 1070.5,2025.3 1070.7,2033.2 1070.9,2030.4 1071.1,2025.6 1071.3,2029.9 1071.5,2024.9 1071.7,2030.8 1071.9,2029.0 1072.1,2032.2 1072.3,2023.5 1072.5,2016.9 1072.7,2015.2 1072.9,2018.2 1073.1,2022.9 1073.3,2016.2 1073.5,2007.4 1073.7,2008.4 1073.9,2000.0 1074.1,2001.8 1074.3,1997.8 1074.5,1999.5 1074.7,2000.7 1074.9,2001.3 1075.1,2005.9 1075.3,2004.9 1075.5,2011.4 1075.7,2019.4 1075.9,2036.8 1076.1,2023.5 1076.3,2022.4 1076.5,2017.8 1076.7,2031.4 1076.9,2016.0 1077.1,2022.1 1077.3,2030.4 1077.5,2020.7 1077.7,2039.8 1077.9,2037.3 1078.1,2026.2 1078.3,2026.6 1078.5,2021.3 1078.7,2020.9 1078.9,2034.3 1079.1,2035.7 1079.3,2033.9 1079.5,2033.3 1079.7,2027.3 1079.9,2034.1 1080.1,2020.5 1080.3,2031.5 1080.5,2042.5 1080.7,2041.3 1080.9,2027.9 1081.1,2028.8 1081.3,2041.7 1081.5,2044.8 1081.7,2019.8 1081.9,2027.9 1082.1,2032.9 1082.3,2040.4 1082.5,2024.7 1082.7,2036.0 1082.9,2028.7 1083.1,2049.2 1083.3,2034.3 1083.5,2029.9 1083.7,2028.4 1083.9,2039.1 1084.1,2036.2 1084.3,2022.7 1084.5,2032.7 1084.7,2020.8 1084.9,2025.3 1085.1,2021.2 1085.3,2021.1 1085.5,2026.1 1085.7,2023.9 1085.9,2035.8 1086.1,2038.0 1086.3,2030.1 1086.5,2023.4 1086.7,2038.5 1086.9,2016.7 1087.1,2017.6 1087.3,2038.5 1087.5,2038.1 1087.7,2040.8 1087.9,2031.8 1088.1,2023.9 1088.3,2030.0 1088.5,2038.6 1088.7,2028.4 1088.9,2029.2 1089.1,2024.0 1089.3,2026.1 1089.5,2042.0 1089.7,2039.3 1089.9,2026.9 1090.1,2027.8 1090.3,2032.2 1090.5,2041.1 1090.7,2028.0 1090.9,2036.1 1091.1,2020.9 1091.3,2028.1 1091.5,2041.5 1091.7,2045.5 1091.9,2029.7 1092.1,2033.0 1092.3,2045.5 1092.5,2036.5 1092.7,2035.6 1092.9,2044.2 1093.1,2041.9 1093.3,2049.3 1093.5,2047.1 1093.7,2036.6 1093.9,2040.4 1094.1,2041.1 1094.3,2031.2 1094.5,2034.4 1094.7,2049.9 1094.9,2030.1 1095.1,2050.4 1095.3,2045.1 1095.5,2042.0 1095.7,2047.4 1095.9,2047.1 1096.1,2053.0 1096.3,2040.5 1096.5,2042.0 1096.7,2042.0 1096.9,2058.7 1097.1,2051.5 1097.3,2037.0 1097.5,2041.6 1097.7,2038.8 1097.9,2044.4 1098.1,2046.0 1098.3,2062.2 1098.5,2030.1 1098.7,2052.3 1098.9,2047.6 1099.1,2038.7 1099.3,2042.9 1099.5,2040.2 1099.7,2044.3 1099.9,2051.6 1100.1,2031.8 1100.3,2053.7 1100.5,2040.5 1100.7,2054.9 1100.9,2046.3 1101.1,2052.5 1101.3,2047.2 1101.5,2051.1 1101.7,2043.0 1101.9,2035.9 1102.1,2047.4 1102.3,2047.6 1102.5,2058.2 1102.7,2026.3 1102.9,2040.2 1103.1,2049.8 1103.3,2031.8 1103.5,2039.6 1103.7,2057.6 1103.9,2052.0 1104.1,2034.2 1104.3,2051.9 1104.5,2049.9 1104.7,2046.7 1104.9,2043.5 1105.1,2042.3 1105.3,2033.7 1105.5,2036.4 1105.7,2045.8 1105.9,2041.2 1106.1,2054.2 1106.3,2037.5 1106.5,2021.6 1106.7,2037.3 1106.9,2041.9 1107.1,2042.6 1107.3,2040.1 1107.5,2033.3 1107.7,2050.7 1107.9,2034.3 1108.1,2044.5 1108.3,2036.9 1108.5,2029.9 1108.7,2049.2 1108.9,2019.8 1109.1,2031.9 1109.3,2041.1 1109.5,2034.9 1109.7,2042.7 1109.9,2036.0 1110.1,2033.0 1110.3,2051.2 1110.5,2033.4 1110.7,2033.1 1110.9,2025.8 1111.1,2027.2 1111.3,2035.6 1111.5,2033.6 1111.7,2028.2 1111.9,2021.7 1112.1,2028.4 1112.3,2011.0 1112.5,2016.4 1112.7,2013.4 1112.9,2006.1 1113.1,2006.5 1113.3,1996.9 1113.5,1990.1 1113.7,1992.9 1113.9,1980.7 1114.1,1973.6 1114.3,1963.2 1114.5,1959.1 1114.7,1955.4 1114.9,1956.1 1115.1,1961.5 1115.3,1962.4 1115.5,1970.9 1115.7,1977.9 1115.9,1972.8 1116.1,1987.3 1116.3,1999.8 1116.5,2008.6 1116.7,2007.2 1116.9,2021.0 1117.1,2025.7 1117.3,2018.6 1117.5,2032.7 1117.7,2037.3 1117.9,2030.9 1118.1,2022.9 1118.3,2040.9 1118.5,2030.9 1118.7,2030.5 1118.9,2034.9 1119.1,2031.0 1119.3,2043.2 1119.5,2041.8 1119.7,2045.6 1119.9,2041.5 1120.1,2031.8 1120.3,2036.9 1120.5,2044.9 1120.7,2035.7 1120.9,2060.7 1121.1,2037.5 1121.3,2035.1 1121.5,2048.4 1121.7,2045.6 1121.9,2040.0 1122.1,2038.6 1122.3,2043.8 1122.5,2047.0 1122.7,2046.7 1122.9,2038.8 1123.1,2044.5 1123.3,2047.8 1123.5,2047.3 1123.7,2018.2 1123.9,2035.0 1124.1,2036.0 1124.3,2040.3 1124.5,2043.6 1124.7,2049.4 1124.9,2047.2 1125.1,2041.6 1125.3,2042.9 1125.5,2056.3 1125.7,2038.3 1125.9,2045.4 1126.1,2055.2 1126.3,2046.0 1126.5,2027.8 1126.7,2046.4 1126.9,2040.7 1127.1,2042.9 1127.3,2051.9 1127.5,2047.6 1127.7,2042.0 1127.9,2051.0 1128.1,2047.6 1128.3,2045.1 1128.5,2046.7 1128.7,2046.4 1128.9,2041.9 1129.1,2041.1 1129.3,2044.8 1129.5,2037.5 1129.7,2035.2 1129.9,2054.4 1130.1,2042.8 1130.3,2044.3 1130.5,2043.4 1130.7,2044.5 1130.9,2044.4 1131.1,2044.5 1131.3,2038.0 1131.5,2050.5 1131.7,2038.5 1131.9,2050.8 1132.1,2029.3 1132.3,2035.2 1132.5,2049.3 1132.7,2041.0 1132.9,2036.9 1133.1,2043.5 1133.3,2033.5 1133.5,2040.0 1133.7,2025.0 1133.9,2034.8 1134.1,2032.4 1134.3,2037.2 1134.5,2036.5 1134.7,2026.5 1134.9,2033.0 1135.1,2023.0 1135.3,2017.6 1135.5,2016.0 1135.7,2021.8 1135.9,2019.9 1136.1,2020.4 1136.3,2022.2 1136.5,2023.2 1136.7,2035.1 1136.9,2031.4 1137.1,2042.9 1137.3,2034.1 1137.5,2022.8 1137.7,2042.8 1137.9,2036.1 1138.1,2037.6 1138.3,2050.2 1138.5,2038.4 1138.7,2048.6 1138.9,2040.9 1139.1,2035.9 1139.3,2045.1 1139.5,2037.3 1139.7,2050.8 1139.9,2049.0 1140.1,2042.6 1140.3,2046.7 1140.5,2046.5 1140.7,2040.4 1140.9,2049.1 1141.1,2040.8 1141.3,2047.2 1141.5,2035.5 1141.7,2043.4 1141.9,2045.8 1142.1,2036.8 1142.3,2039.6 1142.5,2038.7 1142.7,2048.3 1142.9,2037.3 1143.1,2046.2 1143.3,2054.4 1143.5,2045.6 1143.7,2030.5 1143.9,2043.8 1144.1,2050.8 1144.3,2040.6 1144.5,2051.3 1144.7,2047.5 1144.9,2046.0 1145.1,2040.8 1145.3,2038.8 1145.5,2040.8 1145.7,2043.2 1145.9,2046.7 1146.1,2045.9 1146.3,2040.3 1146.5,2043.1 1146.7,2045.6 1146.9,2030.1 1147.1,2036.6 1147.3,2036.4 1147.5,2040.9 1147.7,2040.3 1147.9,2040.4 1148.1,2035.7 1148.3,2047.5 1148.5,2044.5 1148.7,2029.6 1148.9,2042.4 1149.1,2033.6 1149.3,2055.4 1149.5,2038.7 1149.7,2039.2 1149.9,2042.8 1150.1,2040.6 1150.3,2041.7 1150.5,2054.1 1150.7,2043.9 1150.9,2048.6 1151.1,2050.8 1151.3,2034.6 1151.5,2055.2 1151.7,2047.5 1151.9,2049.5 1152.1,2035.5 1152.3,2048.5 1152.5,2045.4 1152.7,2038.1 1152.9,2059.9 1153.1,2046.7 1153.3,2040.5 1153.5,2043.9 1153.7,2049.5 1153.9,2051.3 1154.1,2047.1 1154.3,2052.1 1154.5,2054.1 1154.7,2033.3 1154.9,2039.2 1155.1,2035.8 1155.3,2043.9 1155.5,2054.4 1155.7,2048.4 1155.9,2035.4 1156.1,2041.3 1156.3,2051.6 1156.5,2039.7 1156.7,2043.1 1156.9,2046.4 1157.1,2030.0 1157.3,2050.3 1157.5,2047.0 1157.7,2048.9 1157.9,2037.0 1158.1,2038.8 1158.3,2040.3 1158.5,2046.9 1158.7,2045.7 1158.9,2046.2 1159.1,2059.2 1159.3,2055.6 1159.5,2040.1 1159.7,2040.7 1159.9,2059.2 1160.1,2043.6 1160.3,2056.8 1160.5,2058.6 1160.7,2042.2 1160.9,2044.4 1161.1,2047.2 1161.3,2040.0 1161.5,2039.3 1161.7,2043.8 1161.9,2053.6 1162.1,2043.7 1162.3,2045.6 1162.5,2043.7 1162.7,2036.9 1162.9,2059.0 1163.1,2029.5 1163.3,2042.6 1163.5,2052.1 1163.7,2037.0 1163.9,2052.6 1164.1,2057.7 1164.3,2041.4 1164.5,2049.7 1164.7,2039.6 1164.9,2052.1 1165.1,2048.9 1165.3,2050.0 1165.5,2058.9 1165.7,2052.0 1165.9,2058.8 1166.1,2053.3 1166.3,2039.2 1166.5,2050.5 1166.7,2052.3 1166.9,2037.3 1167.1,2058.8 1167.3,2049.0 1167.5,2051.3 1167.7,2041.5 1167.9,2049.0 1168.1,2050.7 1168.3,2045.9 1168.5,2049.0 1168.7,2031.9 1168.9,2058.8 1169.1,2039.6 1169.3,2031.3 1169.5,2040.6 1169.7,2041.5 1169.9,2052.1 1170.1,2040.8 1170.3,2050.0 1170.5,2040.2 1170.7,2064.6 1170.9,2051.7 1171.1,2062.5 1171.3,2039.4 1171.5,2052.3 1171.7,2039.6 1171.9,2051.4 1172.1,2052.0 1172.3,2034.4 1172.5,2037.8 1172.7,2037.4 1172.9,2034.7 1173.1,2040.5 1173.3,2038.6 1173.5,2034.8 1173.7,2046.6 1173.9,2049.9 1174.1,2035.4 1174.3,2041.2 1174.5,2045.4 1174.7,2043.5 1174.9,2039.7 1175.1,2051.3 1175.3,2051.5 1175.5,2050.1 1175.7,2043.1 1175.9,2060.0 1176.1,2058.0 1176.3,2041.4 1176.5,2043.5 1176.7,2053.5 1176.9,2038.1 1177.1,2047.3 1177.3,2044.5 1177.5,2038.7 1177.7,2042.3 1177.9,2031.9 1178.1,2039.8 1178.3,2028.6 1178.5,2061.6 1178.7,2055.6 1178.9,2053.5 1179.1,2046.3 1179.3,2051.7 1179.5,2053.8 1179.7,2051.9 1179.9,2051.1 1180.1,2037.0 1180.3,2047.4 1180.5,2040.0 1180.7,2035.1 1180.9,2035.4 1181.1,2047.6 1181.3,2052.5 1181.5,2033.8 1181.7,2058.0 1181.9,2055.9 1182.1,2041.7 1182.3,2041.1 1182.5,2044.2 1182.7,2052.4 1182.9,2042.0 1183.1,2036.5 1183.3,2047.7 1183.5,2029.2 1183.7,2046.4 1183.9,2054.3 1184.1,2047.8 1184.3,2051.6 1184.5,2049.5 1184.7,2051.4 1184.9,2047.0 1185.1,2039.6 1185.3,2044.4 1185.5,2045.6 1185.7,2056.0 1185.9,2059.0 1186.1,2049.8 1186.3,2040.8 1186.5,2041.1 1186.7,2045.4 1186.9,2057.7 1187.1,2049.7 1187.3,2046.8 1187.5,2041.4 1187.7,2054.2 1187.9,2049.8 1188.1,2047.2 1188.3,2048.5 1188.5,2060.8 1188.7,2046.7 1188.9,2061.0 1189.1,2057.6 1189.3,2048.5 1189.5,2055.0 1189.7,2047.3 1189.9,2041.9 1190.1,2046.3 1190.3,2041.4 1190.5,2052.4 1190.7,2048.6 1190.9,2052.9 1191.1,2054.9 1191.3,2024.5 1191.5,2051.0 1191.7,2034.7 1191.9,2049.8 1192.1,2041.8 1192.3,2049.3 1192.5,2059.0 1192.7,2035.2 1192.9,2049.8 1193.1,2047.7 1193.3,2033.6 1193.5,2053.1 1193.7,2048.3 1193.9,2044.0 1194.1,2042.2 1194.3,2072.4 1194.5,2044.5 1194.7,2033.5 1194.9,2040.0 1195.1,2044.2 1195.3,2044.0 1195.5,2046.1 1195.7,2038.5 1195.9,2050.6 1196.1,2042.5 1196.3,2035.6 1196.5,2039.6 1196.7,2042.8 1196.9,2052.1 1197.1,2049.1 1197.3,2042.6 1197.5,2045.2 1197.7,2046.5 1197.9,2060.4 1198.1,2039.8 1198.3,2048.0 1198.5,2049.8 1198.7,2036.7 1198.9,2045.4 1199.1,2045.0 1199.3,2040.0 1199.5,2047.9 1199.7,2051.3 1199.9,2052.0 1200.1,2041.7 1200.3,2044.5 1200.5,2061.1 1200.7,2034.4 1200.9,2044.5 1201.1,2049.6 1201.3,2043.9 1201.5,2047.7 1201.7,2044.0 1201.9,2048.4 1202.1,2052.5 1202.3,2040.9 1202.5,2044.1 1202.7,2042.2 1202.9,2039.6 1203.1,2042.5 1203.3,2034.0 1203.5,2048.5 1203.7,2055.9 1203.9,2056.0 1204.1,2052.7 1204.3,2035.5 1204.5,2054.7 1204.7,2037.6 1204.9,2042.8 1205.1,2057.4 1205.3,2035.0 1205.5,2049.8 1205.7,2045.6 1205.9,2042.3 1206.1,2036.8 1206.3,2046.9 1206.5,2040.1 1206.7,2051.8 1206.9,2053.2 1207.1,2033.2 1207.3,2040.0 1207.5,2041.5 1207.7,2034.9 1207.9,2035.4 1208.1,2044.7 1208.3,2042.4 1208.5,2031.3 1208.7,2039.9 1208.9,2048.0 1209.1,2034.7 1209.3,2036.9 1209.5,2056.2 1209.7,2054.0 1209.9,2031.4 1210.1,2033.4 1210.3,2046.7 1210.5,2034.5 1210.7,2041.7 1210.9,2040.1 1211.1,2047.8 1211.3,2023.9 1211.5,2026.4 1211.7,2033.8 1211.9,2050.9 1212.1,2041.9 1212.3,2029.8 1212.5,2046.7 1212.7,2048.2 1212.9,2040.8 1213.1,2040.1 1213.3,2045.9 1213.5,2051.8 1213.7,2043.6 1213.9,2046.4 1214.1,2041.9 1214.3,2039.3 1214.5,2035.1 1214.7,2044.1 1214.9,2039.7 1215.1,2040.1 1215.3,2049.1 1215.5,2045.7 1215.7,2048.6 1215.9,2029.8 1216.1,2046.2 1216.3,2037.4 1216.5,2035.8 1216.7,2035.5 1216.9,2051.4 1217.1,2048.5 1217.3,2036.7 1217.5,2033.5 1217.7,2042.5 1217.9,2038.9 1218.1,2055.3 1218.3,2031.5 1218.5,2028.7 1218.7,2041.0 1218.9,2043.2 1219.1,2044.3 1219.3,2049.2 1219.5,2059.5 1219.7,2041.1 1219.9,2039.7 1220.1,2030.5 1220.3,2046.1 1220.5,2050.9 1220.7,2042.5 1220.9,2053.8 1221.1,2045.1 1221.3,2056.7 1221.5,2047.8 1221.7,2037.3 1221.9,2040.6 1222.1,2033.9 1222.3,2032.5 1222.5,2048.1 1222.7,2052.8 1222.9,2061.3 1223.1,2046.0 1223.3,2044.7 1223.5,2038.2 1223.7,2054.4 1223.9,2049.9 1224.1,2042.4 1224.3,2052.4 1224.5,2051.5 1224.7,2032.8 1224.9,2053.0 1225.1,2048.4 1225.3,2044.3 1225.5,2044.1 1225.7,2060.8 1225.9,2059.2 1226.1,2061.4 1226.3,2038.5 1226.5,2042.3 1226.7,2054.2 1226.9,2037.9 1227.1,2041.6 1227.3,2033.2 1227.5,2061.2 1227.7,2055.1 1227.9,2050.4 1228.1,2048.4 1228.3,2043.5 1228.5,2043.5 1228.7,2051.2 1228.9,2040.9 1229.1,2055.7 1229.3,2042.3 1229.5,2039.3 1229.7,2055.9 1229.9,2044.7 1230.1,2049.9 1230.3,2042.3 1230.5,2028.1 1230.7,2049.5 1230.9,2034.8 1231.1,2053.3 1231.3,2033.0 1231.5,2030.5 1231.7,2047.0 1231.9,2047.8 1232.1,2045.2 1232.3,2035.0 1232.5,2051.0 1232.7,2032.9 1232.9,2040.4 1233.1,2037.9 1233.3,2040.9 1233.5,2050.3 1233.7,2038.8 1233.9,2047.9 1234.1,2048.8 1234.3,2030.3 1234.5,2034.4 1234.7,2040.3 1234.9,2038.6 1235.1,2045.5 1235.3,2028.2 1235.5,2048.5 1235.7,2048.6 1235.9,2041.6 1236.1,2032.2 1236.3,2042.8 1236.5,2038.6 1236.7,2047.0 1236.9,2041.9 1237.1,2048.1 1237.3,2039.1 1237.5,2053.5 1237.7,2024.7 1237.9,2034.5 1238.1,2046.0 1238.3,2030.6 1238.5,2047.8 1238.7,2032.7 1238.9,2042.7 1239.1,2034.9 1239.3,2038.5 1239.5,2043.1 1239.7,2040.9 1239.9,2038.7 1240.1,2058.0 1240.3,2041.5 1240.5,2033.9 1240.7,2048.4 1240.9,2047.4 1241.1,2050.4 1241.3,2054.7 1241.5,2033.6 1241.7,2048.9 1241.9,2049.4 1242.1,2040.5 1242.3,2042.3 1242.5,2017.2 1242.7,2035.7 1242.9,2053.7 1243.1,2026.2 1243.3,2035.7 1243.5,2041.9 1243.7,2043.9 1243.9,2051.9 1244.1,2025.8 1244.3,2039.5 1244.5,2045.6 1244.7,2028.9 1244.9,2038.5 1245.1,2053.1 1245.3,2048.7 1245.5,2042.6 1245.7,2018.3 1245.9,2037.3 1246.1,2041.1 1246.3,2035.7 1246.5,2037.5 1246.7,2061.5 1246.9,2036.2 1247.1,2030.3 1247.3,2039.5 1247.5,2035.2 1247.7,2035.2 1247.9,2036.8 1248.1,2043.4 1248.3,2039.2 1248.5,2028.2 1248.7,2036.4 1248.9,2041.0 1249.1,2033.8 1249.3,2046.2 1249.5,2043.3 1249.7,2029.8 1249.9,2039.8 1250.1,2052.6 1250.3,2049.4 1250.5,2037.1 1250.7,2044.4 1250.9,2032.4 1251.1,2026.6 1251.3,2042.0 1251.5,2039.7 1251.7,2041.8 1251.9,2037.7 1252.1,2040.5 1252.3,2034.2 1252.5,2041.8 1252.7,2044.7 1252.9,2037.9 1253.1,2044.7 1253.3,2025.0 1253.5,2032.7 1253.7,2049.8 1253.9,2052.4 1254.1,2040.9 1254.3,2038.3 1254.5,2029.5 1254.7,2042.1 1254.9,2045.4 1255.1,2028.3 1255.3,2044.0 1255.5,2043.6 1255.7,2043.3 1255.9,2031.5 1256.1,2044.4 1256.3,2028.9 1256.5,2051.8 1256.7,2041.6 1256.9,2031.8 1257.1,2051.1 1257.3,2049.8 1257.5,2036.1 1257.7,2058.0 1257.9,2033.6 1258.1,2043.8 1258.3,2050.6 1258.5,2024.3 1258.7,2049.4 1258.9,2041.3 1259.1,2041.8 1259.3,2033.8 1259.5,2044.7 1259.7,2033.8 1259.9,2034.9 1260.1,2039.0 1260.3,2033.1 1260.5,2054.6 1260.7,2032.5 1260.9,2037.0 1261.1,2040.4 1261.3,2043.0 1261.5,2049.1 1261.7,2049.3 1261.9,2040.8 1262.1,2040.3 1262.3,2043.5 1262.5,2049.6 1262.7,2048.7 1262.9,2039.5 1263.1,2027.7 1263.3,2059.9 1263.5,2050.8 1263.7,2045.6 1263.9,2046.2 1264.1,2039.6 1264.3,2036.0 1264.5,2041.1 1264.7,2042.0 1264.9,2038.9 1265.1,2032.5 1265.3,2041.3 1265.5,2048.1 1265.7,2039.8 1265.9,2043.8 1266.1,2027.8 1266.3,2042.0 1266.5,2042.6 1266.7,2034.1 1266.9,2030.2 1267.1,2046.6 1267.3,2037.2 1267.5,2047.1 1267.7,2040.1 1267.9,2048.0 1268.1,2040.6 1268.3,2031.6 1268.5,2042.4 1268.7,2040.5 1268.9,2048.0 1269.1,2039.5 1269.3,2039.9 1269.5,2049.4 1269.7,2051.7 1269.9,2048.5 1270.1,2050.6 1270.3,2046.1 1270.5,2048.4 1270.7,2049.2 1270.9,2045.5 1271.1,2042.9 1271.3,2043.4 1271.5,2060.7 1271.7,2042.4 1271.9,2040.4 1272.1,2039.4 1272.3,2041.9 1272.5,2044.0 1272.7,2033.5 1272.9,2027.0 1273.1,2044.4 1273.3,2029.8 1273.5,2044.1 1273.7,2043.2 1273.9,2050.9 1274.1,2054.9 1274.3,2044.9 1274.5,2037.9 1274.7,2033.2 1274.9,2036.1 1275.1,2042.5 1275.3,2026.4 1275.5,2042.9 1275.7,2042.2 1275.9,2047.3 1276.1,2039.9 1276.3,2043.2 1276.5,2036.9 1276.7,2039.0 1276.9,2029.1 1277.1,2043.7 1277.3,2054.6 1277.5,2044.1 1277.7,2045.8 1277.9,2035.6 1278.1,2054.1 1278.3,2037.4 1278.5,2049.5 1278.7,2044.3 1278.9,2036.2 1279.1,2051.5 1279.3,2043.9 1279.5,2045.3 1279.7,2047.5 1279.9,2044.0 1280.1,2041.4 1280.3,2048.0 1280.5,2041.5 1280.7,2045.3 1280.9,2039.9 1281.1,2033.7 1281.3,2040.1 1281.5,2041.7 1281.7,2045.7 1281.9,2054.8 1282.1,2033.1 1282.3,2047.1 1282.5,2029.5 1282.7,2038.5 1282.9,2042.8 1283.1,2029.7 1283.3,2032.9 1283.5,2048.4 1283.7,2048.0 1283.9,2046.7 1284.1,2041.7 1284.3,2064.4 1284.5,2046.9 1284.7,2041.7 1284.9,2061.3 1285.1,2053.3 1285.3,2045.9 1285.5,2058.0 1285.7,2050.3 1285.9,2054.1 1286.1,2051.1 1286.3,2041.6 1286.5,2057.0 1286.7,2050.9 1286.9,2042.1 1287.1,2044.1 1287.3,2057.3 1287.5,2047.2 1287.7,2050.5 1287.9,2055.2 1288.1,2051.2 1288.3,2038.6 1288.5,2055.2 1288.7,2057.5 1288.9,2056.9 1289.1,2062.6 1289.3,2053.1 1289.5,2056.2 1289.7,2062.4 1289.9,2048.0 1290.1,2063.4 1290.3,2063.4 1290.5,2056.0 1290.7,2064.0 1290.9,2056.4 1291.1,2043.2 1291.3,2058.5 1291.5,2052.2 1291.7,2052.8 1291.9,2050.8 1292.1,2059.9 1292.3,2053.6 1292.5,2044.0 1292.7,2053.0 1292.9,2054.7 1293.1,2043.6 1293.3,2045.7 1293.5,2046.0 1293.7,2044.2 1293.9,2051.5 1294.1,2056.5 1294.3,2063.1 1294.5,2057.7 1294.7,2056.4 1294.9,2057.2 1295.1,2058.7 1295.3,2045.6 1295.5,2053.7 1295.7,2050.9 1295.9,2047.4 1296.1,2045.0 1296.3,2044.6 1296.5,2046.4 1296.7,2039.1 1296.9,2052.5 1297.1,2048.4 1297.3,2049.5 1297.5,2051.3 1297.7,2054.3 1297.9,2044.4 1298.1,2048.2 1298.3,2036.8 1298.5,2032.3 1298.7,2034.5 1298.9,2061.1 1299.1,2035.7 1299.3,2053.3 1299.5,2061.1 1299.7,2046.5 1299.9,2062.5 1300.1,2064.3 1300.3,2057.6 1300.5,2068.6 1300.7,2055.5 1300.9,2045.3 1301.1,2055.0 1301.3,2047.9 1301.5,2041.5 1301.7,2041.9 1301.9,2069.3 1302.1,2047.8 1302.3,2051.9 1302.5,2047.2 1302.7,2053.5 1302.9,2050.8 1303.1,2049.6 1303.3,2043.7 1303.5,2042.3 1303.7,2047.6 1303.9,2055.6 1304.1,2069.3 1304.3,2061.7 1304.5,2067.7 1304.7,2057.7 1304.9,2053.4 1305.1,2044.2 1305.3,2054.4 1305.5,2038.2 1305.7,2052.3 1305.9,2067.1 1306.1,2057.3 1306.3,2063.5 1306.5,2052.1 1306.7,2044.6 1306.9,2051.5 1307.1,2052.2 1307.3,2064.5 1307.5,2070.4 1307.7,2049.8 1307.9,2052.8 1308.1,2054.5 1308.3,2053.0 1308.5,2046.2 1308.7,2056.4 1308.9,2058.5 1309.1,2058.7 1309.3,2046.6 1309.5,2055.0 1309.7,2042.6 1309.9,2062.8 1310.1,2048.1 1310.3,2053.8 1310.5,2052.4 1310.7,2051.4 1310.9,2047.8 1311.1,2042.4 1311.3,2068.9 1311.5,2057.7 1311.7,2057.7 1311.9,2071.6 1312.1,2054.8 1312.3,2059.7 1312.5,2055.6 1312.7,2064.4 1312.9,2059.2 1313.1,2057.7 1313.3,2053.3 1313.5,2057.3 1313.7,2063.9 1313.9,2039.2 1314.1,2053.9 1314.3,2051.6 1314.5,2052.4 1314.7,2039.6 1314.9,2060.0 1315.1,2048.0 1315.3,2052.6 1315.5,2050.3 1315.7,2041.4 1315.9,2050.6 1316.1,2039.9 1316.3,2046.6 1316.5,2051.2 1316.7,2053.5 1316.9,2053.8 1317.1,2052.2 1317.3,2069.4 1317.5,2056.3 1317.7,2043.7 1317.9,2048.2 1318.1,2047.7 1318.3,2051.2 1318.5,2047.9 1318.7,2045.9 1318.9,2064.8 1319.1,2052.5 1319.3,2049.5 1319.5,2050.1 1319.7,2050.2 1319.9,2062.3 1320.1,2055.3 1320.3,2060.1 1320.5,2027.9 1320.7,2053.9 1320.9,2059.4 1321.1,2066.3 1321.3,2051.4 1321.5,2038.1 1321.7,2055.6 1321.9,2046.5 1322.1,2037.4 1322.3,2046.2 1322.5,2058.9 1322.7,2059.9 1322.9,2056.2 1323.1,2042.8 1323.3,2069.8 1323.5,2041.8 1323.7,2050.0 1323.9,2039.6 1324.1,2060.6 1324.3,2053.9 1324.5,2057.3 1324.7,2051.2 1324.9,2050.0 1325.1,2051.8 1325.3,2036.1 1325.5,2058.0 1325.7,2057.4 1325.9,2047.5 1326.1,2050.4 1326.3,2052.7 1326.5,2062.4 1326.7,2053.8 1326.9,2050.8 1327.1,2046.7 1327.3,2039.2 1327.5,2046.1 1327.7,2051.1 1327.9,2048.7 1328.1,2051.2 1328.3,2056.3 1328.5,2054.0 1328.7,2052.9 1328.9,2055.8 1329.1,2052.3 1329.3,2050.7 1329.5,2054.5 1329.7,2037.9 1329.9,2060.5 1330.1,2041.3 1330.3,2057.5 1330.5,2051.3 1330.7,2059.7 1330.9,2051.6 1331.1,2044.2 1331.3,2059.6 1331.5,2052.9 1331.7,2052.4 1331.9,2052.2 1332.1,2059.2 1332.3,2057.9 1332.5,2053.5 1332.7,2040.0 1332.9,2048.8 1333.1,2052.7 1333.3,2065.5 1333.5,2054.9 1333.7,2051.3 1333.9,2061.1 1334.1,2051.2 1334.3,2051.9 1334.5,2053.3 1334.7,2040.8 1334.9,2059.4 1335.1,2055.4 1335.3,2050.1 1335.5,2043.6 1335.7,2053.9 1335.9,2062.8 1336.1,2047.4 1336.3,2044.2 1336.5,2055.4 1336.7,2040.1 1336.9,2035.4 1337.1,2048.8 1337.3,2046.9 1337.5,2050.0 1337.7,2047.9 1337.9,2054.6 1338.1,2050.3 1338.3,2047.4 1338.5,2048.5 1338.7,2056.7 1338.9,2059.1 1339.1,2058.6 1339.3,2057.0 1339.5,2026.7 1339.7,2044.0 1339.9,2049.2 1340.1,2053.1 1340.3,2039.2 1340.5,2062.2 1340.7,2053.6 1340.9,2046.6 1341.1,2052.4 1341.3,2048.5 1341.5,2045.3 1341.7,2054.8 1341.9,2047.5 1342.1,2040.2 1342.3,2046.0 1342.5,2049.9 1342.7,2042.5 1342.9,2060.2 1343.1,2042.3 1343.3,2063.8 1343.5,2057.2 1343.7,2043.2 1343.9,2051.3 1344.1,2059.2 1344.3,2048.7 1344.5,2041.1 1344.7,2050.9 1344.9,2065.1 1345.1,2038.7 1345.3,2054.1 1345.5,2050.0 1345.7,2049.0 1345.9,2046.9 1346.1,2047.3 1346.3,2057.6 1346.5,2054.2 1346.7,2042.1 1346.9,2061.4 1347.1,2039.8 1347.3,2054.6 1347.5,2050.9 1347.7,2058.5 1347.9,2052.1 1348.1,2057.4 1348.3,2049.2 1348.5,2056.7 1348.7,2052.0 1348.9,2065.6 1349.1,2044.0 1349.3,2058.3 1349.5,2052.8 1349.7,2050.6 1349.9,2045.0 1350.1,2052.6 1350.3,2038.1 1350.5,2038.9 1350.7,2054.6 1350.9,2037.4 1351.1,2060.0 1351.3,2047.1 1351.5,2051.1 1351.7,2049.7 1351.9,2052.3 1352.1,2047.1 1352.3,2046.4 1352.5,2048.2 1352.7,2057.1 1352.9,2057.8 1353.1,2058.8 1353.3,2052.0 1353.5,2047.7 1353.7,2036.5 1353.9,2054.1 1354.1,2055.6 1354.3,2046.2 1354.5,2055.4 1354.7,2059.0 1354.9,2050.0 1355.1,2057.3 1355.3,2051.7 1355.5,2036.3 1355.7,2045.8 1355.9,2046.3 1356.1,2053.4 1356.3,2042.9 1356.5,2046.2 1356.7,2042.2 1356.9,2049.2 1357.1,2050.1 1357.3,2056.9 1357.5,2055.6 1357.7,2050.9 1357.9,2051.5 1358.1,2050.5 1358.3,2050.6 1358.5,2061.4 1358.7,2031.0 1358.9,2048.5 1359.1,2052.2 1359.3,2058.4 1359.5,2041.6 1359.7,2052.5 1359.9,2056.4 1360.1,2046.6 1360.3,2035.5 1360.5,2047.3 1360.7,2040.9 1360.9,2054.9 1361.1,2043.6 1361.3,2063.5 1361.5,2051.1 1361.7,2044.0 1361.9,2046.3 1362.1,2041.9 1362.3,2053.1 1362.5,2061.4 1362.7,2048.5 1362.9,2057.1 1363.1,2043.1 1363.3,2052.5 1363.5,2067.6 1363.7,2039.6 1363.9,2059.5 1364.1,2059.0 1364.3,2036.0 1364.5,2039.4 1364.7,2042.8 1364.9,2057.5 1365.1,2046.9 1365.3,2048.9 1365.5,2055.4 1365.7,2051.0 1365.9,2051.8 1366.1,2047.6 1366.3,2058.5 1366.5,2044.1 1366.7,2062.6 1366.9,2047.3 1367.1,2043.8 1367.3,2054.7 1367.5,2053.2 1367.7,2034.8 1367.9,2051.3 1368.1,2039.4 1368.3,2043.3 1368.5,2055.4 1368.7,2042.9 1368.9,2052.0 1369.1,2046.4 1369.3,2063.7 1369.5,2048.4 1369.7,2040.1 1369.9,2040.6 1370.1,2042.0 1370.3,2049.7 1370.5,2048.6 1370.7,2055.9 1370.9,2049.7 1371.1,2049.3 1371.3,2050.7 1371.5,2047.2 1371.7,2050.3 1371.9,2053.9 1372.1,2053.8 1372.3,2043.7 1372.5,2034.4 1372.7,2041.5 1372.9,2049.7 1373.1,2028.7 1373.3,2043.8 1373.5,2050.7 1373.7,2042.9 1373.9,2038.7 1374.1,2060.2 1374.3,2057.4 1374.5,2044.9 1374.7,2056.8 1374.9,2056.5 1375.1,2038.2 1375.3,2066.8 1375.5,2039.5 1375.7,2044.5 1375.9,2038.2 1376.1,2047.0 1376.3,2036.5 1376.5,2046.3 1376.7,2054.4 1376.9,2047.9 1377.1,2044.2 1377.3,2057.8 1377.5,2039.4 1377.7,2053.4 1377.9,2043.9 1378.1,2047.7 1378.3,2046.3 1378.5,2047.1 1378.7,2045.7 1378.9,2040.2 1379.1,2041.8 1379.3,2049.4 1379.5,2045.3 1379.7,2037.4 1379.9,2040.8 1380.1,2040.9 1380.3,2045.8 1380.5,2047.5 1380.7,2046.9 1380.9,2041.3 1381.1,2046.4 1381.3,2036.0 1381.5,2024.6 1381.7,2045.9 1381.9,2033.9 1382.1,2039.3 1382.3,2037.4 1382.5,2051.2 1382.7,2037.4 1382.9,2048.6 1383.1,2042.9 1383.3,2037.4 1383.5,2034.9 1383.7,2050.2 1383.9,2049.7 1384.1,2052.7 1384.3,2060.7 1384.5,2049.0 1384.7,2049.1 1384.9,2046.1 1385.1,2047.9 1385.3,2044.5 1385.5,2040.5 1385.7,2062.3 1385.9,2033.3 1386.1,2049.3 1386.3,2050.8 1386.5,2048.7 1386.7,2040.4 1386.9,2046.2 1387.1,2044.2 1387.3,2039.7 1387.5,2047.5 1387.7,2044.8 1387.9,2043.8 1388.1,2053.2 1388.3,2040.1 1388.5,2051.5 1388.7,2043.6 1388.9,2051.5 1389.1,2048.9 1389.3,2050.2 1389.5,2041.1 1389.7,2042.7 1389.9,2042.2 1390.1,2050.0 1390.3,2054.3 1390.5,2056.9 1390.7,2045.1 1390.9,2049.5 1391.1,2036.8 1391.3,2032.4 1391.5,2042.6 1391.7,2044.1 1391.9,2037.5 1392.1,2035.9 1392.3,2053.3 1392.5,2043.3 1392.7,2036.8 1392.9,2066.8 1393.1,2050.7 1393.3,2047.1 1393.5,2054.6 1393.7,2043.9 1393.9,2061.5 1394.1,2038.1 1394.3,2039.9 1394.5,2048.7 1394.7,2044.0 1394.9,2060.4 1395.1,2037.8 1395.3,2044.4 1395.5,2051.7 1395.7,2054.2 1395.9,2057.5 1396.1,2052.6 1396.3,2066.5 1396.5,2046.5 1396.7,2051.4 1396.9,2056.5 1397.1,2047.8 1397.3,2048.0 1397.5,2046.7 1397.7,2045.4 1397.9,2041.8 1398.1,2046.1 1398.3,2038.7 1398.5,2053.2 1398.7,2038.4 1398.9,2065.8 1399.1,2063.1 1399.3,2058.7 1399.5,2048.8 1399.7,2046.0 1399.9,2059.6 1400.1,2051.8 1400.3,2054.7 1400.5,2045.1 1400.7,2058.5 1400.9,2044.5 1401.1,2051.3 1401.3,2037.6 1401.5,2045.7 1401.7,2054.3 1401.9,2047.2 1402.1,2047.3 1402.3,2056.5 1402.5,2050.1 1402.7,2059.9 1402.9,2032.6 1403.1,2054.9 1403.3,2054.5 1403.5,2039.1 1403.7,2041.0 1403.9,2057.3 1404.1,2042.7 1404.3,2046.0 1404.5,2055.2 1404.7,2048.3 1404.9,2054.3 1405.1,2044.3 1405.3,2053.0 1405.5,2058.9 1405.7,2053.2 1405.9,2034.4 1406.1,2055.7 1406.3,2051.3 1406.5,2044.1 1406.7,2061.2 1406.9,2037.8 1407.1,2064.8 1407.3,2046.1 1407.5,2062.6" fill="none" stroke="#f00" stroke-width="1.6" stroke-linejoin="miter"/>
<rect x="555.5" y="1792" width="4.5" height="141" fill="#ff9999"/>
<rect x="556.4" y="1682" width="2.2" height="110" fill="#f01010"/>
<rect x="601.8" y="1792" width="3.5" height="112" fill="#ff9999"/>
<rect x="603.2" y="1713" width="3.2" height="79" fill="#f01010"/>
<rect x="609.6" y="1611" width="3.2" height="204" fill="#f01010"/>
<rect x="638.7" y="1795" width="4.5" height="152" fill="#ff9999"/>
<rect x="639.0" y="1674" width="3.2" height="121" fill="#f01010"/>
<rect x="756.2" y="1886" width="4.8" height="63" fill="#ff9999"/>
<rect x="756.6" y="1838" width="3.2" height="48" fill="#f01010"/>
<rect x="934.5" y="1900" width="3.3" height="53" fill="#f01010"/>
<line x1="141.00" y1="568.62" x2="145.50" y2="568.62" stroke="#777" stroke-width="1"/>
<line x1="138.50" y1="538.25" x2="145.50" y2="538.25" stroke="#555" stroke-width="1"/>
<line x1="141.00" y1="507.88" x2="145.50" y2="507.88" stroke="#777" stroke-width="1"/>
<line x1="138.50" y1="477.50" x2="145.50" y2="477.50" stroke="#555" stroke-width="1"/>
<line x1="141.00" y1="447.12" x2="145.50" y2="447.12" stroke="#777" stroke-width="1"/>
<line x1="138.50" y1="416.75" x2="145.50" y2="416.75" stroke="#555" stroke-width="1"/>
<line x1="141.00" y1="386.38" x2="145.50" y2="386.38" stroke="#777" stroke-width="1"/>
<line x1="138.50" y1="356.00" x2="145.50" y2="356.00" stroke="#555" stroke-width="1"/>
<line x1="141.00" y1="325.62" x2="145.50" y2="325.62" stroke="#777" stroke-width="1"/>
<line x1="138.50" y1="295.25" x2="145.50" y2="295.25" stroke="#555" stroke-width="1"/>
<line x1="141.00" y1="264.88" x2="145.50" y2="264.88" stroke="#777" stroke-width="1"/>
<line x1="138.50" y1="234.50" x2="145.50" y2="234.50" stroke="#555" stroke-width="1"/>
<line x1="141.00" y1="204.12" x2="145.50" y2="204.12" stroke="#777" stroke-width="1"/>
<line x1="138.50" y1="173.75" x2="145.50" y2="173.75" stroke="#555" stroke-width="1"/>
<line x1="141.00" y1="143.37" x2="145.50" y2="143.37" stroke="#777" stroke-width="1"/>
<line x1="138.50" y1="113.00" x2="145.50" y2="113.00" stroke="#555" stroke-width="1"/>
<line x1="141.00" y1="82.62" x2="145.50" y2="82.62" stroke="#777" stroke-width="1"/>
<line x1="138.50" y1="52.25" x2="145.50" y2="52.25" stroke="#555" stroke-width="1"/>
<line x1="141.00" y1="21.88" x2="145.50" y2="21.88" stroke="#777" stroke-width="1"/>
<line x1="150.60" y1="602.00" x2="150.60" y2="609.50" stroke="#777" stroke-width="1"/>
<line x1="171.17" y1="602.00" x2="171.17" y2="604.50" stroke="#999" stroke-width="1"/>
<line x1="191.74" y1="602.00" x2="191.74" y2="604.50" stroke="#999" stroke-width="1"/>
<line x1="212.31" y1="602.00" x2="212.31" y2="604.50" stroke="#999" stroke-width="1"/>
<line x1="232.88" y1="602.00" x2="232.88" y2="604.50" stroke="#999" stroke-width="1"/>
<line x1="253.45" y1="602.00" x2="253.45" y2="606.50" stroke="#888" stroke-width="1"/>
<line x1="274.02" y1="602.00" x2="274.02" y2="604.50" stroke="#999" stroke-width="1"/>
<line x1="294.59" y1="602.00" x2="294.59" y2="604.50" stroke="#999" stroke-width="1"/>
<line x1="315.16" y1="602.00" x2="315.16" y2="604.50" stroke="#999" stroke-width="1"/>
<line x1="335.73" y1="602.00" x2="335.73" y2="604.50" stroke="#999" stroke-width="1"/>
<line x1="356.30" y1="602.00" x2="356.30" y2="609.50" stroke="#777" stroke-width="1"/>
<line x1="376.87" y1="602.00" x2="376.87" y2="604.50" stroke="#999" stroke-width="1"/>
<line x1="397.44" y1="602.00" x2="397.44" y2="604.50" stroke="#999" stroke-width="1"/>
<line x1="418.01" y1="602.00" x2="418.01" y2="604.50" stroke="#999" stroke-width="1"/>
<line x1="438.58" y1="602.00" x2="438.58" y2="604.50" stroke="#999" stroke-width="1"/>
<line x1="459.15" y1="602.00" x2="459.15" y2="606.50" stroke="#888" stroke-width="1"/>
<line x1="479.72" y1="602.00" x2="479.72" y2="604.50" stroke="#999" stroke-width="1"/>
<line x1="500.29" y1="602.00" x2="500.29" y2="604.50" stroke="#999" stroke-width="1"/>
<line x1="520.86" y1="602.00" x2="520.86" y2="604.50" stroke="#999" stroke-width="1"/>
<line x1="541.43" y1="602.00" x2="541.43" y2="604.50" stroke="#999" stroke-width="1"/>
<line x1="562.00" y1="602.00" x2="562.00" y2="609.50" stroke="#777" stroke-width="1"/>
<line x1="582.57" y1="602.00" x2="582.57" y2="604.50" stroke="#999" stroke-width="1"/>
<line x1="603.14" y1="602.00" x2="603.14" y2="604.50" stroke="#999" stroke-width="1"/>
<line x1="623.71" y1="602.00" x2="623.71" y2="604.50" stroke="#999" stroke-width="1"/>
<line x1="644.28" y1="602.00" x2="644.28" y2="604.50" stroke="#999" stroke-width="1"/>
<line x1="664.85" y1="602.00" x2="664.85" y2="606.50" stroke="#888" stroke-width="1"/>
<line x1="685.42" y1="602.00" x2="685.42" y2="604.50" stroke="#999" stroke-width="1"/>
<line x1="705.99" y1="602.00" x2="705.99" y2="604.50" stroke="#999" stroke-width="1"/>
<line x1="726.56" y1="602.00" x2="726.56" y2="604.50" stroke="#999" stroke-width="1"/>
<line x1="747.13" y1="602.00" x2="747.13" y2="604.50" stroke="#999" stroke-width="1"/>
<line x1="767.70" y1="602.00" x2="767.70" y2="609.50" stroke="#777" stroke-width="1"/>
<line x1="788.27" y1="602.00" x2="788.27" y2="604.50" stroke="#999" stroke-width="1"/>
<line x1="808.84" y1="602.00" x2="808.84" y2="604.50" stroke="#999" stroke-width="1"/>
<line x1="829.41" y1="602.00" x2="829.41" y2="604.50" stroke="#999" stroke-width="1"/>
<line x1="849.98" y1="602.00" x2="849.98" y2="604.50" stroke="#999" stroke-width="1"/>
<line x1="870.55" y1="602.00" x2="870.55" y2="606.50" stroke="#888" stroke-width="1"/>
<line x1="891.12" y1="602.00" x2="891.12" y2="604.50" stroke="#999" stroke-width="1"/>
<line x1="911.69" y1="602.00" x2="911.69" y2="604.50" stroke="#999" stroke-width="1"/>
<line x1="932.26" y1="602.00" x2="932.26" y2="604.50" stroke="#999" stroke-width="1"/>
<line x1="952.83" y1="602.00" x2="952.83" y2="604.50" stroke="#999" stroke-width="1"/>
<line x1="973.40" y1="602.00" x2="973.40" y2="609.50" stroke="#777" stroke-width="1"/>
<line x1="993.97" y1="602.00" x2="993.97" y2="604.50" stroke="#999" stroke-width="1"/>
<line x1="1014.54" y1="602.00" x2="1014.54" y2="604.50" stroke="#999" stroke-width="1"/>
<line x1="1035.11" y1="602.00" x2="1035.11" y2="604.50" stroke="#999" stroke-width="1"/>
<line x1="1055.68" y1="602.00" x2="1055.68" y2="604.50" stroke="#999" stroke-width="1"/>
<line x1="1076.25" y1="602.00" x2="1076.25" y2="606.50" stroke="#888" stroke-width="1"/>
<line x1="1096.82" y1="602.00" x2="1096.82" y2="604.50" stroke="#999" stroke-width="1"/>
<line x1="1117.39" y1="602.00" x2="1117.39" y2="604.50" stroke="#999" stroke-width="1"/>
<line x1="1137.96" y1="602.00" x2="1137.96" y2="604.50" stroke="#999" stroke-width="1"/>
<line x1="1158.53" y1="602.00" x2="1158.53" y2="604.50" stroke="#999" stroke-width="1"/>
<line x1="1179.10" y1="602.00" x2="1179.10" y2="609.50" stroke="#777" stroke-width="1"/>
<line x1="1199.67" y1="602.00" x2="1199.67" y2="604.50" stroke="#999" stroke-width="1"/>
<line x1="1220.24" y1="602.00" x2="1220.24" y2="604.50" stroke="#999" stroke-width="1"/>
<line x1="1240.81" y1="602.00" x2="1240.81" y2="604.50" stroke="#999" stroke-width="1"/>
<line x1="1261.38" y1="602.00" x2="1261.38" y2="604.50" stroke="#999" stroke-width="1"/>
<line x1="1281.95" y1="602.00" x2="1281.95" y2="606.50" stroke="#888" stroke-width="1"/>
<line x1="1302.52" y1="602.00" x2="1302.52" y2="604.50" stroke="#999" stroke-width="1"/>
<line x1="1323.09" y1="602.00" x2="1323.09" y2="604.50" stroke="#999" stroke-width="1"/>
<line x1="1343.66" y1="602.00" x2="1343.66" y2="604.50" stroke="#999" stroke-width="1"/>
<line x1="1364.23" y1="602.00" x2="1364.23" y2="604.50" stroke="#999" stroke-width="1"/>
<line x1="1384.80" y1="602.00" x2="1384.80" y2="609.50" stroke="#777" stroke-width="1"/>
<text transform="matrix(0.15418,0.00000,0.00000,0.12147,113.27726,542.43138)" font-family="Liberation Sans" font-weight="normal" font-size="100" fill="#3a3a3a" stroke="#3a3a3a" stroke-width="4">100</text>
<text transform="matrix(0.15418,0.00000,0.00000,0.12147,113.27726,481.68138)" font-family="Liberation Sans" font-weight="normal" font-size="100" fill="#3a3a3a" stroke="#3a3a3a" stroke-width="4">200</text>
<text transform="matrix(0.15418,0.00000,0.00000,0.12147,113.27726,420.93138)" font-family="Liberation Sans" font-weight="normal" font-size="100" fill="#3a3a3a" stroke="#3a3a3a" stroke-width="4">300</text>
<text transform="matrix(0.15418,0.00000,0.00000,0.12147,113.27726,360.18138)" font-family="Liberation Sans" font-weight="normal" font-size="100" fill="#3a3a3a" stroke="#3a3a3a" stroke-width="4">400</text>
<text transform="matrix(0.15418,0.00000,0.00000,0.12147,113.27726,299.43138)" font-family="Liberation Sans" font-weight="normal" font-size="100" fill="#3a3a3a" stroke="#3a3a3a" stroke-width="4">500</text>
<text transform="matrix(0.15418,0.00000,0.00000,0.12147,113.27726,238.68138)" font-family="Liberation Sans" font-weight="normal" font-size="100" fill="#3a3a3a" stroke="#3a3a3a" stroke-width="4">600</text>
<text transform="matrix(0.15418,0.00000,0.00000,0.12147,113.27726,177.93138)" font-family="Liberation Sans" font-weight="normal" font-size="100" fill="#3a3a3a" stroke="#3a3a3a" stroke-width="4">700</text>
<text transform="matrix(0.15418,0.00000,0.00000,0.12147,113.27726,117.18138)" font-family="Liberation Sans" font-weight="normal" font-size="100" fill="#3a3a3a" stroke="#3a3a3a" stroke-width="4">800</text>
<text transform="matrix(0.15418,0.00000,0.00000,0.12147,113.27726,56.43138)" font-family="Liberation Sans" font-weight="normal" font-size="100" fill="#3a3a3a" stroke="#3a3a3a" stroke-width="4">900</text>
<text transform="matrix(0.15418,0.00000,0.00000,0.12147,130.12728,597.28138)" font-family="Liberation Sans" font-weight="normal" font-size="100" fill="#3a3a3a" stroke="#3a3a3a" stroke-width="4">0</text>
<text transform="matrix(0.15418,0.00000,0.00000,0.12147,150.22555,621.48138)" font-family="Liberation Sans" font-weight="normal" font-size="100" fill="#3a3a3a" stroke="#3a3a3a" stroke-width="4">10</text>
<text transform="matrix(0.15418,0.00000,0.00000,0.12147,346.86297,621.48138)" font-family="Liberation Sans" font-weight="normal" font-size="100" fill="#3a3a3a" stroke="#3a3a3a" stroke-width="4">20</text>
<text transform="matrix(0.15418,0.00000,0.00000,0.12147,552.84529,621.48138)" font-family="Liberation Sans" font-weight="normal" font-size="100" fill="#3a3a3a" stroke="#3a3a3a" stroke-width="4">30</text>
<text transform="matrix(0.15418,0.00000,0.00000,0.12147,758.89537,621.48138)" font-family="Liberation Sans" font-weight="normal" font-size="100" fill="#3a3a3a" stroke="#3a3a3a" stroke-width="4">40</text>
<text transform="matrix(0.15418,0.00000,0.00000,0.12147,964.20012,621.48138)" font-family="Liberation Sans" font-weight="normal" font-size="100" fill="#3a3a3a" stroke="#3a3a3a" stroke-width="4">50</text>
<text transform="matrix(0.15418,0.00000,0.00000,0.12147,1169.65168,621.48138)" font-family="Liberation Sans" font-weight="normal" font-size="100" fill="#3a3a3a" stroke="#3a3a3a" stroke-width="4">60</text>
<text transform="matrix(0.15418,0.00000,0.00000,0.12147,1369.05227,621.48138)" font-family="Liberation Sans" font-weight="normal" font-size="100" fill="#3a3a3a" stroke="#3a3a3a" stroke-width="4">70</text>
<rect x="145.20" y="2.10" width="6.80" height="600.50" fill="#000"/>
<rect x="1380.70" y="2.10" width="6.30" height="600.50" fill="#000"/>
<rect x="145.20" y="2.10" width="1241.80" height="5.30" fill="#000"/>
<rect x="145.20" y="597.40" width="1241.80" height="5.20" fill="#000"/>
<text transform="matrix(0.50087,0.00000,0.00000,0.47423,188.79891,64.90415)" font-family="Liberation Serif" font-weight="bold" font-size="100" fill="#000">(a)</text>
<text transform="matrix(0.00000,-0.38612,0.45621,0.00000,52.65405,427.04842)" font-family="Liberation Serif" font-weight="bold" font-size="100" fill="#000">intensity count (au)</text>
<text transform="matrix(0.48730,0.00000,0.00000,0.34990,618.15372,670.87763)" font-family="Liberation Serif" font-weight="bold" font-size="100" fill="#000">2Θ (degree)</text>
<line x1="134.40" y1="892.80" x2="147.00" y2="892.80" stroke="#222" stroke-width="2"/>
<line x1="134.40" y1="1120.40" x2="147.00" y2="1120.40" stroke="#222" stroke-width="2"/>
<line x1="134.40" y1="1345.50" x2="147.00" y2="1345.50" stroke="#222" stroke-width="2"/>
<line x1="166.24" y1="1347.00" x2="166.24" y2="1353.00" stroke="#222" stroke-width="2"/>
<line x1="182.93" y1="1347.00" x2="182.93" y2="1353.00" stroke="#222" stroke-width="2"/>
<line x1="199.62" y1="1347.00" x2="199.62" y2="1353.00" stroke="#222" stroke-width="2"/>
<line x1="216.31" y1="1347.00" x2="216.31" y2="1353.00" stroke="#222" stroke-width="2"/>
<line x1="233.00" y1="1347.00" x2="233.00" y2="1361.50" stroke="#222" stroke-width="2"/>
<line x1="249.69" y1="1347.00" x2="249.69" y2="1353.00" stroke="#222" stroke-width="2"/>
<line x1="266.38" y1="1347.00" x2="266.38" y2="1353.00" stroke="#222" stroke-width="2"/>
<line x1="283.07" y1="1347.00" x2="283.07" y2="1353.00" stroke="#222" stroke-width="2"/>
<line x1="299.76" y1="1347.00" x2="299.76" y2="1353.00" stroke="#222" stroke-width="2"/>
<line x1="316.45" y1="1347.00" x2="316.45" y2="1353.00" stroke="#222" stroke-width="2"/>
<line x1="333.14" y1="1347.00" x2="333.14" y2="1353.00" stroke="#222" stroke-width="2"/>
<line x1="349.83" y1="1347.00" x2="349.83" y2="1353.00" stroke="#222" stroke-width="2"/>
<line x1="366.52" y1="1347.00" x2="366.52" y2="1353.00" stroke="#222" stroke-width="2"/>
<line x1="383.21" y1="1347.00" x2="383.21" y2="1353.00" stroke="#222" stroke-width="2"/>
<line x1="399.90" y1="1347.00" x2="399.90" y2="1361.50" stroke="#222" stroke-width="2"/>
<line x1="416.59" y1="1347.00" x2="416.59" y2="1353.00" stroke="#222" stroke-width="2"/>
<line x1="433.28" y1="1347.00" x2="433.28" y2="1353.00" stroke="#222" stroke-width="2"/>
<line x1="449.97" y1="1347.00" x2="449.97" y2="1353.00" stroke="#222" stroke-width="2"/>
<line x1="466.66" y1="1347.00" x2="466.66" y2="1353.00" stroke="#222" stroke-width="2"/>
<line x1="483.35" y1="1347.00" x2="483.35" y2="1353.00" stroke="#222" stroke-width="2"/>
<line x1="500.04" y1="1347.00" x2="500.04" y2="1353.00" stroke="#222" stroke-width="2"/>
<line x1="516.73" y1="1347.00" x2="516.73" y2="1353.00" stroke="#222" stroke-width="2"/>
<line x1="533.42" y1="1347.00" x2="533.42" y2="1353.00" stroke="#222" stroke-width="2"/>
<line x1="550.11" y1="1347.00" x2="550.11" y2="1353.00" stroke="#222" stroke-width="2"/>
<line x1="566.80" y1="1347.00" x2="566.80" y2="1361.50" stroke="#222" stroke-width="2"/>
<line x1="583.49" y1="1347.00" x2="583.49" y2="1353.00" stroke="#222" stroke-width="2"/>
<line x1="600.18" y1="1347.00" x2="600.18" y2="1353.00" stroke="#222" stroke-width="2"/>
<line x1="616.87" y1="1347.00" x2="616.87" y2="1353.00" stroke="#222" stroke-width="2"/>
<line x1="633.56" y1="1347.00" x2="633.56" y2="1353.00" stroke="#222" stroke-width="2"/>
<line x1="650.25" y1="1347.00" x2="650.25" y2="1353.00" stroke="#222" stroke-width="2"/>
<line x1="666.94" y1="1347.00" x2="666.94" y2="1353.00" stroke="#222" stroke-width="2"/>
<line x1="683.63" y1="1347.00" x2="683.63" y2="1353.00" stroke="#222" stroke-width="2"/>
<line x1="700.32" y1="1347.00" x2="700.32" y2="1353.00" stroke="#222" stroke-width="2"/>
<line x1="717.01" y1="1347.00" x2="717.01" y2="1353.00" stroke="#222" stroke-width="2"/>
<line x1="733.70" y1="1347.00" x2="733.70" y2="1361.50" stroke="#222" stroke-width="2"/>
<line x1="750.39" y1="1347.00" x2="750.39" y2="1353.00" stroke="#222" stroke-width="2"/>
<line x1="767.08" y1="1347.00" x2="767.08" y2="1353.00" stroke="#222" stroke-width="2"/>
<line x1="783.77" y1="1347.00" x2="783.77" y2="1353.00" stroke="#222" stroke-width="2"/>
<line x1="800.46" y1="1347.00" x2="800.46" y2="1353.00" stroke="#222" stroke-width="2"/>
<line x1="817.15" y1="1347.00" x2="817.15" y2="1353.00" stroke="#222" stroke-width="2"/>
<line x1="833.84" y1="1347.00" x2="833.84" y2="1353.00" stroke="#222" stroke-width="2"/>
<line x1="850.53" y1="1347.00" x2="850.53" y2="1353.00" stroke="#222" stroke-width="2"/>
<line x1="867.22" y1="1347.00" x2="867.22" y2="1353.00" stroke="#222" stroke-width="2"/>
<line x1="883.91" y1="1347.00" x2="883.91" y2="1353.00" stroke="#222" stroke-width="2"/>
<line x1="900.60" y1="1347.00" x2="900.60" y2="1361.50" stroke="#222" stroke-width="2"/>
<line x1="917.29" y1="1347.00" x2="917.29" y2="1353.00" stroke="#222" stroke-width="2"/>
<line x1="933.98" y1="1347.00" x2="933.98" y2="1353.00" stroke="#222" stroke-width="2"/>
<line x1="950.67" y1="1347.00" x2="950.67" y2="1353.00" stroke="#222" stroke-width="2"/>
<line x1="967.36" y1="1347.00" x2="967.36" y2="1353.00" stroke="#222" stroke-width="2"/>
<line x1="984.05" y1="1347.00" x2="984.05" y2="1353.00" stroke="#222" stroke-width="2"/>
<line x1="1000.74" y1="1347.00" x2="1000.74" y2="1353.00" stroke="#222" stroke-width="2"/>
<line x1="1017.43" y1="1347.00" x2="1017.43" y2="1353.00" stroke="#222" stroke-width="2"/>
<line x1="1034.12" y1="1347.00" x2="1034.12" y2="1353.00" stroke="#222" stroke-width="2"/>
<line x1="1050.81" y1="1347.00" x2="1050.81" y2="1353.00" stroke="#222" stroke-width="2"/>
<line x1="1067.50" y1="1347.00" x2="1067.50" y2="1361.50" stroke="#222" stroke-width="2"/>
<line x1="1084.19" y1="1347.00" x2="1084.19" y2="1353.00" stroke="#222" stroke-width="2"/>
<line x1="1100.88" y1="1347.00" x2="1100.88" y2="1353.00" stroke="#222" stroke-width="2"/>
<line x1="1117.57" y1="1347.00" x2="1117.57" y2="1353.00" stroke="#222" stroke-width="2"/>
<line x1="1134.26" y1="1347.00" x2="1134.26" y2="1353.00" stroke="#222" stroke-width="2"/>
<line x1="1150.95" y1="1347.00" x2="1150.95" y2="1353.00" stroke="#222" stroke-width="2"/>
<line x1="1167.64" y1="1347.00" x2="1167.64" y2="1353.00" stroke="#222" stroke-width="2"/>
<line x1="1184.33" y1="1347.00" x2="1184.33" y2="1353.00" stroke="#222" stroke-width="2"/>
<line x1="1201.02" y1="1347.00" x2="1201.02" y2="1353.00" stroke="#222" stroke-width="2"/>
<line x1="1217.71" y1="1347.00" x2="1217.71" y2="1353.00" stroke="#222" stroke-width="2"/>
<line x1="1234.40" y1="1347.00" x2="1234.40" y2="1361.50" stroke="#222" stroke-width="2"/>
<line x1="1251.09" y1="1347.00" x2="1251.09" y2="1353.00" stroke="#222" stroke-width="2"/>
<line x1="1267.78" y1="1347.00" x2="1267.78" y2="1353.00" stroke="#222" stroke-width="2"/>
<line x1="1284.47" y1="1347.00" x2="1284.47" y2="1353.00" stroke="#222" stroke-width="2"/>
<line x1="1301.16" y1="1347.00" x2="1301.16" y2="1353.00" stroke="#222" stroke-width="2"/>
<line x1="1317.85" y1="1347.00" x2="1317.85" y2="1353.00" stroke="#222" stroke-width="2"/>
<line x1="1334.54" y1="1347.00" x2="1334.54" y2="1353.00" stroke="#222" stroke-width="2"/>
<line x1="1351.23" y1="1347.00" x2="1351.23" y2="1353.00" stroke="#222" stroke-width="2"/>
<line x1="1367.92" y1="1347.00" x2="1367.92" y2="1353.00" stroke="#222" stroke-width="2"/>
<line x1="1384.61" y1="1347.00" x2="1384.61" y2="1353.00" stroke="#222" stroke-width="2"/>
<text transform="matrix(0.19190,0.00000,0.00000,0.24294,83.25961,899.36276)" font-family="Liberation Sans" font-weight="normal" font-size="100" fill="#333" stroke="#333" stroke-width="2.5">4000</text>
<text transform="matrix(0.19190,0.00000,0.00000,0.24294,83.25961,1126.96276)" font-family="Liberation Sans" font-weight="normal" font-size="100" fill="#333" stroke="#333" stroke-width="2.5">2000</text>
<text transform="matrix(0.19190,0.00000,0.00000,0.24294,115.27711,1351.96276)" font-family="Liberation Sans" font-weight="normal" font-size="100" fill="#333" stroke="#333" stroke-width="2.5">0</text>
<text transform="matrix(0.19190,0.00000,0.00000,0.23446,219.50971,1385.07103)" font-family="Liberation Sans" font-weight="normal" font-size="100" fill="#333" stroke="#333" stroke-width="2.5">10</text>
<text transform="matrix(0.19190,0.00000,0.00000,0.23446,387.15463,1385.07103)" font-family="Liberation Sans" font-weight="normal" font-size="100" fill="#333" stroke="#333" stroke-width="2.5">20</text>
<text transform="matrix(0.19190,0.00000,0.00000,0.23446,554.40601,1385.07103)" font-family="Liberation Sans" font-weight="normal" font-size="100" fill="#333" stroke="#333" stroke-width="2.5">30</text>
<text transform="matrix(0.19190,0.00000,0.00000,0.23446,721.74171,1385.07103)" font-family="Liberation Sans" font-weight="normal" font-size="100" fill="#333" stroke="#333" stroke-width="2.5">40</text>
<text transform="matrix(0.19190,0.00000,0.00000,0.23446,888.14979,1385.07103)" font-family="Liberation Sans" font-weight="normal" font-size="100" fill="#333" stroke="#333" stroke-width="2.5">50</text>
<text transform="matrix(0.19190,0.00000,0.00000,0.23446,1054.74057,1385.07103)" font-family="Liberation Sans" font-weight="normal" font-size="100" fill="#333" stroke="#333" stroke-width="2.5">60</text>
<text transform="matrix(0.19190,0.00000,0.00000,0.23446,1221.62652,1385.07103)" font-family="Liberation Sans" font-weight="normal" font-size="100" fill="#333" stroke="#333" stroke-width="2.5">70</text>
<rect x="146.50" y="755.30" width="3.50" height="592.70" fill="#000"/>
<rect x="1398.80" y="755.30" width="3.60" height="592.70" fill="#000"/>
<rect x="146.50" y="755.30" width="1255.90" height="4.00" fill="#000"/>
<rect x="146.50" y="1345.20" width="1255.90" height="2.80" fill="#000"/>
<text transform="matrix(0.50340,0.00000,0.00000,0.47312,188.78777,813.02763)" font-family="Liberation Serif" font-weight="bold" font-size="100" fill="#000">(b)</text>
<text transform="matrix(0.00000,-0.55392,0.45621,0.00000,35.65405,1269.21711)" font-family="Liberation Serif" font-weight="bold" font-size="100" fill="#000">intensity count (au)</text>
<text transform="matrix(0.45855,0.00000,0.00000,0.54672,628.37444,1472.93380)" font-family="Liberation Serif" font-weight="bold" font-size="100" fill="#000">2Θ (degree)</text>
<line x1="127.70" y1="1680.60" x2="141.00" y2="1680.60" stroke="#222" stroke-width="2"/>
<line x1="127.70" y1="1826.60" x2="141.00" y2="1826.60" stroke="#222" stroke-width="2"/>
<line x1="127.70" y1="1972.70" x2="141.00" y2="1972.70" stroke="#222" stroke-width="2"/>
<line x1="127.70" y1="2119.50" x2="141.00" y2="2119.50" stroke="#222" stroke-width="2"/>
<line x1="159.74" y1="2120.00" x2="159.74" y2="2126.70" stroke="#222" stroke-width="2"/>
<line x1="176.63" y1="2120.00" x2="176.63" y2="2126.70" stroke="#222" stroke-width="2"/>
<line x1="193.52" y1="2120.00" x2="193.52" y2="2126.70" stroke="#222" stroke-width="2"/>
<line x1="210.41" y1="2120.00" x2="210.41" y2="2126.70" stroke="#222" stroke-width="2"/>
<line x1="227.30" y1="2120.00" x2="227.30" y2="2134.90" stroke="#222" stroke-width="2"/>
<line x1="244.19" y1="2120.00" x2="244.19" y2="2126.70" stroke="#222" stroke-width="2"/>
<line x1="261.08" y1="2120.00" x2="261.08" y2="2126.70" stroke="#222" stroke-width="2"/>
<line x1="277.97" y1="2120.00" x2="277.97" y2="2126.70" stroke="#222" stroke-width="2"/>
<line x1="294.86" y1="2120.00" x2="294.86" y2="2126.70" stroke="#222" stroke-width="2"/>
<line x1="311.75" y1="2120.00" x2="311.75" y2="2126.70" stroke="#222" stroke-width="2"/>
<line x1="328.64" y1="2120.00" x2="328.64" y2="2126.70" stroke="#222" stroke-width="2"/>
<line x1="345.53" y1="2120.00" x2="345.53" y2="2126.70" stroke="#222" stroke-width="2"/>
<line x1="362.42" y1="2120.00" x2="362.42" y2="2126.70" stroke="#222" stroke-width="2"/>
<line x1="379.31" y1="2120.00" x2="379.31" y2="2126.70" stroke="#222" stroke-width="2"/>
<line x1="396.20" y1="2120.00" x2="396.20" y2="2134.90" stroke="#222" stroke-width="2"/>
<line x1="413.09" y1="2120.00" x2="413.09" y2="2126.70" stroke="#222" stroke-width="2"/>
<line x1="429.98" y1="2120.00" x2="429.98" y2="2126.70" stroke="#222" stroke-width="2"/>
<line x1="446.87" y1="2120.00" x2="446.87" y2="2126.70" stroke="#222" stroke-width="2"/>
<line x1="463.76" y1="2120.00" x2="463.76" y2="2126.70" stroke="#222" stroke-width="2"/>
<line x1="480.65" y1="2120.00" x2="480.65" y2="2126.70" stroke="#222" stroke-width="2"/>
<line x1="497.54" y1="2120.00" x2="497.54" y2="2126.70" stroke="#222" stroke-width="2"/>
<line x1="514.43" y1="2120.00" x2="514.43" y2="2126.70" stroke="#222" stroke-width="2"/>
<line x1="531.32" y1="2120.00" x2="531.32" y2="2126.70" stroke="#222" stroke-width="2"/>
<line x1="548.21" y1="2120.00" x2="548.21" y2="2126.70" stroke="#222" stroke-width="2"/>
<line x1="565.10" y1="2120.00" x2="565.10" y2="2134.90" stroke="#222" stroke-width="2"/>
<line x1="581.99" y1="2120.00" x2="581.99" y2="2126.70" stroke="#222" stroke-width="2"/>
<line x1="598.88" y1="2120.00" x2="598.88" y2="2126.70" stroke="#222" stroke-width="2"/>
<line x1="615.77" y1="2120.00" x2="615.77" y2="2126.70" stroke="#222" stroke-width="2"/>
<line x1="632.66" y1="2120.00" x2="632.66" y2="2126.70" stroke="#222" stroke-width="2"/>
<line x1="649.55" y1="2120.00" x2="649.55" y2="2126.70" stroke="#222" stroke-width="2"/>
<line x1="666.44" y1="2120.00" x2="666.44" y2="2126.70" stroke="#222" stroke-width="2"/>
<line x1="683.33" y1="2120.00" x2="683.33" y2="2126.70" stroke="#222" stroke-width="2"/>
<line x1="700.22" y1="2120.00" x2="700.22" y2="2126.70" stroke="#222" stroke-width="2"/>
<line x1="717.11" y1="2120.00" x2="717.11" y2="2126.70" stroke="#222" stroke-width="2"/>
<line x1="734.00" y1="2120.00" x2="734.00" y2="2134.90" stroke="#222" stroke-width="2"/>
<line x1="750.89" y1="2120.00" x2="750.89" y2="2126.70" stroke="#222" stroke-width="2"/>
<line x1="767.78" y1="2120.00" x2="767.78" y2="2126.70" stroke="#222" stroke-width="2"/>
<line x1="784.67" y1="2120.00" x2="784.67" y2="2126.70" stroke="#222" stroke-width="2"/>
<line x1="801.56" y1="2120.00" x2="801.56" y2="2126.70" stroke="#222" stroke-width="2"/>
<line x1="818.45" y1="2120.00" x2="818.45" y2="2126.70" stroke="#222" stroke-width="2"/>
<line x1="835.34" y1="2120.00" x2="835.34" y2="2126.70" stroke="#222" stroke-width="2"/>
<line x1="852.23" y1="2120.00" x2="852.23" y2="2126.70" stroke="#222" stroke-width="2"/>
<line x1="869.12" y1="2120.00" x2="869.12" y2="2126.70" stroke="#222" stroke-width="2"/>
<line x1="886.01" y1="2120.00" x2="886.01" y2="2126.70" stroke="#222" stroke-width="2"/>
<line x1="902.90" y1="2120.00" x2="902.90" y2="2134.90" stroke="#222" stroke-width="2"/>
<line x1="919.79" y1="2120.00" x2="919.79" y2="2126.70" stroke="#222" stroke-width="2"/>
<line x1="936.68" y1="2120.00" x2="936.68" y2="2126.70" stroke="#222" stroke-width="2"/>
<line x1="953.57" y1="2120.00" x2="953.57" y2="2126.70" stroke="#222" stroke-width="2"/>
<line x1="970.46" y1="2120.00" x2="970.46" y2="2126.70" stroke="#222" stroke-width="2"/>
<line x1="987.35" y1="2120.00" x2="987.35" y2="2126.70" stroke="#222" stroke-width="2"/>
<line x1="1004.24" y1="2120.00" x2="1004.24" y2="2126.70" stroke="#222" stroke-width="2"/>
<line x1="1021.13" y1="2120.00" x2="1021.13" y2="2126.70" stroke="#222" stroke-width="2"/>
<line x1="1038.02" y1="2120.00" x2="1038.02" y2="2126.70" stroke="#222" stroke-width="2"/>
<line x1="1054.91" y1="2120.00" x2="1054.91" y2="2126.70" stroke="#222" stroke-width="2"/>
<line x1="1071.80" y1="2120.00" x2="1071.80" y2="2134.90" stroke="#222" stroke-width="2"/>
<line x1="1088.69" y1="2120.00" x2="1088.69" y2="2126.70" stroke="#222" stroke-width="2"/>
<line x1="1105.58" y1="2120.00" x2="1105.58" y2="2126.70" stroke="#222" stroke-width="2"/>
<line x1="1122.47" y1="2120.00" x2="1122.47" y2="2126.70" stroke="#222" stroke-width="2"/>
<line x1="1139.36" y1="2120.00" x2="1139.36" y2="2126.70" stroke="#222" stroke-width="2"/>
<line x1="1156.25" y1="2120.00" x2="1156.25" y2="2126.70" stroke="#222" stroke-width="2"/>
<line x1="1173.14" y1="2120.00" x2="1173.14" y2="2126.70" stroke="#222" stroke-width="2"/>
<line x1="1190.03" y1="2120.00" x2="1190.03" y2="2126.70" stroke="#222" stroke-width="2"/>
<line x1="1206.92" y1="2120.00" x2="1206.92" y2="2126.70" stroke="#222" stroke-width="2"/>
<line x1="1223.81" y1="2120.00" x2="1223.81" y2="2126.70" stroke="#222" stroke-width="2"/>
<line x1="1240.70" y1="2120.00" x2="1240.70" y2="2134.90" stroke="#222" stroke-width="2"/>
<line x1="1257.59" y1="2120.00" x2="1257.59" y2="2126.70" stroke="#222" stroke-width="2"/>
<line x1="1274.48" y1="2120.00" x2="1274.48" y2="2126.70" stroke="#222" stroke-width="2"/>
<line x1="1291.37" y1="2120.00" x2="1291.37" y2="2126.70" stroke="#222" stroke-width="2"/>
<line x1="1308.26" y1="2120.00" x2="1308.26" y2="2126.70" stroke="#222" stroke-width="2"/>
<line x1="1325.15" y1="2120.00" x2="1325.15" y2="2126.70" stroke="#222" stroke-width="2"/>
<line x1="1342.04" y1="2120.00" x2="1342.04" y2="2126.70" stroke="#222" stroke-width="2"/>
<line x1="1358.93" y1="2120.00" x2="1358.93" y2="2126.70" stroke="#222" stroke-width="2"/>
<line x1="1375.82" y1="2120.00" x2="1375.82" y2="2126.70" stroke="#222" stroke-width="2"/>
<line x1="1392.71" y1="2120.00" x2="1392.71" y2="2126.70" stroke="#222" stroke-width="2"/>
<text transform="matrix(0.19384,0.00000,0.00000,0.21892,87.41565,1686.53621)" font-family="Liberation Sans" font-weight="normal" font-size="100" fill="#333" stroke="#333" stroke-width="2.5">600</text>
<text transform="matrix(0.19384,0.00000,0.00000,0.21892,87.41565,1832.53621)" font-family="Liberation Sans" font-weight="normal" font-size="100" fill="#333" stroke="#333" stroke-width="2.5">400</text>
<text transform="matrix(0.19384,0.00000,0.00000,0.21892,87.41565,1978.63621)" font-family="Liberation Sans" font-weight="normal" font-size="100" fill="#333" stroke="#333" stroke-width="2.5">200</text>
<text transform="matrix(0.19384,0.00000,0.00000,0.21892,109.37668,2125.73621)" font-family="Liberation Sans" font-weight="normal" font-size="100" fill="#333" stroke="#333" stroke-width="2.5">0</text>
<text transform="matrix(0.19384,0.00000,0.00000,0.21327,214.68330,2155.99172)" font-family="Liberation Sans" font-weight="normal" font-size="100" fill="#333" stroke="#333" stroke-width="2.5">10</text>
<text transform="matrix(0.19384,0.00000,0.00000,0.21327,384.33576,2155.99172)" font-family="Liberation Sans" font-weight="normal" font-size="100" fill="#333" stroke="#333" stroke-width="2.5">20</text>
<text transform="matrix(0.19384,0.00000,0.00000,0.21327,553.59069,2155.99172)" font-family="Liberation Sans" font-weight="normal" font-size="100" fill="#333" stroke="#333" stroke-width="2.5">30</text>
<text transform="matrix(0.19384,0.00000,0.00000,0.21327,722.93081,2155.99172)" font-family="Liberation Sans" font-weight="normal" font-size="100" fill="#333" stroke="#333" stroke-width="2.5">40</text>
<text transform="matrix(0.19384,0.00000,0.00000,0.21327,891.33390,2155.99172)" font-family="Liberation Sans" font-weight="normal" font-size="100" fill="#333" stroke="#333" stroke-width="2.5">50</text>
<text transform="matrix(0.19384,0.00000,0.00000,0.21327,1059.92156,2155.99172)" font-family="Liberation Sans" font-weight="normal" font-size="100" fill="#333" stroke="#333" stroke-width="2.5">60</text>
<text transform="matrix(0.19384,0.00000,0.00000,0.21327,1228.80736,2155.99172)" font-family="Liberation Sans" font-weight="normal" font-size="100" fill="#333" stroke="#333" stroke-width="2.5">70</text>
<rect x="140.40" y="1582.20" width="3.70" height="539.10" fill="#000"/>
<rect x="1407.50" y="1582.20" width="2.70" height="539.10" fill="#000"/>
<rect x="140.40" y="1582.20" width="1269.80" height="3.80" fill="#000"/>
<rect x="140.40" y="2118.70" width="1269.80" height="2.60" fill="#000"/>
<rect x="1411.10" y="1578.00" width="2.70" height="33.70" fill="#000"/>
<rect x="1411.10" y="1856.00" width="2.70" height="45.20" fill="#000"/>
<text transform="matrix(0.50295,0.00000,0.00000,0.47092,188.78978,1638.27458)" font-family="Liberation Serif" font-weight="bold" font-size="100" fill="#000">(c)</text>
<text transform="matrix(0.00000,-0.50558,0.45621,0.00000,35.65405,2054.71089)" font-family="Liberation Serif" font-weight="bold" font-size="100" fill="#000">intensity count (au)</text>
<text transform="matrix(0.46280,0.00000,0.00000,0.49751,701.35658,2219.91975)" font-family="Liberation Serif" font-weight="bold" font-size="100" fill="#000">2Θ (degree)</text>
<text transform="matrix(0.33330,0.00000,0.00000,0.37264,537.67452,1648.20000)" font-family="Liberation Serif" font-weight="bold" font-size="100" fill="#000">A</text>
<text transform="matrix(0.33330,0.00000,0.00000,0.37567,582.47452,1643.80000)" font-family="Liberation Serif" font-weight="bold" font-size="100" fill="#000">A</text>
<text transform="matrix(0.34214,0.00000,0.00000,0.35730,615.73200,1615.69532)" font-family="Liberation Serif" font-weight="bold" font-size="100" fill="#000">B</text>
<text transform="matrix(0.37343,0.00000,0.00000,0.36614,629.07661,1665.74244)" font-family="Liberation Serif" font-weight="bold" font-size="100" fill="#000">C</text>
<text transform="matrix(0.31770,0.00000,0.00000,0.37264,562.28975,1929.00000)" font-family="Liberation Serif" font-weight="bold" font-size="100" fill="#000">A</text>
<text transform="matrix(0.35725,0.00000,0.00000,0.36042,575.38946,1972.60000)" font-family="Liberation Serif" font-weight="bold" font-size="100" fill="#000">P</text>
<text transform="matrix(0.38515,0.00000,0.00000,0.38698,657.11938,1975.62209)" font-family="Liberation Serif" font-weight="bold" font-size="100" fill="#000">C</text>
<text transform="matrix(0.35032,0.00000,0.00000,0.37264,702.65789,1963.60000)" font-family="Liberation Serif" font-weight="bold" font-size="100" fill="#000">A</text>
<text transform="matrix(0.35371,0.00000,0.00000,0.36195,797.39551,1998.70000)" font-family="Liberation Serif" font-weight="bold" font-size="100" fill="#000">P</text>
<text transform="matrix(0.34039,0.00000,0.00000,0.37718,747.66759,1822.70000)" font-family="Liberation Serif" font-weight="bold" font-size="100" fill="#000">A</text>
<text transform="matrix(0.35457,0.00000,0.00000,0.37567,909.65374,1858.80000)" font-family="Liberation Serif" font-weight="bold" font-size="100" fill="#000">A</text>
<text transform="matrix(0.33755,0.00000,0.00000,0.38476,1000.97036,1941.00000)" font-family="Liberation Serif" font-weight="bold" font-size="100" fill="#000">A</text>
<text transform="matrix(0.34748,0.00000,0.00000,0.38930,1101.06066,1933.10000)" font-family="Liberation Serif" font-weight="bold" font-size="100" fill="#000">A</text>
<text transform="matrix(0.30018,0.00000,0.00000,0.32973,1066.10685,1632.77800)" font-family="Liberation Serif" font-weight="bold" font-size="100" fill="#000">A = Alite</text>
<text transform="matrix(0.30766,0.00000,0.00000,0.32973,1066.88924,1673.07800)" font-family="Liberation Serif" font-weight="bold" font-size="100" fill="#000">B = Belite</text>
<text transform="matrix(0.30927,0.00000,0.00000,0.33142,1065.88988,1712.99544)" font-family="Liberation Serif" font-weight="bold" font-size="100" fill="#000">C = Calcium silicon oxide</text>
<text transform="matrix(0.30568,0.00000,0.00000,0.33115,1066.37759,1753.67661)" font-family="Liberation Serif" font-weight="bold" font-size="100" fill="#000">P = Pentlandite</text>
</svg></body></html>
